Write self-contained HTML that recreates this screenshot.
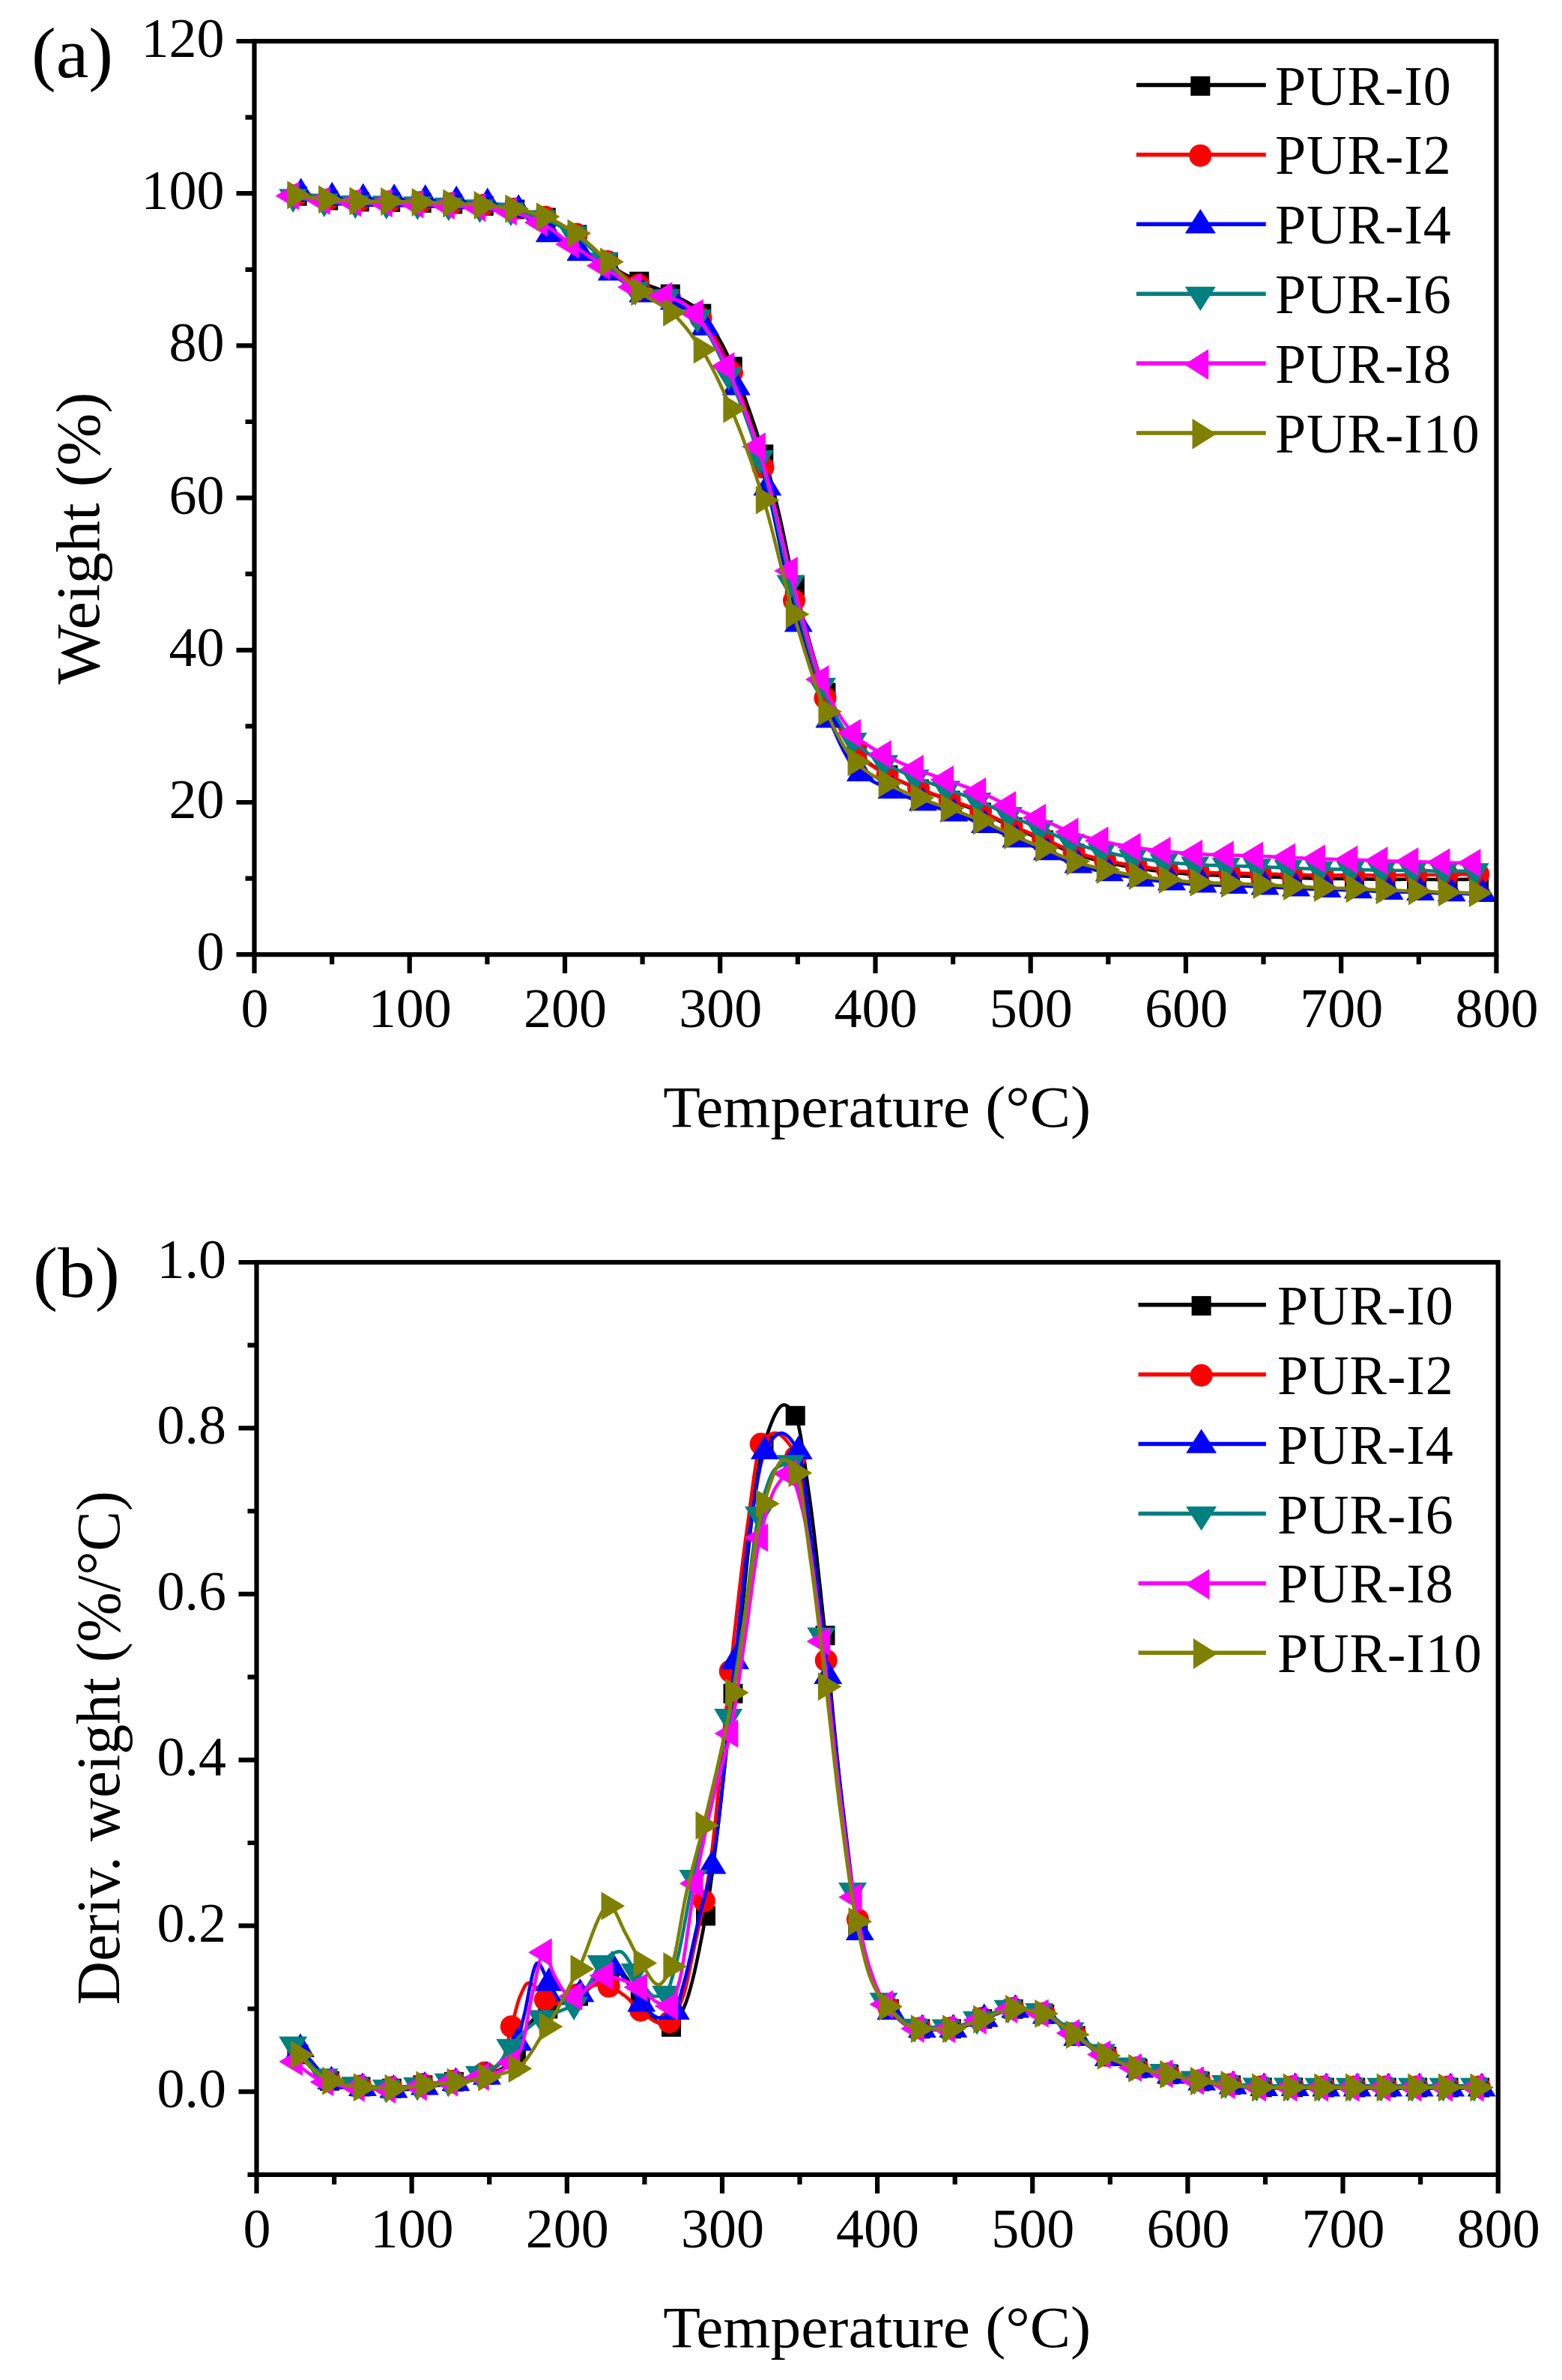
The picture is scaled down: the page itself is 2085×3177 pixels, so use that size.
<!DOCTYPE html>
<html lang="en"><head><meta charset="utf-8"><title>TGA and DTG curves of PUR foams</title>
<style>html,body{margin:0;padding:0;background:#fff}svg{display:block}</style></head>
<body>
<svg width="2085" height="3177" viewBox="0 0 2085 3177" font-family='"Liberation Serif", serif' fill="#000">
<rect width="2085" height="3177" fill="#fff"/>
<g id="pa">
<path d="M396.7,261.7 L397.5,261.8 L401.7,262.5 L405.8,263.2 L410.0,263.9 L414.1,264.6 L418.3,265.2 L422.4,265.9 L426.5,266.4 L430.7,266.9 L434.8,267.3 L438.2,267.5 L439.0,267.6 L443.1,267.9 L447.3,268.1 L451.4,268.4 L455.6,268.6 L459.7,268.8 L463.8,269.0 L468.0,269.1 L472.1,269.2 L476.3,269.3 L479.7,269.4 L480.4,269.4 L484.6,269.5 L488.7,269.5 L492.9,269.6 L497.0,269.6 L501.1,269.6 L505.3,269.7 L509.4,269.7 L513.6,269.8 L517.7,269.8 L521.2,269.9 L521.9,269.9 L526.0,270.0 L530.2,270.0 L534.3,270.1 L538.4,270.2 L542.6,270.3 L546.7,270.4 L550.9,270.5 L555.0,270.7 L559.2,270.8 L562.7,270.9 L563.3,270.9 L567.5,271.0 L571.6,271.1 L575.8,271.3 L579.9,271.4 L584.0,271.6 L588.2,271.7 L592.3,271.9 L596.5,272.0 L600.6,272.2 L604.2,272.4 L604.8,272.4 L608.9,272.6 L613.1,272.8 L617.2,273.0 L621.3,273.2 L625.5,273.5 L629.6,273.7 L633.8,274.0 L637.9,274.3 L642.1,274.6 L645.8,274.9 L646.2,274.9 L650.4,275.3 L652.4,275.4 L654.5,275.6 L656.6,275.8 L658.6,276.0 L660.7,276.2 L662.8,276.4 L664.9,276.6 L666.9,276.8 L669.0,277.1 L671.1,277.3 L673.2,277.6 L675.2,277.8 L677.3,278.1 L679.4,278.4 L681.4,278.6 L683.5,278.9 L685.6,279.2 L687.3,279.5 L687.7,279.6 L689.7,279.9 L691.8,280.3 L693.9,280.7 L695.9,281.1 L698.0,281.6 L700.1,282.0 L702.2,282.5 L704.2,283.0 L706.3,283.6 L708.4,284.1 L710.5,284.7 L712.5,285.3 L714.6,285.9 L716.7,286.5 L718.7,287.1 L720.8,287.8 L722.9,288.5 L725.0,289.2 L727.0,289.9 L728.8,290.5 L729.1,290.6 L731.2,291.4 L733.3,292.3 L735.3,293.2 L737.4,294.1 L739.5,295.1 L741.5,296.1 L743.6,297.2 L745.7,298.3 L747.8,299.4 L749.8,300.5 L751.9,301.7 L754.0,303.0 L756.0,304.2 L758.1,305.5 L760.2,306.8 L762.3,308.1 L764.3,309.4 L766.4,310.7 L768.5,312.1 L770.3,313.3 L770.6,313.5 L772.6,315.0 L774.7,316.5 L776.8,318.1 L778.8,319.8 L780.9,321.5 L783.0,323.2 L785.1,325.0 L787.1,326.9 L789.2,328.7 L791.3,330.6 L793.4,332.5 L795.4,334.4 L797.5,336.4 L799.6,338.3 L801.6,340.2 L803.7,342.2 L805.8,344.1 L807.9,346.1 L809.9,348.0 L811.8,349.7 L812.0,349.9 L814.1,351.8 L816.1,353.7 L818.2,355.6 L820.3,357.4 L822.4,359.1 L824.4,360.6 L826.5,362.0 L828.6,363.3 L830.7,364.5 L832.7,365.7 L834.8,366.7 L836.9,367.8 L838.9,368.8 L841.0,369.8 L843.1,370.7 L845.2,371.7 L847.2,372.7 L849.3,373.7 L851.4,374.8 L853.3,375.7 L853.4,375.8 L855.5,376.8 L857.6,377.7 L859.7,378.6 L861.7,379.5 L863.8,380.3 L865.9,381.1 L868.0,381.9 L870.0,382.7 L872.1,383.5 L874.2,384.2 L876.2,385.0 L878.3,385.7 L880.4,386.5 L882.5,387.3 L884.5,388.1 L886.6,388.9 L888.7,389.8 L890.8,390.7 L892.8,391.6 L894.8,392.6 L894.9,392.6 L897.0,393.6 L899.0,394.6 L901.1,395.5 L903.2,396.5 L905.3,397.4 L907.3,398.4 L909.4,399.3 L911.5,400.3 L913.5,401.4 L915.6,402.5 L917.7,403.6 L919.8,404.9 L921.8,406.2 L923.9,407.6 L926.0,409.1 L928.1,410.8 L930.1,412.6 L932.2,414.5 L934.3,416.5 L936.3,418.7 L936.3,418.7 L938.4,421.1 L940.5,423.5 L942.6,426.1 L944.6,428.8 L946.7,431.6 L948.8,434.6 L950.9,437.6 L952.9,440.8 L955.0,444.1 L957.1,447.5 L959.1,451.1 L961.2,454.8 L963.3,458.6 L965.4,462.5 L967.4,466.6 L969.5,470.8 L971.6,475.2 L973.6,479.7 L975.7,484.3 L977.8,489.2 L977.8,489.3 L979.9,494.1 L981.9,499.2 L984.0,504.3 L986.1,509.6 L988.2,515.0 L990.2,520.4 L992.3,526.0 L994.4,531.6 L996.4,537.3 L998.5,543.1 L1000.6,549.0 L1002.7,555.0 L1004.7,561.1 L1006.8,567.3 L1008.9,573.5 L1010.9,579.9 L1013.0,586.3 L1015.1,592.8 L1017.2,599.4 L1019.2,606.0 L1019.3,606.4 L1021.3,612.9 L1023.4,620.1 L1025.5,627.7 L1027.5,635.5 L1029.6,643.6 L1031.7,651.9 L1033.7,660.3 L1035.8,668.9 L1037.9,677.7 L1040.0,686.4 L1042.0,695.5 L1044.1,705.0 L1046.2,714.9 L1048.3,724.9 L1050.3,735.0 L1052.4,745.0 L1054.5,754.8 L1056.5,764.2 L1058.6,773.2 L1060.7,781.6 L1060.9,782.2 L1062.8,789.7 L1064.8,797.8 L1066.9,805.9 L1069.0,813.9 L1071.0,821.9 L1073.1,829.8 L1075.2,837.5 L1077.3,845.2 L1079.3,852.7 L1081.4,860.1 L1083.5,867.4 L1085.6,874.5 L1087.6,881.4 L1089.7,888.2 L1091.8,894.7 L1093.8,901.0 L1095.9,907.1 L1098.0,913.0 L1100.1,918.6 L1102.1,923.9 L1102.4,924.5 L1104.2,929.0 L1106.3,934.0 L1108.4,939.0 L1110.4,943.9 L1112.5,948.7 L1114.6,953.4 L1116.6,958.0 L1118.7,962.5 L1120.8,966.9 L1122.9,971.1 L1124.9,975.1 L1127.0,979.0 L1129.1,982.8 L1131.1,986.3 L1133.2,989.7 L1135.3,992.9 L1137.4,995.8 L1139.4,998.5 L1141.5,1001.0 L1143.6,1003.3 L1143.9,1003.6 L1145.7,1005.5 L1147.7,1007.6 L1149.8,1009.6 L1151.9,1011.5 L1153.9,1013.3 L1156.0,1015.1 L1158.1,1016.8 L1160.2,1018.4 L1162.2,1020.0 L1164.3,1021.5 L1166.4,1023.0 L1168.5,1024.4 L1170.5,1025.8 L1172.6,1027.1 L1174.7,1028.4 L1176.7,1029.6 L1178.8,1030.9 L1180.9,1032.1 L1183.0,1033.3 L1185.0,1034.4 L1185.4,1034.6 L1187.1,1035.5 L1189.2,1036.6 L1191.2,1037.7 L1193.3,1038.7 L1195.4,1039.8 L1197.5,1040.7 L1199.5,1041.7 L1201.6,1042.7 L1203.7,1043.6 L1205.8,1044.6 L1207.8,1045.5 L1209.9,1046.4 L1214.0,1048.1 L1218.2,1049.9 L1222.3,1051.6 L1226.5,1053.3 L1226.9,1053.4 L1230.6,1054.9 L1234.8,1056.5 L1238.9,1058.0 L1243.1,1059.5 L1247.2,1061.0 L1251.3,1062.4 L1255.5,1063.9 L1259.6,1065.4 L1263.8,1066.9 L1267.9,1068.4 L1268.4,1068.6 L1272.1,1070.0 L1276.2,1071.5 L1280.4,1073.0 L1284.5,1074.6 L1288.6,1076.1 L1292.8,1077.7 L1296.9,1079.3 L1301.1,1080.9 L1305.2,1082.6 L1309.4,1084.3 L1309.9,1084.5 L1313.5,1086.1 L1317.7,1088.0 L1321.8,1089.9 L1326.0,1091.9 L1330.1,1094.0 L1334.2,1096.0 L1338.4,1098.0 L1342.5,1100.0 L1346.7,1102.0 L1350.8,1103.9 L1351.4,1104.1 L1355.0,1105.7 L1359.1,1107.5 L1363.3,1109.2 L1367.4,1111.0 L1371.5,1112.7 L1375.7,1114.4 L1379.8,1116.1 L1384.0,1117.8 L1388.1,1119.5 L1392.3,1121.3 L1392.9,1121.5 L1396.4,1123.1 L1400.6,1124.9 L1404.7,1126.8 L1408.8,1128.7 L1413.0,1130.6 L1417.1,1132.5 L1421.3,1134.3 L1425.4,1136.0 L1429.6,1137.7 L1433.7,1139.2 L1434.4,1139.4 L1437.9,1140.6 L1442.0,1141.9 L1446.1,1143.2 L1450.3,1144.4 L1454.4,1145.6 L1458.6,1146.8 L1462.7,1147.8 L1466.9,1148.9 L1471.0,1149.9 L1475.2,1150.8 L1475.9,1151.0 L1479.3,1151.8 L1483.5,1152.6 L1487.6,1153.5 L1491.7,1154.3 L1495.9,1155.1 L1500.0,1155.9 L1504.2,1156.6 L1508.3,1157.3 L1512.5,1158.0 L1516.6,1158.6 L1517.5,1158.8 L1520.8,1159.3 L1524.9,1159.9 L1529.0,1160.5 L1533.2,1161.0 L1537.3,1161.6 L1541.5,1162.1 L1545.6,1162.6 L1549.8,1163.1 L1553.9,1163.6 L1558.1,1164.0 L1559.0,1164.1 L1562.2,1164.4 L1566.3,1164.9 L1570.5,1165.3 L1574.6,1165.7 L1578.8,1166.0 L1582.9,1166.4 L1587.1,1166.7 L1591.2,1167.0 L1595.4,1167.3 L1599.5,1167.5 L1600.5,1167.6 L1603.6,1167.7 L1607.8,1167.9 L1611.9,1168.1 L1616.1,1168.2 L1620.2,1168.3 L1624.4,1168.4 L1628.5,1168.6 L1632.7,1168.7 L1636.8,1168.8 L1641.0,1168.9 L1642.0,1168.9 L1645.1,1169.0 L1649.2,1169.2 L1653.4,1169.3 L1657.5,1169.4 L1661.7,1169.5 L1665.8,1169.6 L1670.0,1169.7 L1674.1,1169.8 L1678.3,1169.9 L1682.4,1170.1 L1683.5,1170.1 L1686.5,1170.2 L1690.7,1170.3 L1694.8,1170.5 L1699.0,1170.7 L1703.1,1170.8 L1707.3,1171.0 L1711.4,1171.1 L1715.6,1171.3 L1719.7,1171.4 L1723.8,1171.6 L1725.0,1171.6 L1728.0,1171.7 L1732.1,1171.9 L1736.3,1172.0 L1740.4,1172.1 L1744.6,1172.2 L1748.7,1172.4 L1752.9,1172.5 L1757.0,1172.6 L1761.1,1172.6 L1765.3,1172.7 L1766.5,1172.7 L1769.4,1172.8 L1773.6,1172.8 L1777.7,1172.8 L1781.9,1172.9 L1786.0,1172.9 L1790.2,1172.9 L1794.3,1172.9 L1798.5,1172.9 L1802.6,1173.0 L1806.7,1173.0 L1808.0,1173.0 L1810.9,1173.1 L1815.0,1173.2 L1819.2,1173.3 L1823.3,1173.4 L1827.5,1173.5 L1831.6,1173.6 L1835.8,1173.7 L1839.9,1173.8 L1844.0,1173.8 L1848.2,1173.9 L1849.5,1173.9 L1852.3,1173.9 L1856.5,1173.9 L1860.6,1173.9 L1864.8,1173.9 L1868.9,1173.9 L1873.1,1173.8 L1877.2,1173.8 L1881.3,1173.8 L1885.5,1173.8 L1889.6,1173.8 L1891.0,1173.8 L1893.8,1173.8 L1897.9,1173.8 L1902.1,1173.9 L1906.2,1173.9 L1910.4,1174.0 L1914.5,1174.0 L1918.6,1174.1 L1922.8,1174.1 L1926.9,1174.1 L1931.1,1174.1 L1932.6,1174.1 L1935.2,1174.1 L1939.4,1174.1 L1943.5,1174.0 L1947.7,1174.0 L1951.8,1173.9 L1956.0,1173.9 L1960.1,1173.8 L1964.2,1173.8 L1968.4,1173.7 L1972.5,1173.7 L1974.1,1173.7" fill="none" stroke="#000000" stroke-width="4.6" stroke-linejoin="round" stroke-linecap="butt"/>
<rect x="383.7" y="248.7" width="26.0" height="26.0" fill="#000000"/>
<rect x="425.2" y="254.5" width="26.0" height="26.0" fill="#000000"/>
<rect x="466.7" y="256.4" width="26.0" height="26.0" fill="#000000"/>
<rect x="508.2" y="256.9" width="26.0" height="26.0" fill="#000000"/>
<rect x="549.7" y="257.9" width="26.0" height="26.0" fill="#000000"/>
<rect x="591.2" y="259.4" width="26.0" height="26.0" fill="#000000"/>
<rect x="632.8" y="261.9" width="26.0" height="26.0" fill="#000000"/>
<rect x="674.3" y="266.5" width="26.0" height="26.0" fill="#000000"/>
<rect x="715.8" y="277.5" width="26.0" height="26.0" fill="#000000"/>
<rect x="757.3" y="300.3" width="26.0" height="26.0" fill="#000000"/>
<rect x="798.8" y="336.7" width="26.0" height="26.0" fill="#000000"/>
<rect x="840.3" y="362.7" width="26.0" height="26.0" fill="#000000"/>
<rect x="881.8" y="379.6" width="26.0" height="26.0" fill="#000000"/>
<rect x="923.3" y="405.7" width="26.0" height="26.0" fill="#000000"/>
<rect x="964.8" y="476.3" width="26.0" height="26.0" fill="#000000"/>
<rect x="1006.3" y="593.4" width="26.0" height="26.0" fill="#000000"/>
<rect x="1047.9" y="769.2" width="26.0" height="26.0" fill="#000000"/>
<rect x="1089.4" y="911.5" width="26.0" height="26.0" fill="#000000"/>
<rect x="1130.9" y="990.6" width="26.0" height="26.0" fill="#000000"/>
<rect x="1172.4" y="1021.6" width="26.0" height="26.0" fill="#000000"/>
<rect x="1213.9" y="1040.4" width="26.0" height="26.0" fill="#000000"/>
<rect x="1255.4" y="1055.6" width="26.0" height="26.0" fill="#000000"/>
<rect x="1296.9" y="1071.5" width="26.0" height="26.0" fill="#000000"/>
<rect x="1338.4" y="1091.1" width="26.0" height="26.0" fill="#000000"/>
<rect x="1379.9" y="1108.5" width="26.0" height="26.0" fill="#000000"/>
<rect x="1421.4" y="1126.4" width="26.0" height="26.0" fill="#000000"/>
<rect x="1462.9" y="1138.0" width="26.0" height="26.0" fill="#000000"/>
<rect x="1504.5" y="1145.8" width="26.0" height="26.0" fill="#000000"/>
<rect x="1546.0" y="1151.1" width="26.0" height="26.0" fill="#000000"/>
<rect x="1587.5" y="1154.6" width="26.0" height="26.0" fill="#000000"/>
<rect x="1629.0" y="1155.9" width="26.0" height="26.0" fill="#000000"/>
<rect x="1670.5" y="1157.1" width="26.0" height="26.0" fill="#000000"/>
<rect x="1712.0" y="1158.6" width="26.0" height="26.0" fill="#000000"/>
<rect x="1753.5" y="1159.7" width="26.0" height="26.0" fill="#000000"/>
<rect x="1795.0" y="1160.0" width="26.0" height="26.0" fill="#000000"/>
<rect x="1836.5" y="1160.9" width="26.0" height="26.0" fill="#000000"/>
<rect x="1878.0" y="1160.8" width="26.0" height="26.0" fill="#000000"/>
<rect x="1919.6" y="1161.1" width="26.0" height="26.0" fill="#000000"/>
<rect x="1961.1" y="1160.7" width="26.0" height="26.0" fill="#000000"/>
<path d="M395.9,260.5 L397.5,260.8 L401.7,261.5 L405.8,262.2 L410.0,262.9 L414.1,263.6 L418.3,264.2 L422.4,264.9 L426.5,265.4 L430.7,265.9 L434.8,266.3 L437.4,266.5 L439.0,266.6 L443.1,266.8 L447.3,267.1 L451.4,267.4 L455.6,267.6 L459.7,267.8 L463.8,268.0 L468.0,268.1 L472.1,268.2 L476.3,268.3 L478.9,268.4 L480.4,268.4 L484.6,268.5 L488.7,268.5 L492.9,268.6 L497.0,268.6 L501.1,268.7 L505.3,268.7 L509.4,268.7 L513.6,268.8 L517.7,268.9 L520.4,268.9 L521.9,268.9 L526.0,269.0 L530.2,269.1 L534.3,269.2 L538.4,269.3 L542.6,269.4 L546.7,269.5 L550.9,269.6 L555.0,269.7 L559.2,269.9 L561.9,269.9 L563.3,270.0 L567.5,270.1 L571.6,270.2 L575.8,270.4 L579.9,270.5 L584.0,270.7 L588.2,270.8 L592.3,271.0 L596.5,271.2 L600.6,271.4 L603.4,271.5 L604.8,271.5 L608.9,271.7 L613.1,272.0 L617.2,272.2 L621.3,272.4 L625.5,272.7 L629.6,273.0 L633.8,273.2 L637.9,273.5 L642.1,273.9 L644.9,274.1 L646.2,274.2 L650.4,274.5 L652.4,274.7 L654.5,274.9 L656.6,275.1 L658.6,275.3 L660.7,275.5 L662.8,275.7 L664.9,275.9 L666.9,276.1 L669.0,276.4 L671.1,276.6 L673.2,276.9 L675.2,277.1 L677.3,277.4 L679.4,277.7 L681.4,278.0 L683.5,278.3 L685.6,278.6 L686.4,278.8 L687.7,279.0 L689.7,279.3 L691.8,279.7 L693.9,280.1 L695.9,280.5 L698.0,281.0 L700.1,281.5 L702.2,282.0 L704.2,282.5 L706.3,283.0 L708.4,283.6 L710.5,284.1 L712.5,284.7 L714.6,285.4 L716.7,286.0 L718.7,286.6 L720.8,287.3 L722.9,288.0 L725.0,288.7 L727.0,289.4 L727.9,289.7 L729.1,290.2 L731.2,291.0 L733.3,291.8 L735.3,292.7 L737.4,293.7 L739.5,294.7 L741.5,295.7 L743.6,296.8 L745.7,297.9 L747.8,299.0 L749.8,300.2 L751.9,301.4 L754.0,302.6 L756.0,303.9 L758.1,305.1 L760.2,306.4 L762.3,307.8 L764.3,309.1 L766.4,310.4 L768.5,311.8 L769.5,312.5 L770.6,313.2 L772.6,314.7 L774.7,316.3 L776.8,317.9 L778.8,319.6 L780.9,321.3 L783.0,323.0 L785.1,324.8 L787.1,326.7 L789.2,328.6 L791.3,330.5 L793.4,332.4 L795.4,334.3 L797.5,336.2 L799.6,338.2 L801.6,340.2 L803.7,342.1 L805.8,344.1 L807.9,346.0 L809.9,347.9 L811.0,348.9 L812.0,349.8 L814.1,351.8 L816.1,353.7 L818.2,355.7 L820.3,357.6 L822.4,359.4 L824.4,361.2 L826.5,362.9 L828.6,364.6 L830.7,366.2 L832.7,367.8 L834.8,369.3 L836.9,370.7 L838.9,372.1 L841.0,373.5 L843.1,374.8 L845.2,376.1 L847.2,377.4 L849.3,378.6 L851.4,379.8 L852.5,380.4 L853.4,381.0 L855.5,382.1 L857.6,383.1 L859.7,384.0 L861.7,384.9 L863.8,385.8 L865.9,386.6 L868.0,387.4 L870.0,388.1 L872.1,388.8 L874.2,389.6 L876.2,390.3 L878.3,391.0 L880.4,391.7 L882.5,392.5 L884.5,393.2 L886.6,394.0 L888.7,394.9 L890.8,395.8 L892.8,396.7 L894.0,397.3 L894.9,397.7 L897.0,398.7 L899.0,399.7 L901.1,400.7 L903.2,401.7 L905.3,402.7 L907.3,403.7 L909.4,404.8 L911.5,405.9 L913.5,407.0 L915.6,408.2 L917.7,409.5 L919.8,410.9 L921.8,412.3 L923.9,413.8 L926.0,415.5 L928.1,417.3 L930.1,419.2 L932.2,421.3 L934.3,423.5 L935.5,424.8 L936.3,425.8 L938.4,428.4 L940.5,431.0 L942.6,433.8 L944.6,436.7 L946.7,439.7 L948.8,442.8 L950.9,446.1 L952.9,449.4 L955.0,452.9 L957.1,456.6 L959.1,460.3 L961.2,464.2 L963.3,468.1 L965.4,472.2 L967.4,476.4 L969.5,480.8 L971.6,485.2 L973.6,489.8 L975.7,494.5 L977.0,497.5 L977.8,499.3 L979.9,504.3 L981.9,509.5 L984.0,514.9 L986.1,520.4 L988.2,526.1 L990.2,531.9 L992.3,537.9 L994.4,544.0 L996.4,550.3 L998.5,556.7 L1000.6,563.2 L1002.7,569.8 L1004.7,576.6 L1006.8,583.4 L1008.9,590.4 L1010.9,597.4 L1013.0,604.5 L1015.1,611.7 L1017.2,619.0 L1018.5,623.8 L1019.2,626.3 L1021.3,633.9 L1023.4,641.9 L1025.5,650.3 L1027.5,659.0 L1029.6,668.0 L1031.7,677.3 L1033.7,686.7 L1035.8,696.2 L1037.9,705.9 L1040.0,715.6 L1042.0,725.2 L1044.1,734.8 L1046.2,744.4 L1048.3,753.7 L1050.3,762.9 L1052.4,771.7 L1054.5,780.3 L1056.5,788.6 L1058.6,796.4 L1060.0,801.5 L1060.7,803.9 L1062.8,811.3 L1064.8,818.6 L1066.9,825.9 L1069.0,833.2 L1071.0,840.4 L1073.1,847.5 L1075.2,854.5 L1077.3,861.5 L1079.3,868.3 L1081.4,875.1 L1083.5,881.7 L1085.6,888.1 L1087.6,894.4 L1089.7,900.5 L1091.8,906.5 L1093.8,912.2 L1095.9,917.8 L1098.0,923.1 L1100.1,928.2 L1101.5,931.7 L1102.1,933.0 L1104.2,937.7 L1106.3,942.3 L1108.4,946.8 L1110.4,951.3 L1112.5,955.6 L1114.6,959.9 L1116.6,964.1 L1118.7,968.2 L1120.8,972.2 L1122.9,976.1 L1124.9,979.8 L1127.0,983.4 L1129.1,986.8 L1131.1,990.1 L1133.2,993.2 L1135.3,996.1 L1137.4,998.8 L1139.4,1001.4 L1141.5,1003.7 L1143.0,1005.3 L1143.6,1005.8 L1145.7,1007.8 L1147.7,1009.8 L1149.8,1011.6 L1151.9,1013.4 L1153.9,1015.1 L1156.0,1016.7 L1158.1,1018.2 L1160.2,1019.7 L1162.2,1021.2 L1164.3,1022.5 L1166.4,1023.8 L1168.5,1025.1 L1170.5,1026.3 L1172.6,1027.5 L1174.7,1028.7 L1176.7,1029.9 L1178.8,1031.0 L1180.9,1032.2 L1183.0,1033.3 L1184.6,1034.2 L1185.0,1034.4 L1187.1,1035.5 L1189.2,1036.6 L1191.2,1037.6 L1193.3,1038.6 L1195.4,1039.6 L1197.5,1040.6 L1199.5,1041.5 L1201.6,1042.5 L1203.7,1043.4 L1205.8,1044.3 L1207.8,1045.2 L1209.9,1046.1 L1214.0,1047.8 L1218.2,1049.5 L1222.3,1051.1 L1226.1,1052.6 L1226.5,1052.8 L1230.6,1054.4 L1234.8,1055.9 L1238.9,1057.4 L1243.1,1058.8 L1247.2,1060.3 L1251.3,1061.7 L1255.5,1063.1 L1259.6,1064.5 L1263.8,1066.0 L1267.6,1067.3 L1267.9,1067.5 L1272.1,1069.0 L1276.2,1070.5 L1280.4,1072.0 L1284.5,1073.4 L1288.6,1075.0 L1292.8,1076.5 L1296.9,1078.1 L1301.1,1079.7 L1305.2,1081.3 L1309.1,1082.9 L1309.4,1083.0 L1313.5,1084.7 L1317.7,1086.6 L1321.8,1088.5 L1326.0,1090.5 L1330.1,1092.5 L1334.2,1094.5 L1338.4,1096.5 L1342.5,1098.4 L1346.7,1100.3 L1350.6,1102.1 L1350.8,1102.2 L1355.0,1104.0 L1359.1,1105.7 L1363.3,1107.5 L1367.4,1109.2 L1371.5,1110.8 L1375.7,1112.5 L1379.8,1114.2 L1384.0,1115.9 L1388.1,1117.6 L1392.1,1119.2 L1392.3,1119.3 L1396.4,1121.0 L1400.6,1122.9 L1404.7,1124.7 L1408.8,1126.6 L1413.0,1128.5 L1417.1,1130.3 L1421.3,1132.1 L1425.4,1133.8 L1429.6,1135.4 L1433.6,1136.9 L1433.7,1136.9 L1437.9,1138.3 L1442.0,1139.6 L1446.1,1140.8 L1450.3,1142.1 L1454.4,1143.2 L1458.6,1144.3 L1462.7,1145.4 L1466.9,1146.4 L1471.0,1147.4 L1475.1,1148.3 L1475.2,1148.3 L1479.3,1149.2 L1483.5,1150.1 L1487.6,1150.9 L1491.7,1151.7 L1495.9,1152.5 L1500.0,1153.2 L1504.2,1153.9 L1508.3,1154.6 L1512.5,1155.3 L1516.6,1155.9 L1516.6,1155.9 L1520.8,1156.5 L1524.9,1157.1 L1529.0,1157.7 L1533.2,1158.2 L1537.3,1158.8 L1541.5,1159.3 L1545.6,1159.8 L1549.8,1160.2 L1553.9,1160.7 L1558.1,1161.1 L1558.1,1161.1 L1562.2,1161.5 L1566.3,1161.9 L1570.5,1162.3 L1574.6,1162.7 L1578.8,1163.0 L1582.9,1163.4 L1587.1,1163.7 L1591.2,1163.9 L1595.4,1164.2 L1599.5,1164.4 L1599.6,1164.4 L1603.6,1164.6 L1607.8,1164.7 L1611.9,1164.9 L1616.1,1165.0 L1620.2,1165.1 L1624.4,1165.2 L1628.5,1165.3 L1632.7,1165.3 L1636.8,1165.4 L1641.0,1165.5 L1641.2,1165.5 L1645.1,1165.6 L1649.2,1165.7 L1653.4,1165.8 L1657.5,1165.9 L1661.7,1165.9 L1665.8,1166.0 L1670.0,1166.1 L1674.1,1166.2 L1678.3,1166.3 L1682.4,1166.4 L1682.7,1166.4 L1686.5,1166.5 L1690.7,1166.6 L1694.8,1166.7 L1699.0,1166.8 L1703.1,1166.9 L1707.3,1167.1 L1711.4,1167.2 L1715.6,1167.3 L1719.7,1167.4 L1723.8,1167.5 L1724.2,1167.5 L1728.0,1167.6 L1732.1,1167.7 L1736.3,1167.8 L1740.4,1167.9 L1744.6,1168.0 L1748.7,1168.0 L1752.9,1168.1 L1757.0,1168.2 L1761.1,1168.2 L1765.3,1168.2 L1765.7,1168.2 L1769.4,1168.2 L1773.6,1168.2 L1777.7,1168.2 L1781.9,1168.2 L1786.0,1168.2 L1790.2,1168.1 L1794.3,1168.1 L1798.5,1168.1 L1802.6,1168.1 L1806.7,1168.1 L1807.2,1168.1 L1810.9,1168.1 L1815.0,1168.1 L1819.2,1168.2 L1823.3,1168.2 L1827.5,1168.3 L1831.6,1168.4 L1835.8,1168.4 L1839.9,1168.5 L1844.0,1168.5 L1848.2,1168.5 L1848.7,1168.5 L1852.3,1168.4 L1856.5,1168.4 L1860.6,1168.3 L1864.8,1168.3 L1868.9,1168.2 L1873.1,1168.1 L1877.2,1168.1 L1881.3,1168.0 L1885.5,1167.9 L1889.6,1167.9 L1890.2,1167.9 L1893.8,1167.9 L1897.9,1167.8 L1902.1,1167.8 L1906.2,1167.8 L1910.4,1167.8 L1914.5,1167.8 L1918.6,1167.8 L1922.8,1167.8 L1926.9,1167.8 L1931.1,1167.7 L1931.7,1167.7 L1935.2,1167.7 L1939.4,1167.6 L1943.5,1167.5 L1947.7,1167.4 L1951.8,1167.3 L1956.0,1167.2 L1960.1,1167.1 L1964.2,1167.0 L1968.4,1167.0 L1972.5,1166.9 L1973.2,1166.9" fill="none" stroke="#FF0000" stroke-width="4.6" stroke-linejoin="round" stroke-linecap="butt"/>
<circle cx="395.9" cy="260.5" r="15" fill="#FF0000"/>
<circle cx="437.4" cy="266.5" r="15" fill="#FF0000"/>
<circle cx="478.9" cy="268.4" r="15" fill="#FF0000"/>
<circle cx="520.4" cy="268.9" r="15" fill="#FF0000"/>
<circle cx="561.9" cy="269.9" r="15" fill="#FF0000"/>
<circle cx="603.4" cy="271.5" r="15" fill="#FF0000"/>
<circle cx="644.9" cy="274.1" r="15" fill="#FF0000"/>
<circle cx="686.4" cy="278.8" r="15" fill="#FF0000"/>
<circle cx="727.9" cy="289.7" r="15" fill="#FF0000"/>
<circle cx="769.5" cy="312.5" r="15" fill="#FF0000"/>
<circle cx="811.0" cy="348.9" r="15" fill="#FF0000"/>
<circle cx="852.5" cy="380.4" r="15" fill="#FF0000"/>
<circle cx="894.0" cy="397.3" r="15" fill="#FF0000"/>
<circle cx="935.5" cy="424.8" r="15" fill="#FF0000"/>
<circle cx="977.0" cy="497.5" r="15" fill="#FF0000"/>
<circle cx="1018.5" cy="623.8" r="15" fill="#FF0000"/>
<circle cx="1060.0" cy="801.5" r="15" fill="#FF0000"/>
<circle cx="1101.5" cy="931.7" r="15" fill="#FF0000"/>
<circle cx="1143.0" cy="1005.3" r="15" fill="#FF0000"/>
<circle cx="1184.6" cy="1034.2" r="15" fill="#FF0000"/>
<circle cx="1226.1" cy="1052.6" r="15" fill="#FF0000"/>
<circle cx="1267.6" cy="1067.3" r="15" fill="#FF0000"/>
<circle cx="1309.1" cy="1082.9" r="15" fill="#FF0000"/>
<circle cx="1350.6" cy="1102.1" r="15" fill="#FF0000"/>
<circle cx="1392.1" cy="1119.2" r="15" fill="#FF0000"/>
<circle cx="1433.6" cy="1136.9" r="15" fill="#FF0000"/>
<circle cx="1475.1" cy="1148.3" r="15" fill="#FF0000"/>
<circle cx="1516.6" cy="1155.9" r="15" fill="#FF0000"/>
<circle cx="1558.1" cy="1161.1" r="15" fill="#FF0000"/>
<circle cx="1599.6" cy="1164.4" r="15" fill="#FF0000"/>
<circle cx="1641.2" cy="1165.5" r="15" fill="#FF0000"/>
<circle cx="1682.7" cy="1166.4" r="15" fill="#FF0000"/>
<circle cx="1724.2" cy="1167.5" r="15" fill="#FF0000"/>
<circle cx="1765.7" cy="1168.2" r="15" fill="#FF0000"/>
<circle cx="1807.2" cy="1168.1" r="15" fill="#FF0000"/>
<circle cx="1848.7" cy="1168.5" r="15" fill="#FF0000"/>
<circle cx="1890.2" cy="1167.9" r="15" fill="#FF0000"/>
<circle cx="1931.7" cy="1167.7" r="15" fill="#FF0000"/>
<circle cx="1973.2" cy="1166.9" r="15" fill="#FF0000"/>
<path d="M401.7,258.4 L405.8,259.1 L410.0,259.8 L414.1,260.5 L418.3,261.2 L422.4,261.8 L426.5,262.4 L430.7,262.8 L434.8,263.2 L439.0,263.5 L443.1,263.8 L443.2,263.8 L447.3,264.1 L451.4,264.3 L455.6,264.5 L459.7,264.7 L463.8,264.9 L468.0,265.1 L472.1,265.2 L476.3,265.3 L480.4,265.4 L484.6,265.4 L484.7,265.4 L488.7,265.5 L492.9,265.5 L497.0,265.6 L501.1,265.6 L505.3,265.7 L509.4,265.7 L513.6,265.7 L517.7,265.8 L521.9,265.9 L526.0,266.0 L526.2,266.0 L530.2,266.0 L534.3,266.1 L538.4,266.2 L542.6,266.3 L546.7,266.5 L550.9,266.6 L555.0,266.7 L559.2,266.8 L563.3,266.9 L567.5,267.1 L567.7,267.1 L571.6,267.2 L575.8,267.3 L579.9,267.5 L584.0,267.6 L588.2,267.8 L592.3,267.9 L596.5,268.1 L600.6,268.3 L604.8,268.5 L608.9,268.7 L609.2,268.7 L613.1,268.9 L617.2,269.1 L621.3,269.4 L625.5,269.6 L629.6,269.9 L633.8,270.2 L637.9,270.5 L642.1,270.8 L646.2,271.1 L650.4,271.5 L650.7,271.5 L652.4,271.7 L654.5,271.8 L656.6,272.0 L658.6,272.2 L660.7,272.4 L662.8,272.7 L664.9,272.9 L666.9,273.1 L669.0,273.3 L671.1,273.6 L673.2,273.8 L675.2,274.1 L677.3,274.4 L679.4,274.7 L681.4,274.9 L683.5,275.4 L685.6,276.1 L687.7,277.2 L689.7,278.4 L691.8,279.9 L692.2,280.2 L693.9,281.5 L695.9,283.3 L698.0,285.3 L700.1,287.3 L702.2,289.4 L704.2,291.5 L706.3,293.6 L708.4,295.8 L710.5,297.8 L712.5,299.8 L714.6,301.6 L716.7,303.3 L718.7,304.9 L720.8,306.2 L722.9,307.3 L725.0,308.3 L727.0,309.3 L729.1,310.3 L731.2,311.3 L733.3,312.4 L733.7,312.7 L735.3,313.5 L737.4,314.7 L739.5,315.9 L741.5,317.1 L743.6,318.3 L745.7,319.6 L747.8,320.9 L749.8,322.2 L751.9,323.5 L754.0,324.8 L756.0,326.1 L758.1,327.4 L760.2,328.8 L762.3,330.1 L764.3,331.4 L766.4,332.6 L768.5,333.8 L770.6,335.0 L772.6,336.1 L774.7,337.3 L775.3,337.6 L776.8,338.5 L778.8,339.7 L780.9,340.8 L783.0,342.1 L785.1,343.3 L787.1,344.5 L789.2,345.7 L791.3,347.0 L793.4,348.3 L795.4,349.5 L797.5,350.8 L799.6,352.2 L801.6,353.5 L803.7,354.9 L805.8,356.3 L807.9,357.7 L809.9,359.1 L812.0,360.5 L814.1,362.0 L816.1,363.6 L816.8,364.0 L818.2,365.2 L820.3,366.8 L822.4,368.5 L824.4,370.2 L826.5,371.9 L828.6,373.6 L830.7,375.3 L832.7,377.0 L834.8,378.7 L836.9,380.3 L838.9,381.9 L841.0,383.4 L843.1,384.9 L845.2,386.3 L847.2,387.6 L849.3,388.8 L851.4,389.9 L853.4,390.9 L855.5,391.8 L857.6,392.6 L858.3,392.8 L859.7,393.2 L861.7,393.8 L863.8,394.3 L865.9,394.8 L868.0,395.2 L870.0,395.5 L872.1,395.9 L874.2,396.2 L876.2,396.5 L878.3,396.8 L880.4,397.1 L882.5,397.4 L884.5,397.8 L886.6,398.3 L888.7,398.8 L890.8,399.3 L892.8,400.0 L894.9,400.8 L897.0,401.6 L899.0,402.5 L899.8,402.8 L901.1,403.4 L903.2,404.4 L905.3,405.4 L907.3,406.5 L909.4,407.7 L911.5,409.0 L913.5,410.3 L915.6,411.7 L917.7,413.2 L919.8,414.7 L921.8,416.4 L923.9,418.1 L926.0,420.0 L928.1,422.0 L930.1,424.0 L932.2,426.2 L934.3,428.5 L936.3,430.9 L938.4,433.5 L940.5,436.1 L941.3,437.2 L942.6,438.9 L944.6,441.8 L946.7,444.8 L948.8,447.9 L950.9,451.2 L952.9,454.6 L955.0,458.1 L957.1,461.7 L959.1,465.4 L961.2,469.3 L963.3,473.2 L965.4,477.3 L967.4,481.5 L969.5,485.9 L971.6,490.3 L973.6,494.9 L975.7,499.6 L977.8,504.4 L979.9,509.4 L981.9,514.6 L982.8,516.8 L984.0,519.9 L986.1,525.4 L988.2,531.1 L990.2,536.9 L992.3,542.9 L994.4,549.0 L996.4,555.3 L998.5,561.6 L1000.6,568.1 L1002.7,574.8 L1004.7,581.5 L1006.8,588.3 L1008.9,595.3 L1010.9,602.3 L1013.0,609.5 L1015.1,616.7 L1017.2,624.0 L1019.2,631.4 L1021.3,639.1 L1023.4,647.2 L1024.3,651.0 L1025.5,655.7 L1027.5,664.6 L1029.6,673.7 L1031.7,683.2 L1033.7,692.8 L1035.8,702.6 L1037.9,712.5 L1040.0,722.5 L1042.0,732.5 L1044.1,742.4 L1046.2,752.2 L1048.3,761.9 L1050.3,771.4 L1052.4,780.6 L1054.5,789.5 L1056.5,798.1 L1058.6,806.3 L1060.7,814.1 L1062.8,821.7 L1064.8,829.4 L1065.8,833.0 L1066.9,836.9 L1069.0,844.5 L1071.0,851.9 L1073.1,859.3 L1075.2,866.5 L1077.3,873.7 L1079.3,880.8 L1081.4,887.7 L1083.5,894.5 L1085.6,901.2 L1087.6,907.7 L1089.7,914.1 L1091.8,920.3 L1093.8,926.3 L1095.9,932.1 L1098.0,937.7 L1100.1,943.1 L1102.1,948.3 L1104.2,953.3 L1106.3,958.3 L1107.3,960.8 L1108.4,963.2 L1110.4,968.1 L1112.5,972.9 L1114.6,977.7 L1116.6,982.4 L1118.7,987.0 L1120.8,991.4 L1122.9,995.7 L1124.9,999.9 L1127.0,1003.8 L1129.1,1007.6 L1131.1,1011.2 L1133.2,1014.6 L1135.3,1017.8 L1137.4,1020.7 L1139.4,1023.3 L1141.5,1025.6 L1143.6,1027.7 L1145.7,1029.6 L1147.7,1031.4 L1148.8,1032.4 L1149.8,1033.1 L1151.9,1034.7 L1153.9,1036.2 L1156.0,1037.6 L1158.1,1039.0 L1160.2,1040.2 L1162.2,1041.4 L1164.3,1042.5 L1166.4,1043.6 L1168.5,1044.7 L1170.5,1045.7 L1172.6,1046.7 L1174.7,1047.7 L1176.7,1048.7 L1178.8,1049.7 L1180.9,1050.7 L1183.0,1051.7 L1185.0,1052.7 L1187.1,1053.7 L1189.2,1054.7 L1190.4,1055.3 L1191.2,1055.7 L1193.3,1056.6 L1195.4,1057.5 L1197.5,1058.4 L1199.5,1059.3 L1201.6,1060.2 L1203.7,1061.0 L1205.8,1061.9 L1207.8,1062.7 L1209.9,1063.5 L1214.0,1065.1 L1218.2,1066.7 L1222.3,1068.2 L1226.5,1069.8 L1230.6,1071.3 L1231.9,1071.7 L1234.8,1072.7 L1238.9,1074.1 L1243.1,1075.5 L1247.2,1076.8 L1251.3,1078.2 L1255.5,1079.6 L1259.6,1080.9 L1263.8,1082.4 L1267.9,1083.8 L1272.1,1085.3 L1273.4,1085.8 L1276.2,1086.8 L1280.4,1088.2 L1284.5,1089.7 L1288.6,1091.2 L1292.8,1092.7 L1296.9,1094.3 L1301.1,1095.8 L1305.2,1097.5 L1309.4,1099.1 L1313.5,1100.9 L1314.9,1101.5 L1317.7,1102.7 L1321.8,1104.6 L1326.0,1106.6 L1330.1,1108.6 L1334.2,1110.6 L1338.4,1112.5 L1342.5,1114.5 L1346.7,1116.4 L1350.8,1118.3 L1355.0,1120.0 L1356.4,1120.7 L1359.1,1121.8 L1363.3,1123.5 L1367.4,1125.2 L1371.5,1126.9 L1375.7,1128.6 L1379.8,1130.2 L1384.0,1131.9 L1388.1,1133.6 L1392.3,1135.3 L1396.4,1137.1 L1397.9,1137.7 L1400.6,1138.9 L1404.7,1140.8 L1408.8,1142.7 L1413.0,1144.5 L1417.1,1146.4 L1421.3,1148.2 L1425.4,1149.9 L1429.6,1151.5 L1433.7,1153.0 L1437.9,1154.3 L1439.4,1154.8 L1442.0,1155.7 L1446.1,1156.9 L1450.3,1158.1 L1454.4,1159.3 L1458.6,1160.4 L1462.7,1161.5 L1466.9,1162.5 L1471.0,1163.5 L1475.2,1164.4 L1479.3,1165.3 L1480.9,1165.7 L1483.5,1166.2 L1487.6,1167.0 L1491.7,1167.8 L1495.9,1168.6 L1500.0,1169.4 L1504.2,1170.1 L1508.3,1170.8 L1512.5,1171.4 L1516.6,1172.1 L1520.8,1172.7 L1522.4,1172.9 L1524.9,1173.3 L1529.0,1173.9 L1533.2,1174.4 L1537.3,1175.0 L1541.5,1175.5 L1545.6,1176.0 L1549.8,1176.5 L1553.9,1176.9 L1558.1,1177.3 L1562.2,1177.7 L1563.9,1177.9 L1566.3,1178.1 L1570.5,1178.5 L1574.6,1178.9 L1578.8,1179.3 L1582.9,1179.6 L1587.1,1179.9 L1591.2,1180.2 L1595.4,1180.5 L1599.5,1180.7 L1603.6,1180.9 L1605.5,1181.0 L1607.8,1181.0 L1611.9,1181.2 L1616.1,1181.3 L1620.2,1181.5 L1624.4,1181.6 L1628.5,1181.7 L1632.7,1181.9 L1636.8,1182.0 L1641.0,1182.1 L1645.1,1182.3 L1647.0,1182.3 L1649.2,1182.4 L1653.4,1182.5 L1657.5,1182.7 L1661.7,1182.8 L1665.8,1182.9 L1670.0,1183.1 L1674.1,1183.2 L1678.3,1183.4 L1682.4,1183.5 L1686.5,1183.7 L1688.5,1183.8 L1690.7,1183.9 L1694.8,1184.1 L1699.0,1184.3 L1703.1,1184.5 L1707.3,1184.7 L1711.4,1184.9 L1715.6,1185.1 L1719.7,1185.3 L1723.8,1185.5 L1728.0,1185.7 L1730.0,1185.8 L1732.1,1185.9 L1736.3,1186.1 L1740.4,1186.3 L1744.6,1186.5 L1748.7,1186.6 L1752.9,1186.8 L1757.0,1187.0 L1761.1,1187.1 L1765.3,1187.3 L1769.4,1187.4 L1771.5,1187.5 L1773.6,1187.5 L1777.7,1187.6 L1781.9,1187.7 L1786.0,1187.8 L1790.2,1187.9 L1794.3,1188.0 L1798.5,1188.1 L1802.6,1188.2 L1806.7,1188.4 L1810.9,1188.5 L1813.0,1188.6 L1815.0,1188.7 L1819.2,1188.9 L1823.3,1189.1 L1827.5,1189.3 L1831.6,1189.5 L1835.8,1189.6 L1839.9,1189.8 L1844.0,1190.0 L1848.2,1190.1 L1852.3,1190.2 L1854.5,1190.3 L1856.5,1190.3 L1860.6,1190.4 L1864.8,1190.5 L1868.9,1190.6 L1873.1,1190.7 L1877.2,1190.8 L1881.3,1190.9 L1885.5,1191.0 L1889.6,1191.1 L1893.8,1191.2 L1896.0,1191.3 L1897.9,1191.3 L1902.1,1191.5 L1906.2,1191.6 L1910.4,1191.8 L1914.5,1192.0 L1918.6,1192.1 L1922.8,1192.3 L1926.9,1192.4 L1931.1,1192.5 L1935.2,1192.6 L1937.5,1192.7 L1939.4,1192.7 L1943.5,1192.8 L1947.7,1192.8 L1951.8,1192.9 L1956.0,1193.0 L1960.1,1193.1 L1964.2,1193.1 L1968.4,1193.2 L1972.5,1193.3 L1976.7,1193.4 L1979.0,1193.4" fill="none" stroke="#0000FF" stroke-width="4.6" stroke-linejoin="round" stroke-linecap="butt"/>
<polygon points="401.7,237.4 382.7,269.0 420.7,269.0" fill="#0000FF"/>
<polygon points="443.2,242.8 424.2,274.4 462.2,274.4" fill="#0000FF"/>
<polygon points="484.7,244.4 465.7,276.0 503.7,276.0" fill="#0000FF"/>
<polygon points="526.2,245.0 507.2,276.6 545.2,276.6" fill="#0000FF"/>
<polygon points="567.7,246.1 548.7,277.7 586.7,277.7" fill="#0000FF"/>
<polygon points="609.2,247.7 590.2,279.3 628.2,279.3" fill="#0000FF"/>
<polygon points="650.7,250.5 631.7,282.1 669.7,282.1" fill="#0000FF"/>
<polygon points="692.2,259.2 673.2,290.8 711.2,290.8" fill="#0000FF"/>
<polygon points="733.7,291.7 714.7,323.3 752.7,323.3" fill="#0000FF"/>
<polygon points="775.3,316.6 756.3,348.2 794.3,348.2" fill="#0000FF"/>
<polygon points="816.8,343.0 797.8,374.6 835.8,374.6" fill="#0000FF"/>
<polygon points="858.3,371.8 839.3,403.4 877.3,403.4" fill="#0000FF"/>
<polygon points="899.8,381.8 880.8,413.4 918.8,413.4" fill="#0000FF"/>
<polygon points="941.3,416.2 922.3,447.8 960.3,447.8" fill="#0000FF"/>
<polygon points="982.8,495.8 963.8,527.4 1001.8,527.4" fill="#0000FF"/>
<polygon points="1024.3,630.0 1005.3,661.6 1043.3,661.6" fill="#0000FF"/>
<polygon points="1065.8,812.0 1046.8,843.6 1084.8,843.6" fill="#0000FF"/>
<polygon points="1107.3,939.8 1088.3,971.4 1126.3,971.4" fill="#0000FF"/>
<polygon points="1148.8,1011.4 1129.8,1043.0 1167.8,1043.0" fill="#0000FF"/>
<polygon points="1190.4,1034.3 1171.4,1065.9 1209.4,1065.9" fill="#0000FF"/>
<polygon points="1231.9,1050.7 1212.9,1082.3 1250.9,1082.3" fill="#0000FF"/>
<polygon points="1273.4,1064.8 1254.4,1096.4 1292.4,1096.4" fill="#0000FF"/>
<polygon points="1314.9,1080.5 1295.9,1112.1 1333.9,1112.1" fill="#0000FF"/>
<polygon points="1356.4,1099.7 1337.4,1131.3 1375.4,1131.3" fill="#0000FF"/>
<polygon points="1397.9,1116.7 1378.9,1148.3 1416.9,1148.3" fill="#0000FF"/>
<polygon points="1439.4,1133.8 1420.4,1165.4 1458.4,1165.4" fill="#0000FF"/>
<polygon points="1480.9,1144.7 1461.9,1176.3 1499.9,1176.3" fill="#0000FF"/>
<polygon points="1522.4,1151.9 1503.4,1183.5 1541.4,1183.5" fill="#0000FF"/>
<polygon points="1563.9,1156.9 1544.9,1188.5 1582.9,1188.5" fill="#0000FF"/>
<polygon points="1605.5,1160.0 1586.5,1191.6 1624.5,1191.6" fill="#0000FF"/>
<polygon points="1647.0,1161.3 1628.0,1192.9 1666.0,1192.9" fill="#0000FF"/>
<polygon points="1688.5,1162.8 1669.5,1194.4 1707.5,1194.4" fill="#0000FF"/>
<polygon points="1730.0,1164.8 1711.0,1196.4 1749.0,1196.4" fill="#0000FF"/>
<polygon points="1771.5,1166.5 1752.5,1198.1 1790.5,1198.1" fill="#0000FF"/>
<polygon points="1813.0,1167.6 1794.0,1199.2 1832.0,1199.2" fill="#0000FF"/>
<polygon points="1854.5,1169.3 1835.5,1200.9 1873.5,1200.9" fill="#0000FF"/>
<polygon points="1896.0,1170.3 1877.0,1201.9 1915.0,1201.9" fill="#0000FF"/>
<polygon points="1937.5,1171.7 1918.5,1203.3 1956.5,1203.3" fill="#0000FF"/>
<polygon points="1979.0,1172.4 1960.0,1204.0 1998.0,1204.0" fill="#0000FF"/>
<path d="M391.3,262.9 L393.4,263.2 L397.5,263.8 L401.7,264.5 L405.8,265.2 L410.0,265.9 L414.1,266.6 L418.3,267.3 L422.4,267.9 L426.5,268.5 L430.7,268.9 L432.8,269.1 L434.8,269.3 L439.0,269.6 L443.1,269.9 L447.3,270.2 L451.4,270.4 L455.6,270.6 L459.7,270.8 L463.8,271.0 L468.0,271.2 L472.1,271.3 L474.3,271.3 L476.3,271.4 L480.4,271.5 L484.6,271.5 L488.7,271.6 L492.9,271.6 L497.0,271.7 L501.1,271.7 L505.3,271.7 L509.4,271.8 L513.6,271.8 L515.8,271.9 L517.7,271.9 L521.9,272.0 L526.0,272.0 L530.2,272.1 L534.3,272.2 L538.4,272.3 L542.6,272.4 L546.7,272.5 L550.9,272.7 L555.0,272.8 L557.3,272.8 L559.2,272.9 L563.3,273.0 L567.5,273.2 L571.6,273.3 L575.8,273.4 L579.9,273.6 L584.0,273.7 L588.2,273.9 L592.3,274.0 L596.5,274.2 L598.9,274.3 L600.6,274.4 L604.8,274.6 L608.9,274.8 L613.1,275.0 L617.2,275.2 L621.3,275.5 L625.5,275.7 L629.6,276.0 L633.8,276.3 L637.9,276.6 L640.4,276.8 L642.1,276.9 L646.2,277.2 L650.4,277.6 L652.4,277.8 L654.5,277.9 L656.6,278.1 L658.6,278.3 L660.7,278.5 L662.8,278.7 L664.9,279.0 L666.9,279.2 L669.0,279.4 L671.1,279.7 L673.2,279.9 L675.2,280.2 L677.3,280.5 L679.4,280.7 L681.4,281.0 L681.9,281.1 L683.5,281.3 L685.6,281.7 L687.7,282.0 L689.7,282.4 L691.8,282.7 L693.9,283.2 L695.9,283.6 L698.0,284.0 L700.1,284.5 L702.2,285.0 L704.2,285.5 L706.3,286.1 L708.4,286.6 L710.5,287.2 L712.5,287.8 L714.6,288.4 L716.7,289.0 L718.7,289.7 L720.8,290.3 L722.9,291.0 L723.4,291.2 L725.0,291.7 L727.0,292.5 L729.1,293.2 L731.2,294.0 L733.3,294.9 L735.3,295.8 L737.4,296.7 L739.5,297.7 L741.5,298.8 L743.6,299.8 L745.7,300.9 L747.8,302.1 L749.8,303.2 L751.9,304.4 L754.0,305.7 L756.0,306.9 L758.1,308.2 L760.2,309.5 L762.3,310.8 L764.3,312.1 L764.9,312.5 L766.4,313.5 L768.5,314.9 L770.6,316.3 L772.6,317.8 L774.7,319.3 L776.8,320.9 L778.8,322.6 L780.9,324.3 L783.0,326.1 L785.1,327.9 L787.1,329.7 L789.2,331.6 L791.3,333.5 L793.4,335.4 L795.4,337.3 L797.5,339.3 L799.6,341.2 L801.6,343.2 L803.7,345.2 L805.8,347.1 L806.4,347.7 L807.9,349.0 L809.9,351.0 L812.0,352.9 L814.1,354.8 L816.1,356.8 L818.2,358.8 L820.3,360.9 L822.4,363.0 L824.4,365.1 L826.5,367.2 L828.6,369.3 L830.7,371.4 L832.7,373.6 L834.8,375.7 L836.9,377.7 L838.9,379.7 L841.0,381.6 L843.1,383.3 L845.2,384.9 L847.2,386.3 L847.9,386.7 L849.3,387.6 L851.4,388.7 L853.4,389.7 L855.5,390.5 L857.6,391.2 L859.7,391.8 L861.7,392.2 L863.8,392.6 L865.9,392.9 L868.0,393.2 L870.0,393.4 L872.1,393.6 L874.2,393.8 L876.2,393.9 L878.3,394.2 L880.4,394.4 L882.5,394.7 L884.5,395.1 L886.6,395.5 L888.7,396.1 L889.4,396.3 L890.8,396.7 L892.8,397.2 L894.9,397.8 L897.0,398.5 L899.0,399.2 L901.1,399.9 L903.2,400.8 L905.3,401.7 L907.3,402.7 L909.4,403.7 L911.5,405.0 L913.5,406.3 L915.6,407.7 L917.7,409.4 L919.8,411.1 L921.8,413.1 L923.9,415.2 L926.0,417.5 L928.1,420.0 L930.1,422.7 L930.9,423.8 L932.2,425.5 L934.3,428.4 L936.3,431.4 L938.4,434.5 L940.5,437.6 L942.6,441.0 L944.6,444.4 L946.7,448.0 L948.8,451.7 L950.9,455.5 L952.9,459.4 L955.0,463.3 L957.1,467.4 L959.1,471.6 L961.2,475.9 L963.3,480.2 L965.4,484.7 L967.4,489.1 L969.5,493.7 L971.6,498.3 L972.4,500.3 L973.6,503.0 L975.7,507.7 L977.8,512.5 L979.9,517.3 L981.9,522.3 L984.0,527.4 L986.1,532.6 L988.2,537.9 L990.2,543.3 L992.3,548.7 L994.4,554.3 L996.4,560.0 L998.5,565.8 L1000.6,571.6 L1002.7,577.6 L1004.7,583.6 L1006.8,589.8 L1008.9,596.0 L1010.9,602.3 L1013.0,608.7 L1014.0,611.6 L1015.1,615.2 L1017.2,621.7 L1019.2,628.4 L1021.3,635.2 L1023.4,642.4 L1025.5,649.9 L1027.5,657.8 L1029.6,666.0 L1031.7,674.6 L1033.7,683.3 L1035.8,692.3 L1037.9,701.5 L1040.0,710.7 L1042.0,720.0 L1044.1,729.3 L1046.2,738.5 L1048.3,747.6 L1050.3,756.6 L1052.4,765.5 L1054.5,774.0 L1055.5,778.0 L1056.5,782.3 L1058.6,790.2 L1060.7,797.9 L1062.8,805.4 L1064.8,812.7 L1066.9,820.1 L1069.0,827.3 L1071.0,834.6 L1073.1,841.8 L1075.2,848.9 L1077.3,855.9 L1079.3,862.8 L1081.4,869.6 L1083.5,876.3 L1085.6,882.8 L1087.6,889.2 L1089.7,895.4 L1091.8,901.3 L1093.8,907.1 L1095.9,912.7 L1097.0,915.4 L1098.0,918.0 L1100.1,923.1 L1102.1,927.9 L1104.2,932.4 L1106.3,936.9 L1108.4,941.2 L1110.4,945.5 L1112.5,949.5 L1114.6,953.5 L1116.6,957.3 L1118.7,960.9 L1120.8,964.5 L1122.9,967.8 L1124.9,971.1 L1127.0,974.1 L1129.1,977.1 L1131.1,979.8 L1133.2,982.5 L1135.3,985.0 L1137.4,987.3 L1138.5,988.5 L1139.4,989.4 L1141.5,991.4 L1143.6,993.3 L1145.7,995.1 L1147.7,997.0 L1149.8,998.7 L1151.9,1000.4 L1153.9,1002.1 L1156.0,1003.6 L1158.1,1005.1 L1160.2,1006.6 L1162.2,1008.0 L1164.3,1009.3 L1166.4,1010.6 L1168.5,1011.9 L1170.5,1013.1 L1172.6,1014.4 L1174.7,1015.5 L1176.7,1016.7 L1178.8,1017.9 L1180.0,1018.5 L1180.9,1019.0 L1183.0,1020.1 L1185.0,1021.2 L1187.1,1022.3 L1189.2,1023.4 L1191.2,1024.5 L1193.3,1025.5 L1195.4,1026.5 L1197.5,1027.5 L1199.5,1028.4 L1201.6,1029.4 L1203.7,1030.3 L1205.8,1031.2 L1207.8,1032.1 L1209.9,1033.0 L1214.0,1034.7 L1218.2,1036.4 L1221.5,1037.8 L1222.3,1038.1 L1226.5,1039.8 L1230.6,1041.4 L1234.8,1042.9 L1238.9,1044.4 L1243.1,1045.9 L1247.2,1047.4 L1251.3,1048.8 L1255.5,1050.2 L1259.6,1051.7 L1263.0,1052.9 L1263.8,1053.2 L1267.9,1054.7 L1272.1,1056.2 L1276.2,1057.8 L1280.4,1059.3 L1284.5,1060.8 L1288.6,1062.3 L1292.8,1063.9 L1296.9,1065.5 L1301.1,1067.1 L1304.5,1068.5 L1305.2,1068.8 L1309.4,1070.5 L1313.5,1072.3 L1317.7,1074.2 L1321.8,1076.2 L1326.0,1078.2 L1330.1,1080.2 L1334.2,1082.2 L1338.4,1084.3 L1342.5,1086.3 L1346.0,1087.9 L1346.7,1088.2 L1350.8,1090.1 L1355.0,1091.9 L1359.1,1093.7 L1363.3,1095.5 L1367.4,1097.2 L1371.5,1099.0 L1375.7,1100.7 L1379.8,1102.4 L1384.0,1104.1 L1387.5,1105.6 L1388.1,1105.8 L1392.3,1107.6 L1396.4,1109.4 L1400.6,1111.3 L1404.7,1113.2 L1408.8,1115.1 L1413.0,1117.0 L1417.1,1118.9 L1421.3,1120.7 L1425.4,1122.4 L1429.1,1123.9 L1429.6,1124.1 L1433.7,1125.6 L1437.9,1127.0 L1442.0,1128.4 L1446.1,1129.7 L1450.3,1130.9 L1454.4,1132.1 L1458.6,1133.3 L1462.7,1134.4 L1466.9,1135.4 L1470.6,1136.3 L1471.0,1136.5 L1475.2,1137.4 L1479.3,1138.3 L1483.5,1139.2 L1487.6,1140.1 L1491.7,1140.9 L1495.9,1141.7 L1500.0,1142.5 L1504.2,1143.3 L1508.3,1144.0 L1512.1,1144.6 L1512.5,1144.7 L1516.6,1145.3 L1520.8,1146.0 L1524.9,1146.6 L1529.0,1147.2 L1533.2,1147.8 L1537.3,1148.3 L1541.5,1148.9 L1545.6,1149.4 L1549.8,1149.9 L1553.6,1150.3 L1553.9,1150.4 L1558.1,1150.8 L1562.2,1151.2 L1566.3,1151.7 L1570.5,1152.1 L1574.6,1152.5 L1578.8,1152.8 L1582.9,1153.2 L1587.1,1153.5 L1591.2,1153.8 L1595.1,1154.1 L1595.4,1154.1 L1599.5,1154.3 L1603.6,1154.5 L1607.8,1154.7 L1611.9,1154.9 L1616.1,1155.0 L1620.2,1155.1 L1624.4,1155.3 L1628.5,1155.4 L1632.7,1155.5 L1636.6,1155.6 L1636.8,1155.6 L1641.0,1155.8 L1645.1,1155.9 L1649.2,1156.0 L1653.4,1156.2 L1657.5,1156.3 L1661.7,1156.4 L1665.8,1156.5 L1670.0,1156.6 L1674.1,1156.8 L1678.1,1156.9 L1678.3,1156.9 L1682.4,1157.0 L1686.5,1157.2 L1690.7,1157.3 L1694.8,1157.5 L1699.0,1157.7 L1703.1,1157.9 L1707.3,1158.1 L1711.4,1158.2 L1715.6,1158.4 L1719.6,1158.6 L1719.7,1158.6 L1723.8,1158.7 L1728.0,1158.9 L1732.1,1159.1 L1736.3,1159.2 L1740.4,1159.4 L1744.6,1159.5 L1748.7,1159.6 L1752.9,1159.8 L1757.0,1159.9 L1761.1,1160.0 L1761.1,1160.0 L1765.3,1160.1 L1769.4,1160.2 L1773.6,1160.3 L1777.7,1160.3 L1781.9,1160.4 L1786.0,1160.4 L1790.2,1160.4 L1794.3,1160.5 L1798.5,1160.5 L1802.6,1160.6 L1802.6,1160.6 L1806.7,1160.7 L1810.9,1160.8 L1815.0,1160.9 L1819.2,1161.0 L1823.3,1161.2 L1827.5,1161.3 L1831.6,1161.4 L1835.8,1161.6 L1839.9,1161.7 L1844.0,1161.8 L1844.1,1161.8 L1848.2,1161.9 L1852.3,1161.9 L1856.5,1161.9 L1860.6,1162.0 L1864.8,1162.0 L1868.9,1162.0 L1873.1,1162.0 L1877.2,1162.0 L1881.3,1162.0 L1885.5,1162.1 L1885.7,1162.1 L1889.6,1162.1 L1893.8,1162.2 L1897.9,1162.2 L1902.1,1162.3 L1906.2,1162.4 L1910.4,1162.5 L1914.5,1162.6 L1918.6,1162.6 L1922.8,1162.7 L1926.9,1162.8 L1927.2,1162.8 L1931.1,1162.8 L1935.2,1162.8 L1939.4,1162.8 L1943.5,1162.8 L1947.7,1162.8 L1951.8,1162.8 L1956.0,1162.8 L1960.1,1162.8 L1964.2,1162.8 L1968.4,1162.8 L1968.7,1162.8" fill="none" stroke="#008080" stroke-width="4.6" stroke-linejoin="round" stroke-linecap="butt"/>
<polygon points="391.3,283.9 372.3,252.3 410.3,252.3" fill="#008080"/>
<polygon points="432.8,290.1 413.8,258.5 451.8,258.5" fill="#008080"/>
<polygon points="474.3,292.3 455.3,260.7 493.3,260.7" fill="#008080"/>
<polygon points="515.8,292.9 496.8,261.3 534.8,261.3" fill="#008080"/>
<polygon points="557.3,293.8 538.3,262.2 576.3,262.2" fill="#008080"/>
<polygon points="598.9,295.3 579.9,263.7 617.9,263.7" fill="#008080"/>
<polygon points="640.4,297.8 621.4,266.2 659.4,266.2" fill="#008080"/>
<polygon points="681.9,302.1 662.9,270.5 700.9,270.5" fill="#008080"/>
<polygon points="723.4,312.2 704.4,280.6 742.4,280.6" fill="#008080"/>
<polygon points="764.9,333.5 745.9,301.9 783.9,301.9" fill="#008080"/>
<polygon points="806.4,368.7 787.4,337.1 825.4,337.1" fill="#008080"/>
<polygon points="847.9,407.7 828.9,376.1 866.9,376.1" fill="#008080"/>
<polygon points="889.4,417.3 870.4,385.7 908.4,385.7" fill="#008080"/>
<polygon points="930.9,444.8 911.9,413.2 949.9,413.2" fill="#008080"/>
<polygon points="972.4,521.3 953.4,489.7 991.4,489.7" fill="#008080"/>
<polygon points="1014.0,632.6 995.0,601.0 1033.0,601.0" fill="#008080"/>
<polygon points="1055.5,799.0 1036.5,767.4 1074.5,767.4" fill="#008080"/>
<polygon points="1097.0,936.4 1078.0,904.8 1116.0,904.8" fill="#008080"/>
<polygon points="1138.5,1009.5 1119.5,977.9 1157.5,977.9" fill="#008080"/>
<polygon points="1180.0,1039.5 1161.0,1007.9 1199.0,1007.9" fill="#008080"/>
<polygon points="1221.5,1058.8 1202.5,1027.2 1240.5,1027.2" fill="#008080"/>
<polygon points="1263.0,1073.9 1244.0,1042.3 1282.0,1042.3" fill="#008080"/>
<polygon points="1304.5,1089.5 1285.5,1057.9 1323.5,1057.9" fill="#008080"/>
<polygon points="1346.0,1108.9 1327.0,1077.3 1365.0,1077.3" fill="#008080"/>
<polygon points="1387.5,1126.6 1368.5,1095.0 1406.5,1095.0" fill="#008080"/>
<polygon points="1429.1,1144.9 1410.1,1113.3 1448.1,1113.3" fill="#008080"/>
<polygon points="1470.6,1157.3 1451.6,1125.7 1489.6,1125.7" fill="#008080"/>
<polygon points="1512.1,1165.6 1493.1,1134.0 1531.1,1134.0" fill="#008080"/>
<polygon points="1553.6,1171.3 1534.6,1139.7 1572.6,1139.7" fill="#008080"/>
<polygon points="1595.1,1175.1 1576.1,1143.5 1614.1,1143.5" fill="#008080"/>
<polygon points="1636.6,1176.6 1617.6,1145.0 1655.6,1145.0" fill="#008080"/>
<polygon points="1678.1,1177.9 1659.1,1146.3 1697.1,1146.3" fill="#008080"/>
<polygon points="1719.6,1179.6 1700.6,1148.0 1738.6,1148.0" fill="#008080"/>
<polygon points="1761.1,1181.0 1742.1,1149.4 1780.1,1149.4" fill="#008080"/>
<polygon points="1802.6,1181.6 1783.6,1150.0 1821.6,1150.0" fill="#008080"/>
<polygon points="1844.1,1182.8 1825.1,1151.2 1863.1,1151.2" fill="#008080"/>
<polygon points="1885.7,1183.1 1866.7,1151.5 1904.7,1151.5" fill="#008080"/>
<polygon points="1927.2,1183.8 1908.2,1152.2 1946.2,1152.2" fill="#008080"/>
<polygon points="1968.7,1183.8 1949.7,1152.2 1987.7,1152.2" fill="#008080"/>
<path d="M388.6,261.4 L389.2,261.5 L393.4,262.2 L397.5,262.8 L401.7,263.5 L405.8,264.2 L410.0,264.9 L414.1,265.6 L418.3,266.3 L422.4,266.9 L426.5,267.5 L430.1,267.9 L430.7,268.0 L434.8,268.3 L439.0,268.7 L443.1,268.9 L447.3,269.2 L451.4,269.5 L455.6,269.7 L459.7,269.9 L463.8,270.1 L468.0,270.3 L471.6,270.4 L472.1,270.4 L476.3,270.5 L480.4,270.6 L484.6,270.7 L488.7,270.8 L492.9,270.8 L497.0,270.9 L501.1,271.0 L505.3,271.0 L509.4,271.1 L513.1,271.2 L513.6,271.2 L517.7,271.2 L521.9,271.3 L526.0,271.4 L530.2,271.6 L534.3,271.7 L538.4,271.8 L542.6,271.9 L546.7,272.1 L550.9,272.2 L554.7,272.4 L555.0,272.4 L559.2,272.5 L563.3,272.7 L567.5,272.9 L571.6,273.0 L575.8,273.2 L579.9,273.4 L584.0,273.6 L588.2,273.8 L592.3,274.0 L596.2,274.2 L596.5,274.2 L600.6,274.4 L604.8,274.7 L608.9,274.9 L613.1,275.2 L617.2,275.5 L621.3,275.8 L625.5,276.1 L629.6,276.4 L633.8,276.7 L637.7,277.1 L637.9,277.1 L642.1,277.5 L646.2,277.9 L650.4,278.3 L652.4,278.5 L654.5,278.7 L656.6,278.9 L658.6,279.1 L660.7,279.4 L662.8,279.6 L664.9,279.9 L666.9,280.1 L669.0,280.4 L671.1,280.7 L673.2,281.0 L675.2,281.3 L677.3,281.7 L679.2,282.1 L679.4,282.1 L681.4,282.6 L683.5,283.0 L685.6,283.5 L687.7,284.1 L689.7,284.7 L691.8,285.3 L693.9,286.0 L695.9,286.7 L698.0,287.4 L700.1,288.2 L702.2,289.0 L704.2,289.8 L706.3,290.6 L708.4,291.5 L710.5,292.4 L712.5,293.3 L714.6,294.2 L716.7,295.2 L718.7,296.2 L720.7,297.1 L720.8,297.2 L722.9,298.1 L725.0,299.2 L727.0,300.3 L729.1,301.5 L731.2,302.8 L733.3,304.1 L735.3,305.6 L737.4,307.0 L739.5,308.6 L741.5,310.2 L743.6,311.8 L745.7,313.4 L747.8,315.0 L749.8,316.7 L751.9,318.3 L754.0,319.9 L756.0,321.5 L758.1,323.0 L760.2,324.5 L762.2,326.0 L762.3,326.0 L764.3,327.4 L766.4,328.7 L768.5,330.0 L770.6,331.3 L772.6,332.6 L774.7,334.0 L776.8,335.4 L778.8,336.8 L780.9,338.2 L783.0,339.6 L785.1,341.1 L787.1,342.6 L789.2,344.1 L791.3,345.6 L793.4,347.1 L795.4,348.6 L797.5,350.1 L799.6,351.6 L801.6,353.2 L803.7,354.7 L805.8,356.3 L807.9,357.8 L809.9,359.2 L812.0,360.7 L814.1,362.1 L816.1,363.5 L818.2,365.0 L820.3,366.5 L822.4,367.9 L824.4,369.4 L826.5,370.9 L828.6,372.4 L830.7,373.9 L832.7,375.3 L834.8,376.7 L836.9,378.1 L838.9,379.5 L841.0,380.8 L843.1,382.1 L845.2,383.3 L845.2,383.3 L847.2,384.5 L849.3,385.6 L851.4,386.6 L853.4,387.5 L855.5,388.4 L857.6,389.1 L859.7,389.8 L861.7,390.4 L863.8,390.9 L865.9,391.4 L868.0,391.9 L870.0,392.3 L872.1,392.7 L874.2,393.1 L876.2,393.4 L878.3,393.8 L880.4,394.2 L882.5,394.6 L884.5,395.1 L886.6,395.5 L886.7,395.6 L888.7,396.1 L890.8,396.6 L892.8,397.1 L894.9,397.7 L897.0,398.3 L899.0,398.9 L901.1,399.6 L903.2,400.3 L905.3,401.2 L907.3,402.1 L909.4,403.1 L911.5,404.2 L913.5,405.4 L915.6,406.8 L917.7,408.3 L919.8,409.9 L921.8,411.7 L923.9,413.7 L926.0,415.8 L928.1,418.1 L928.2,418.3 L930.1,420.7 L932.2,423.3 L934.3,426.0 L936.3,428.8 L938.4,431.7 L940.5,434.7 L942.6,437.8 L944.6,441.1 L946.7,444.5 L948.8,448.0 L950.9,451.6 L952.9,455.4 L955.0,459.2 L957.1,463.1 L959.1,467.2 L961.2,471.3 L963.3,475.5 L965.4,479.8 L967.4,484.1 L969.5,488.5 L969.8,489.0 L971.6,493.0 L973.6,497.5 L975.7,502.1 L977.8,506.8 L979.9,511.5 L981.9,516.4 L984.0,521.4 L986.1,526.5 L988.2,531.6 L990.2,536.9 L992.3,542.3 L994.4,547.8 L996.4,553.4 L998.5,559.1 L1000.6,564.9 L1002.7,570.8 L1004.7,576.8 L1006.8,582.8 L1008.9,589.0 L1010.9,595.3 L1011.3,596.2 L1013.0,601.6 L1015.1,608.1 L1017.2,614.6 L1019.2,621.3 L1021.3,628.1 L1023.4,635.3 L1025.5,642.7 L1027.5,650.5 L1029.6,658.6 L1031.7,667.0 L1033.7,675.5 L1035.8,684.3 L1037.9,693.1 L1040.0,702.0 L1042.0,710.9 L1044.1,719.9 L1046.2,728.8 L1048.3,737.5 L1050.3,746.2 L1052.4,754.7 L1054.3,762.1 L1054.5,762.9 L1056.5,770.9 L1058.6,778.8 L1060.7,786.5 L1062.8,794.2 L1064.8,802.0 L1066.9,809.8 L1069.0,817.6 L1071.0,825.3 L1073.1,833.1 L1075.2,840.7 L1077.3,848.2 L1079.3,855.6 L1081.4,862.8 L1083.5,869.9 L1085.6,876.7 L1087.6,883.4 L1089.7,889.7 L1091.8,895.8 L1093.8,901.6 L1095.9,907.0 L1098.0,912.2 L1100.1,917.0 L1102.1,921.4 L1104.2,925.6 L1106.3,929.7 L1108.4,933.6 L1110.4,937.5 L1112.5,941.2 L1114.6,944.8 L1116.6,948.3 L1118.7,951.7 L1120.8,955.0 L1122.9,958.2 L1124.9,961.2 L1127.0,964.2 L1129.1,967.0 L1131.1,969.8 L1133.2,972.4 L1135.3,974.9 L1137.4,977.3 L1138.6,978.7 L1139.4,979.6 L1141.5,981.7 L1143.6,983.6 L1145.7,985.3 L1147.7,987.1 L1149.8,988.7 L1151.9,990.3 L1153.9,991.8 L1156.0,993.2 L1158.1,994.6 L1160.2,996.0 L1162.2,997.3 L1164.3,998.5 L1166.4,999.7 L1168.5,1000.9 L1170.5,1002.1 L1172.6,1003.2 L1174.7,1004.4 L1176.7,1005.5 L1178.8,1006.6 L1179.2,1006.9 L1180.9,1007.8 L1183.0,1008.9 L1185.0,1010.0 L1187.1,1011.1 L1189.2,1012.1 L1191.2,1013.2 L1193.3,1014.2 L1195.4,1015.1 L1197.5,1016.1 L1199.5,1017.0 L1201.6,1018.0 L1203.7,1018.9 L1205.8,1019.8 L1207.8,1020.7 L1209.9,1021.5 L1214.0,1023.2 L1218.2,1024.9 L1222.3,1026.5 L1226.5,1028.2 L1230.6,1029.7 L1234.8,1031.3 L1238.9,1032.7 L1243.1,1034.2 L1247.2,1035.6 L1251.3,1037.0 L1255.5,1038.4 L1259.6,1039.8 L1262.5,1040.8 L1263.8,1041.3 L1267.9,1042.7 L1272.1,1044.2 L1276.2,1045.7 L1280.4,1047.2 L1284.5,1048.7 L1288.6,1050.2 L1292.8,1051.7 L1296.9,1053.3 L1301.1,1054.9 L1305.2,1056.5 L1305.6,1056.7 L1309.4,1058.2 L1313.5,1060.0 L1317.7,1061.8 L1321.8,1063.7 L1326.0,1065.7 L1330.1,1067.7 L1334.2,1069.7 L1338.4,1071.7 L1342.5,1073.6 L1345.6,1075.1 L1346.7,1075.6 L1350.8,1077.4 L1355.0,1079.2 L1359.1,1081.0 L1363.3,1082.7 L1367.4,1084.4 L1371.5,1086.1 L1375.7,1087.8 L1379.8,1089.4 L1384.0,1091.1 L1385.6,1091.8 L1388.1,1092.8 L1392.3,1094.5 L1396.4,1096.3 L1400.6,1098.1 L1404.7,1100.0 L1408.8,1101.9 L1413.0,1103.8 L1417.1,1105.6 L1421.3,1107.4 L1425.4,1109.1 L1428.9,1110.5 L1429.6,1110.8 L1433.7,1112.2 L1437.9,1113.6 L1442.0,1114.9 L1446.1,1116.2 L1450.3,1117.4 L1454.4,1118.6 L1458.6,1119.7 L1462.7,1120.8 L1466.9,1121.8 L1468.9,1122.3 L1471.0,1122.8 L1475.2,1123.8 L1479.3,1124.7 L1483.5,1125.5 L1487.6,1126.4 L1491.7,1127.2 L1495.9,1127.9 L1500.0,1128.7 L1504.2,1129.4 L1508.3,1130.1 L1512.0,1130.7 L1512.5,1130.8 L1516.6,1131.4 L1520.8,1132.0 L1524.9,1132.6 L1529.0,1133.2 L1533.2,1133.8 L1537.3,1134.3 L1541.5,1134.8 L1545.6,1135.3 L1549.8,1135.8 L1552.0,1136.1 L1553.9,1136.3 L1558.1,1136.7 L1562.2,1137.1 L1566.3,1137.5 L1570.5,1137.9 L1574.6,1138.3 L1578.8,1138.6 L1582.9,1139.0 L1587.1,1139.3 L1591.2,1139.6 L1594.5,1139.8 L1595.4,1139.8 L1599.5,1140.0 L1603.6,1140.2 L1607.8,1140.4 L1611.9,1140.6 L1616.1,1140.7 L1620.2,1140.8 L1624.4,1141.0 L1628.5,1141.1 L1632.7,1141.2 L1636.2,1141.3 L1636.8,1141.4 L1641.0,1141.5 L1645.1,1141.6 L1649.2,1141.8 L1653.4,1141.9 L1657.5,1142.0 L1661.7,1142.2 L1665.8,1142.3 L1670.0,1142.4 L1674.1,1142.6 L1675.4,1142.6 L1678.3,1142.7 L1682.4,1142.9 L1686.5,1143.0 L1690.7,1143.2 L1694.8,1143.4 L1699.0,1143.6 L1703.1,1143.8 L1707.3,1144.0 L1711.4,1144.2 L1715.6,1144.4 L1718.5,1144.6 L1719.7,1144.6 L1723.8,1144.8 L1728.0,1145.0 L1732.1,1145.2 L1736.3,1145.4 L1740.4,1145.6 L1744.6,1145.7 L1748.7,1145.9 L1752.9,1146.1 L1757.0,1146.3 L1758.5,1146.3 L1761.1,1146.4 L1765.3,1146.5 L1769.4,1146.7 L1773.6,1146.8 L1777.7,1146.9 L1781.9,1147.0 L1786.0,1147.0 L1790.2,1147.1 L1794.3,1147.2 L1798.5,1147.3 L1801.8,1147.4 L1802.6,1147.4 L1806.7,1147.6 L1810.9,1147.7 L1815.0,1147.9 L1819.2,1148.0 L1823.3,1148.2 L1827.5,1148.4 L1831.6,1148.6 L1835.8,1148.8 L1839.9,1149.0 L1841.8,1149.1 L1844.0,1149.1 L1848.2,1149.3 L1852.3,1149.4 L1856.5,1149.5 L1860.6,1149.6 L1864.8,1149.6 L1868.9,1149.7 L1873.1,1149.8 L1877.2,1149.9 L1881.3,1149.9 L1882.8,1150.0 L1885.5,1150.0 L1889.6,1150.1 L1893.8,1150.2 L1897.9,1150.4 L1902.1,1150.5 L1906.2,1150.7 L1910.4,1150.8 L1914.5,1151.0 L1918.6,1151.1 L1922.8,1151.3 L1924.9,1151.3 L1926.9,1151.4 L1931.1,1151.5 L1935.2,1151.6 L1939.4,1151.7 L1943.5,1151.7 L1947.7,1151.8 L1951.8,1151.9 L1956.0,1151.9 L1960.1,1152.0 L1964.2,1152.0 L1965.9,1152.1" fill="none" stroke="#FF00FF" stroke-width="4.6" stroke-linejoin="round" stroke-linecap="butt"/>
<polygon points="367.6,261.4 399.2,242.4 399.2,280.4" fill="#FF00FF"/>
<polygon points="409.1,267.9 440.7,248.9 440.7,286.9" fill="#FF00FF"/>
<polygon points="450.6,270.4 482.2,251.4 482.2,289.4" fill="#FF00FF"/>
<polygon points="492.1,271.2 523.7,252.2 523.7,290.2" fill="#FF00FF"/>
<polygon points="533.7,272.4 565.3,253.4 565.3,291.4" fill="#FF00FF"/>
<polygon points="575.2,274.2 606.8,255.2 606.8,293.2" fill="#FF00FF"/>
<polygon points="616.7,277.1 648.3,258.1 648.3,296.1" fill="#FF00FF"/>
<polygon points="658.2,282.1 689.8,263.1 689.8,301.1" fill="#FF00FF"/>
<polygon points="699.7,297.1 731.3,278.1 731.3,316.1" fill="#FF00FF"/>
<polygon points="741.2,326.0 772.8,307.0 772.8,345.0" fill="#FF00FF"/>
<polygon points="782.7,354.7 814.3,335.7 814.3,373.7" fill="#FF00FF"/>
<polygon points="824.2,383.3 855.8,364.3 855.8,402.3" fill="#FF00FF"/>
<polygon points="865.7,395.6 897.3,376.6 897.3,414.6" fill="#FF00FF"/>
<polygon points="907.2,418.3 938.8,399.3 938.8,437.3" fill="#FF00FF"/>
<polygon points="948.8,489.0 980.4,470.0 980.4,508.0" fill="#FF00FF"/>
<polygon points="990.3,596.2 1021.9,577.2 1021.9,615.2" fill="#FF00FF"/>
<polygon points="1033.3,762.1 1064.9,743.1 1064.9,781.1" fill="#FF00FF"/>
<polygon points="1074.9,907.0 1106.5,888.0 1106.5,926.0" fill="#FF00FF"/>
<polygon points="1117.6,978.7 1149.2,959.7 1149.2,997.7" fill="#FF00FF"/>
<polygon points="1158.2,1006.9 1189.8,987.9 1189.8,1025.9" fill="#FF00FF"/>
<polygon points="1201.3,1026.5 1232.9,1007.5 1232.9,1045.5" fill="#FF00FF"/>
<polygon points="1241.5,1040.8 1273.1,1021.8 1273.1,1059.8" fill="#FF00FF"/>
<polygon points="1284.6,1056.7 1316.2,1037.7 1316.2,1075.7" fill="#FF00FF"/>
<polygon points="1324.6,1075.1 1356.2,1056.1 1356.2,1094.1" fill="#FF00FF"/>
<polygon points="1364.6,1091.8 1396.2,1072.8 1396.2,1110.8" fill="#FF00FF"/>
<polygon points="1407.9,1110.5 1439.5,1091.5 1439.5,1129.5" fill="#FF00FF"/>
<polygon points="1447.9,1122.3 1479.5,1103.3 1479.5,1141.3" fill="#FF00FF"/>
<polygon points="1491.0,1130.7 1522.6,1111.7 1522.6,1149.7" fill="#FF00FF"/>
<polygon points="1531.0,1136.1 1562.6,1117.1 1562.6,1155.1" fill="#FF00FF"/>
<polygon points="1573.5,1139.8 1605.1,1120.8 1605.1,1158.8" fill="#FF00FF"/>
<polygon points="1615.2,1141.3 1646.8,1122.3 1646.8,1160.3" fill="#FF00FF"/>
<polygon points="1654.4,1142.6 1686.0,1123.6 1686.0,1161.6" fill="#FF00FF"/>
<polygon points="1697.5,1144.6 1729.1,1125.6 1729.1,1163.6" fill="#FF00FF"/>
<polygon points="1737.5,1146.3 1769.1,1127.3 1769.1,1165.3" fill="#FF00FF"/>
<polygon points="1780.8,1147.4 1812.4,1128.4 1812.4,1166.4" fill="#FF00FF"/>
<polygon points="1820.8,1149.1 1852.4,1130.1 1852.4,1168.1" fill="#FF00FF"/>
<polygon points="1861.8,1150.0 1893.4,1131.0 1893.4,1169.0" fill="#FF00FF"/>
<polygon points="1903.9,1151.3 1935.5,1132.3 1935.5,1170.3" fill="#FF00FF"/>
<polygon points="1944.9,1152.1 1976.5,1133.1 1976.5,1171.1" fill="#FF00FF"/>
<path d="M394.0,260.2 L397.5,260.8 L401.7,261.5 L405.8,262.2 L410.0,262.9 L414.1,263.6 L418.3,264.2 L422.4,264.9 L426.5,265.4 L430.7,265.9 L434.8,266.3 L435.7,266.3 L439.0,266.6 L443.1,266.8 L447.3,267.1 L451.4,267.4 L455.6,267.6 L459.7,267.8 L463.8,268.0 L468.0,268.1 L472.1,268.2 L476.3,268.3 L477.1,268.4 L480.4,268.4 L484.6,268.5 L488.7,268.5 L492.9,268.6 L497.0,268.6 L501.1,268.7 L505.3,268.7 L509.4,268.7 L513.6,268.8 L517.7,268.9 L518.8,268.9 L521.9,268.9 L526.0,269.0 L530.2,269.1 L534.3,269.2 L538.4,269.3 L542.6,269.4 L546.7,269.5 L550.9,269.6 L555.0,269.7 L559.2,269.9 L560.2,269.9 L563.3,270.0 L567.5,270.1 L571.6,270.2 L575.8,270.4 L579.9,270.5 L584.0,270.7 L588.2,270.8 L592.3,271.0 L596.5,271.2 L600.6,271.4 L601.9,271.4 L604.8,271.5 L608.9,271.7 L613.1,272.0 L617.2,272.2 L621.3,272.4 L625.5,272.7 L629.6,273.0 L633.8,273.2 L637.9,273.5 L642.1,273.9 L643.3,273.9 L646.2,274.2 L650.4,274.5 L652.4,274.7 L654.5,274.9 L656.6,275.1 L658.6,275.3 L660.7,275.5 L662.8,275.7 L664.9,275.9 L666.9,276.1 L669.0,276.4 L671.1,276.6 L673.2,276.9 L675.2,277.1 L677.3,277.4 L679.4,277.7 L681.4,278.0 L683.5,278.3 L685.0,278.5 L685.6,278.6 L687.7,279.0 L689.7,279.3 L691.8,279.7 L693.9,280.1 L695.9,280.5 L698.0,281.0 L700.1,281.5 L702.2,282.0 L704.2,282.5 L706.3,283.0 L708.4,283.6 L710.5,284.1 L712.5,284.7 L714.6,285.4 L716.7,286.0 L718.7,286.6 L720.8,287.3 L722.9,288.0 L725.0,288.7 L726.4,289.2 L727.0,289.4 L729.1,290.2 L731.2,291.0 L733.3,291.8 L735.3,292.7 L737.4,293.7 L739.5,294.7 L741.5,295.7 L743.6,296.8 L745.7,297.9 L747.8,299.0 L749.8,300.2 L751.9,301.4 L754.0,302.6 L756.0,303.9 L758.1,305.1 L760.2,306.4 L762.3,307.8 L764.3,309.1 L766.4,310.4 L768.1,311.5 L768.5,311.8 L770.6,313.2 L772.6,314.7 L774.7,316.3 L776.8,317.9 L778.8,319.6 L780.9,321.3 L783.0,323.0 L785.1,324.8 L787.1,326.7 L789.2,328.6 L791.3,330.5 L793.4,332.4 L795.4,334.3 L797.5,336.2 L799.6,338.2 L801.6,340.2 L803.7,342.1 L805.8,344.1 L807.9,346.0 L809.9,347.9 L811.8,349.6 L812.0,349.8 L814.1,351.8 L816.1,353.7 L818.2,355.8 L820.3,357.8 L822.4,359.9 L824.4,362.0 L826.5,364.1 L828.6,366.3 L830.7,368.4 L832.7,370.5 L834.8,372.6 L836.9,374.7 L838.9,376.7 L841.0,378.7 L843.1,380.7 L845.2,382.6 L847.2,384.5 L849.3,386.3 L851.4,388.0 L853.0,389.3 L853.4,389.6 L855.5,391.1 L857.6,392.6 L859.7,394.0 L861.7,395.3 L863.8,396.5 L865.9,397.8 L868.0,399.0 L870.0,400.1 L872.1,401.3 L874.2,402.5 L876.2,403.6 L878.3,404.8 L880.4,406.0 L882.5,407.3 L884.5,408.5 L886.6,409.9 L888.7,411.3 L890.8,412.8 L892.8,414.3 L894.9,416.0 L895.7,416.7 L897.0,417.8 L899.0,419.6 L901.1,421.6 L903.2,423.6 L905.3,425.7 L907.3,428.0 L909.4,430.3 L911.5,432.6 L913.5,435.1 L915.6,437.6 L917.7,440.2 L919.8,442.9 L921.8,445.7 L923.9,448.5 L926.0,451.3 L928.1,454.3 L930.1,457.2 L932.2,460.3 L934.3,463.3 L936.3,466.5 L938.4,469.7 L940.5,473.1 L942.6,476.5 L944.6,480.1 L946.7,483.9 L948.8,487.7 L950.9,491.6 L952.9,495.7 L955.0,499.8 L957.1,504.0 L959.1,508.3 L961.2,512.7 L963.3,517.2 L965.4,521.7 L967.4,526.3 L969.5,531.0 L971.6,535.7 L973.6,540.4 L975.7,545.2 L975.9,545.7 L977.8,550.1 L979.9,555.1 L981.9,560.1 L984.0,565.3 L986.1,570.6 L988.2,575.9 L990.2,581.4 L992.3,586.9 L994.4,592.6 L996.4,598.3 L998.5,604.1 L1000.6,610.0 L1002.7,616.0 L1004.7,622.1 L1006.8,628.2 L1008.9,634.5 L1010.9,640.8 L1013.0,647.2 L1015.1,653.7 L1017.2,660.3 L1019.2,667.0 L1019.4,667.6 L1021.3,673.8 L1023.4,681.0 L1025.5,688.4 L1027.5,696.1 L1029.6,704.0 L1031.7,712.0 L1033.7,720.2 L1035.8,728.5 L1037.9,736.9 L1040.0,745.4 L1042.0,753.8 L1044.1,762.2 L1046.2,770.5 L1048.3,778.8 L1050.3,786.9 L1052.4,794.8 L1054.5,802.5 L1056.5,810.0 L1058.6,817.2 L1059.4,820.0 L1060.7,824.2 L1062.8,831.2 L1064.8,838.1 L1066.9,845.1 L1069.0,852.0 L1071.0,858.9 L1073.1,865.7 L1075.2,872.5 L1077.3,879.1 L1079.3,885.7 L1081.4,892.2 L1083.5,898.5 L1085.6,904.8 L1087.6,910.8 L1089.7,916.8 L1091.8,922.5 L1093.8,928.1 L1095.9,933.5 L1098.0,938.6 L1100.1,943.6 L1102.1,948.3 L1103.0,950.1 L1104.2,952.8 L1106.3,957.2 L1108.4,961.6 L1110.4,965.9 L1112.5,970.2 L1114.6,974.3 L1116.6,978.4 L1118.7,982.4 L1120.8,986.2 L1122.9,989.9 L1124.9,993.5 L1127.0,997.0 L1129.1,1000.3 L1131.1,1003.5 L1133.2,1006.4 L1135.3,1009.3 L1137.4,1011.9 L1139.4,1014.3 L1141.5,1016.5 L1142.1,1017.2 L1143.6,1018.6 L1145.7,1020.5 L1147.7,1022.4 L1149.8,1024.1 L1151.9,1025.8 L1153.9,1027.5 L1156.0,1029.0 L1158.1,1030.5 L1160.2,1032.0 L1162.2,1033.4 L1164.3,1034.7 L1166.4,1036.0 L1168.5,1037.3 L1170.5,1038.5 L1172.6,1039.7 L1174.7,1040.9 L1176.7,1042.1 L1178.8,1043.2 L1180.9,1044.4 L1183.0,1045.5 L1183.2,1045.6 L1185.0,1046.6 L1187.1,1047.7 L1189.2,1048.8 L1191.2,1049.8 L1193.3,1050.8 L1195.4,1051.8 L1197.5,1052.8 L1199.5,1053.7 L1201.6,1054.7 L1203.7,1055.6 L1205.8,1056.5 L1207.8,1057.4 L1209.9,1058.3 L1214.0,1060.0 L1218.2,1061.7 L1222.3,1063.3 L1226.3,1064.9 L1226.5,1065.0 L1230.6,1066.6 L1234.8,1068.1 L1238.9,1069.6 L1243.1,1071.1 L1247.2,1072.5 L1251.3,1073.9 L1255.5,1075.3 L1259.6,1076.8 L1263.8,1078.2 L1266.3,1079.1 L1267.9,1079.7 L1272.1,1081.2 L1276.2,1082.7 L1280.4,1084.2 L1284.5,1085.7 L1288.6,1087.2 L1292.8,1088.8 L1296.9,1090.4 L1301.1,1092.0 L1305.2,1093.6 L1309.4,1095.3 L1309.6,1095.4 L1313.5,1097.1 L1317.7,1098.9 L1321.8,1100.8 L1326.0,1102.8 L1330.1,1104.8 L1334.2,1106.8 L1338.4,1108.8 L1342.5,1110.8 L1346.7,1112.7 L1350.8,1114.6 L1351.0,1114.7 L1355.0,1116.4 L1359.1,1118.2 L1363.3,1119.9 L1367.4,1121.6 L1371.5,1123.3 L1375.7,1125.0 L1379.8,1126.7 L1384.0,1128.4 L1388.1,1130.1 L1392.3,1131.8 L1392.7,1132.0 L1396.4,1133.6 L1400.6,1135.4 L1404.7,1137.3 L1408.8,1139.2 L1413.0,1141.1 L1417.1,1142.9 L1421.3,1144.7 L1425.4,1146.4 L1429.6,1148.0 L1433.7,1149.5 L1434.3,1149.7 L1437.9,1150.9 L1442.0,1152.2 L1446.1,1153.5 L1450.3,1154.7 L1454.4,1155.9 L1458.6,1157.1 L1462.7,1158.1 L1466.9,1159.2 L1471.0,1160.2 L1474.3,1160.9 L1475.2,1161.1 L1479.3,1162.0 L1483.5,1162.9 L1487.6,1163.7 L1491.7,1164.5 L1495.9,1165.3 L1500.0,1166.1 L1504.2,1166.8 L1508.3,1167.5 L1512.5,1168.2 L1516.6,1168.8 L1517.4,1168.9 L1520.8,1169.4 L1524.9,1170.1 L1529.0,1170.6 L1533.2,1171.2 L1537.3,1171.8 L1541.5,1172.3 L1545.6,1172.8 L1549.8,1173.3 L1553.9,1173.8 L1557.4,1174.1 L1558.1,1174.2 L1562.2,1174.6 L1566.3,1175.0 L1570.5,1175.4 L1574.6,1175.8 L1578.8,1176.2 L1582.9,1176.6 L1587.1,1176.9 L1591.2,1177.2 L1595.4,1177.5 L1599.1,1177.7 L1599.5,1177.7 L1603.6,1177.9 L1607.8,1178.1 L1611.9,1178.3 L1616.1,1178.4 L1620.2,1178.6 L1624.4,1178.7 L1628.5,1178.9 L1632.7,1179.0 L1636.8,1179.2 L1640.7,1179.3 L1641.0,1179.3 L1645.1,1179.5 L1649.2,1179.6 L1653.4,1179.8 L1657.5,1179.9 L1661.7,1180.1 L1665.8,1180.2 L1670.0,1180.4 L1674.1,1180.5 L1678.3,1180.7 L1682.4,1180.9 L1683.2,1180.9 L1686.5,1181.1 L1690.7,1181.3 L1694.8,1181.5 L1699.0,1181.7 L1703.1,1181.9 L1707.3,1182.2 L1711.4,1182.4 L1715.6,1182.6 L1719.7,1182.9 L1723.8,1183.1 L1728.0,1183.3 L1732.1,1183.5 L1736.3,1183.7 L1740.4,1183.9 L1744.6,1184.1 L1748.7,1184.3 L1752.9,1184.5 L1757.0,1184.7 L1761.1,1184.9 L1764.7,1185.0 L1765.3,1185.0 L1769.4,1185.2 L1773.6,1185.3 L1777.7,1185.4 L1781.9,1185.5 L1786.0,1185.7 L1790.2,1185.8 L1794.3,1185.9 L1798.5,1186.0 L1802.6,1186.2 L1806.7,1186.3 L1807.2,1186.3 L1810.9,1186.5 L1815.0,1186.7 L1819.2,1186.9 L1823.3,1187.1 L1827.5,1187.3 L1831.6,1187.5 L1835.8,1187.7 L1839.9,1187.9 L1844.0,1188.1 L1847.2,1188.2 L1848.2,1188.3 L1852.3,1188.4 L1856.5,1188.5 L1860.6,1188.7 L1864.8,1188.8 L1868.9,1188.9 L1873.1,1189.0 L1877.2,1189.1 L1881.3,1189.2 L1885.5,1189.3 L1889.6,1189.4 L1890.5,1189.5 L1893.8,1189.6 L1897.9,1189.7 L1902.1,1189.9 L1906.2,1190.1 L1910.4,1190.3 L1914.5,1190.5 L1918.6,1190.7 L1922.8,1190.8 L1926.9,1191.0 L1930.5,1191.1 L1931.1,1191.1 L1935.2,1191.2 L1939.4,1191.3 L1943.5,1191.4 L1947.7,1191.5 L1951.8,1191.6 L1956.0,1191.7 L1960.1,1191.8 L1964.2,1191.9 L1968.4,1192.0 L1971.5,1192.1" fill="none" stroke="#808000" stroke-width="4.6" stroke-linejoin="round" stroke-linecap="butt"/>
<polygon points="415.0,260.2 383.4,241.2 383.4,279.2" fill="#808000"/>
<polygon points="456.7,266.3 425.1,247.3 425.1,285.3" fill="#808000"/>
<polygon points="498.1,268.4 466.5,249.4 466.5,287.4" fill="#808000"/>
<polygon points="539.8,268.9 508.2,249.9 508.2,287.9" fill="#808000"/>
<polygon points="581.2,269.9 549.6,250.9 549.6,288.9" fill="#808000"/>
<polygon points="622.9,271.4 591.3,252.4 591.3,290.4" fill="#808000"/>
<polygon points="664.3,273.9 632.7,254.9 632.7,292.9" fill="#808000"/>
<polygon points="706.0,278.5 674.4,259.5 674.4,297.5" fill="#808000"/>
<polygon points="747.4,289.2 715.8,270.2 715.8,308.2" fill="#808000"/>
<polygon points="789.1,311.5 757.5,292.5 757.5,330.5" fill="#808000"/>
<polygon points="832.8,349.6 801.2,330.6 801.2,368.6" fill="#808000"/>
<polygon points="874.0,389.3 842.4,370.3 842.4,408.3" fill="#808000"/>
<polygon points="916.7,416.7 885.1,397.7 885.1,435.7" fill="#808000"/>
<polygon points="957.3,466.5 925.7,447.5 925.7,485.5" fill="#808000"/>
<polygon points="996.9,545.7 965.3,526.7 965.3,564.7" fill="#808000"/>
<polygon points="1040.4,667.6 1008.8,648.6 1008.8,686.6" fill="#808000"/>
<polygon points="1080.4,820.0 1048.8,801.0 1048.8,839.0" fill="#808000"/>
<polygon points="1124.0,950.1 1092.4,931.1 1092.4,969.1" fill="#808000"/>
<polygon points="1163.1,1017.2 1131.5,998.2 1131.5,1036.2" fill="#808000"/>
<polygon points="1204.2,1045.6 1172.6,1026.6 1172.6,1064.6" fill="#808000"/>
<polygon points="1247.3,1064.9 1215.7,1045.9 1215.7,1083.9" fill="#808000"/>
<polygon points="1287.3,1079.1 1255.7,1060.1 1255.7,1098.1" fill="#808000"/>
<polygon points="1330.6,1095.4 1299.0,1076.4 1299.0,1114.4" fill="#808000"/>
<polygon points="1372.0,1114.7 1340.4,1095.7 1340.4,1133.7" fill="#808000"/>
<polygon points="1413.7,1132.0 1382.1,1113.0 1382.1,1151.0" fill="#808000"/>
<polygon points="1455.3,1149.7 1423.7,1130.7 1423.7,1168.7" fill="#808000"/>
<polygon points="1495.3,1160.9 1463.7,1141.9 1463.7,1179.9" fill="#808000"/>
<polygon points="1538.4,1168.9 1506.8,1149.9 1506.8,1187.9" fill="#808000"/>
<polygon points="1578.4,1174.1 1546.8,1155.1 1546.8,1193.1" fill="#808000"/>
<polygon points="1620.1,1177.7 1588.5,1158.7 1588.5,1196.7" fill="#808000"/>
<polygon points="1661.7,1179.3 1630.1,1160.3 1630.1,1198.3" fill="#808000"/>
<polygon points="1704.2,1180.9 1672.6,1161.9 1672.6,1199.9" fill="#808000"/>
<polygon points="1744.8,1183.1 1713.2,1164.1 1713.2,1202.1" fill="#808000"/>
<polygon points="1785.7,1185.0 1754.1,1166.0 1754.1,1204.0" fill="#808000"/>
<polygon points="1828.2,1186.3 1796.6,1167.3 1796.6,1205.3" fill="#808000"/>
<polygon points="1868.2,1188.2 1836.6,1169.2 1836.6,1207.2" fill="#808000"/>
<polygon points="1911.5,1189.5 1879.9,1170.5 1879.9,1208.5" fill="#808000"/>
<polygon points="1951.5,1191.1 1919.9,1172.1 1919.9,1210.1" fill="#808000"/>
<polygon points="1992.5,1192.1 1960.9,1173.1 1960.9,1211.1" fill="#808000"/>
<rect x="339.5" y="55.0" width="1657.9" height="1219.2" fill="none" stroke="#000" stroke-width="6.2"/>
<path d="M339.5,1274.2v25.0M546.7,1274.2v25.0M754.0,1274.2v25.0M961.2,1274.2v25.0M1168.5,1274.2v25.0M1375.7,1274.2v25.0M1582.9,1274.2v25.0M1790.2,1274.2v25.0M1997.4,1274.2v25.0M443.1,1274.2v13.0M650.4,1274.2v13.0M857.6,1274.2v13.0M1064.8,1274.2v13.0M1272.1,1274.2v13.0M1479.3,1274.2v13.0M1686.5,1274.2v13.0M1893.8,1274.2v13.0M339.5,1274.2h-24.0M339.5,1071.0h-24.0M339.5,867.8h-24.0M339.5,664.6h-24.0M339.5,461.4h-24.0M339.5,258.2h-24.0M339.5,55.0h-24.0M339.5,1172.6h-12.0M339.5,969.4h-12.0M339.5,766.2h-12.0M339.5,563.0h-12.0M339.5,359.8h-12.0M339.5,156.6h-12.0" stroke="#000" stroke-width="6.2" fill="none"/>
<text x="340.0" y="1370.8" font-size="74" text-anchor="middle">0</text>
<text x="547.2" y="1370.8" font-size="74" text-anchor="middle">100</text>
<text x="754.5" y="1370.8" font-size="74" text-anchor="middle">200</text>
<text x="961.7" y="1370.8" font-size="74" text-anchor="middle">300</text>
<text x="1169.0" y="1370.8" font-size="74" text-anchor="middle">400</text>
<text x="1376.2" y="1370.8" font-size="74" text-anchor="middle">500</text>
<text x="1583.4" y="1370.8" font-size="74" text-anchor="middle">600</text>
<text x="1790.7" y="1370.8" font-size="74" text-anchor="middle">700</text>
<text x="1997.9" y="1370.8" font-size="74" text-anchor="middle">800</text>
<text x="299.5" y="1295.2" font-size="74" text-anchor="end">0</text>
<text x="299.5" y="1092.0" font-size="74" text-anchor="end">20</text>
<text x="299.5" y="888.8" font-size="74" text-anchor="end">40</text>
<text x="299.5" y="685.6" font-size="74" text-anchor="end">60</text>
<text x="299.5" y="482.4" font-size="74" text-anchor="end">80</text>
<text x="299.5" y="279.2" font-size="74" text-anchor="end">100</text>
<text x="299.5" y="76.0" font-size="74" text-anchor="end">120</text>
<line x1="1516.8" y1="113.5" x2="1689.7" y2="113.5" stroke="#000000" stroke-width="5.5"/>
<rect x="1589.3" y="101.8" width="26.0" height="26.0" fill="#000000"/>
<text x="1702.0" y="139.5" font-size="74" letter-spacing="0.9">PUR-I0</text>
<line x1="1516.8" y1="206.4" x2="1689.7" y2="206.4" stroke="#FF0000" stroke-width="5.5"/>
<circle cx="1602.3" cy="207.7" r="15" fill="#FF0000"/>
<text x="1702.0" y="232.4" font-size="74" letter-spacing="0.9">PUR-I2</text>
<line x1="1516.8" y1="299.3" x2="1689.7" y2="299.3" stroke="#0000FF" stroke-width="5.5"/>
<polygon points="1602.3,279.1 1581.8,311.4 1622.8,311.4" fill="#0000FF"/>
<text x="1702.0" y="325.3" font-size="74" letter-spacing="0.9">PUR-I4</text>
<line x1="1516.8" y1="392.2" x2="1689.7" y2="392.2" stroke="#008080" stroke-width="5.5"/>
<polygon points="1602.3,415.0 1581.8,382.7 1622.8,382.7" fill="#008080"/>
<text x="1702.0" y="418.2" font-size="74" letter-spacing="0.9">PUR-I6</text>
<line x1="1516.8" y1="485.1" x2="1689.7" y2="485.1" stroke="#FF00FF" stroke-width="5.5"/>
<polygon points="1580.8,486.4 1613.1,465.9 1613.1,506.9" fill="#FF00FF"/>
<text x="1702.0" y="511.1" font-size="74" letter-spacing="0.9">PUR-I8</text>
<line x1="1516.8" y1="578.0" x2="1689.7" y2="578.0" stroke="#808000" stroke-width="5.5"/>
<polygon points="1623.8,579.3 1591.5,558.8 1591.5,599.8" fill="#808000"/>
<text x="1702.0" y="604.0" font-size="74" letter-spacing="0.9">PUR-I10</text>
<text x="42" y="103" font-size="95" textLength="109" lengthAdjust="spacingAndGlyphs">(a)</text>
<text transform="translate(131.5,718.5) rotate(-90)" font-size="82" text-anchor="middle" textLength="390" lengthAdjust="spacingAndGlyphs">Weight (%)</text>
<text x="1170.7" y="1504" font-size="79" text-anchor="middle" textLength="571" lengthAdjust="spacingAndGlyphs">Temperature (°C)</text>
</g>
<g id="pb">
<path d="M398.4,2742.4 L400.5,2744.5 L404.6,2748.8 L408.8,2753.1 L412.9,2757.5 L417.1,2761.7 L421.2,2765.6 L425.4,2769.2 L429.5,2772.4 L433.6,2775.1 L437.8,2777.1 L439.9,2777.8 L441.9,2778.4 L446.1,2779.6 L450.2,2780.6 L454.4,2781.6 L458.5,2782.4 L462.6,2783.2 L466.8,2783.9 L470.9,2784.4 L475.1,2784.9 L479.2,2785.4 L481.4,2785.5 L483.4,2785.7 L487.5,2786.0 L491.6,2786.4 L495.8,2786.7 L499.9,2786.9 L504.1,2787.2 L508.2,2787.4 L512.4,2787.6 L516.5,2787.7 L520.6,2787.7 L522.9,2787.8 L524.8,2787.7 L528.9,2787.6 L533.1,2787.3 L537.2,2786.9 L541.4,2786.4 L545.5,2785.8 L549.6,2785.2 L553.8,2784.6 L557.9,2784.1 L562.1,2783.6 L564.4,2783.3 L566.2,2783.1 L570.4,2782.7 L574.5,2782.3 L578.7,2781.9 L582.8,2781.5 L586.9,2781.1 L591.1,2780.7 L595.2,2780.2 L599.4,2779.7 L603.5,2779.2 L605.9,2778.9 L607.7,2778.6 L611.8,2777.9 L615.9,2777.2 L620.1,2776.5 L624.2,2775.7 L628.4,2774.8 L632.5,2773.8 L636.7,2772.8 L640.8,2771.8 L644.9,2770.6 L647.4,2769.9 L649.1,2769.4 L653.2,2768.2 L654.3,2767.9 L655.3,2767.5 L656.3,2767.2 L657.4,2766.8 L658.4,2766.4 L659.4,2766.1 L660.5,2765.7 L661.5,2765.3 L662.5,2764.8 L663.6,2764.4 L664.6,2764.0 L665.7,2763.5 L666.7,2763.0 L667.7,2762.5 L668.8,2762.0 L669.8,2761.4 L670.8,2760.8 L671.9,2760.2 L672.9,2759.6 L673.9,2759.0 L675.0,2758.3 L676.0,2757.5 L677.0,2756.6 L678.1,2755.6 L679.1,2754.6 L680.2,2753.5 L681.2,2752.3 L682.2,2751.0 L683.3,2749.7 L684.3,2748.3 L685.3,2746.9 L686.4,2745.4 L687.4,2743.9 L688.4,2742.4 L688.9,2741.7 L689.5,2740.6 L690.5,2738.6 L691.5,2736.3 L692.6,2733.7 L693.6,2731.1 L694.7,2728.3 L695.7,2725.4 L696.7,2722.5 L697.8,2719.6 L698.8,2716.8 L699.8,2714.0 L700.9,2711.5 L701.9,2709.1 L702.9,2707.0 L704.0,2705.1 L705.0,2703.6 L706.0,2702.3 L707.1,2701.0 L708.1,2699.8 L709.2,2698.7 L710.2,2697.5 L711.2,2696.5 L712.3,2695.4 L713.3,2694.4 L714.3,2693.5 L715.4,2692.5 L716.4,2691.6 L717.4,2690.8 L718.5,2689.9 L719.5,2689.1 L720.5,2688.4 L721.6,2687.6 L722.6,2686.9 L723.7,2686.2 L724.7,2685.5 L725.7,2684.8 L726.8,2684.2 L727.8,2683.5 L728.8,2682.9 L729.9,2682.3 L730.9,2681.7 L731.3,2681.5 L731.9,2681.1 L733.0,2680.5 L734.0,2680.0 L735.0,2679.5 L736.1,2679.0 L737.1,2678.5 L738.2,2678.0 L739.2,2677.5 L740.2,2677.1 L741.3,2676.6 L742.3,2676.2 L743.3,2675.8 L744.4,2675.4 L745.4,2675.0 L746.4,2674.6 L747.5,2674.2 L748.5,2673.9 L749.5,2673.5 L750.6,2673.1 L751.6,2672.8 L752.7,2672.4 L753.7,2672.0 L754.7,2671.7 L755.8,2671.3 L756.8,2670.9 L757.8,2670.6 L758.9,2670.2 L759.9,2669.8 L760.9,2669.4 L762.0,2669.0 L763.0,2668.6 L764.1,2668.2 L765.1,2667.7 L766.1,2667.3 L767.2,2666.8 L768.2,2666.4 L769.2,2665.9 L770.3,2665.4 L771.3,2664.9 L771.9,2664.6 L772.3,2664.3 L773.4,2663.7 L774.4,2663.1 L775.4,2662.4 L776.5,2661.8 L777.5,2661.0 L778.6,2660.3 L779.6,2659.5 L780.6,2658.7 L781.7,2657.9 L782.7,2657.1 L783.7,2656.3 L784.8,2655.4 L785.8,2654.6 L786.8,2653.7 L787.9,2652.9 L788.9,2652.0 L789.9,2651.1 L791.0,2650.3 L792.0,2649.4 L793.1,2648.6 L794.1,2647.7 L795.1,2646.9 L796.2,2646.1 L797.2,2645.3 L798.2,2644.5 L799.3,2643.8 L800.3,2643.1 L801.3,2642.4 L802.4,2641.7 L803.4,2641.1 L804.4,2640.5 L805.5,2639.9 L806.5,2639.4 L807.6,2638.9 L808.6,2638.4 L809.6,2638.1 L810.7,2637.7 L811.7,2637.4 L812.7,2637.2 L813.4,2637.1 L813.8,2637.0 L814.8,2636.8 L815.8,2636.6 L816.9,2636.4 L817.9,2636.2 L818.9,2636.0 L820.0,2635.8 L821.0,2635.6 L822.1,2635.5 L823.1,2635.4 L824.1,2635.2 L825.2,2635.2 L826.2,2635.1 L827.2,2635.0 L828.3,2635.0 L829.3,2635.0 L830.3,2635.1 L831.4,2635.5 L832.4,2636.1 L833.4,2636.9 L834.5,2637.8 L835.5,2639.0 L836.6,2640.3 L837.6,2641.8 L838.6,2643.4 L839.7,2645.1 L840.7,2646.9 L841.7,2648.7 L842.8,2650.6 L843.8,2652.6 L844.8,2654.5 L845.9,2656.5 L846.9,2658.5 L847.9,2660.4 L849.0,2662.3 L850.0,2664.1 L851.1,2665.8 L852.1,2667.5 L853.1,2669.0 L854.2,2670.4 L854.8,2671.3 L855.2,2671.7 L856.2,2673.1 L857.3,2674.5 L858.3,2675.9 L859.3,2677.3 L860.4,2678.8 L861.4,2680.2 L862.4,2681.7 L863.5,2683.1 L864.5,2684.5 L865.6,2685.9 L866.6,2687.3 L867.6,2688.7 L868.7,2690.0 L869.7,2691.3 L870.7,2692.5 L871.8,2693.7 L872.8,2694.9 L873.8,2696.0 L874.9,2697.0 L875.9,2697.9 L876.9,2698.8 L878.0,2699.6 L879.0,2700.3 L880.1,2700.9 L881.1,2701.4 L882.1,2701.9 L883.2,2702.3 L884.2,2702.8 L885.2,2703.2 L886.3,2703.6 L887.3,2704.0 L888.3,2704.4 L889.4,2704.7 L890.4,2705.0 L891.4,2705.3 L892.5,2705.5 L893.5,2705.6 L894.6,2705.8 L895.6,2705.8 L896.0,2705.8 L896.6,2705.8 L897.7,2705.4 L898.7,2704.8 L899.7,2703.9 L900.8,2702.8 L901.8,2701.5 L902.8,2700.0 L903.9,2698.3 L904.9,2696.4 L905.9,2694.5 L907.0,2692.4 L908.0,2690.3 L909.1,2688.1 L910.1,2685.9 L911.1,2683.7 L912.2,2681.5 L913.2,2679.2 L914.2,2676.7 L915.3,2674.0 L916.3,2671.2 L917.3,2668.1 L918.4,2664.9 L919.4,2661.5 L920.4,2658.0 L921.5,2654.3 L922.5,2650.4 L923.6,2646.5 L924.6,2642.3 L925.6,2638.1 L926.7,2633.7 L927.7,2629.2 L928.7,2624.5 L929.8,2619.8 L930.8,2614.9 L931.8,2610.0 L932.9,2605.0 L933.9,2599.8 L934.9,2594.6 L936.0,2589.3 L937.0,2584.0 L938.1,2578.6 L939.1,2573.1 L940.1,2567.5 L941.2,2562.0 L942.0,2557.5 L942.2,2556.3 L943.2,2550.5 L944.3,2544.3 L945.3,2537.9 L946.3,2531.1 L947.4,2524.2 L948.4,2516.9 L949.4,2509.5 L950.5,2501.8 L951.5,2493.9 L952.6,2485.8 L953.6,2477.5 L954.6,2469.1 L955.7,2460.5 L956.7,2451.8 L957.7,2442.9 L958.8,2434.0 L959.8,2424.9 L960.8,2415.8 L961.9,2406.6 L962.9,2397.3 L964.0,2388.0 L965.0,2378.7 L966.0,2369.3 L967.1,2359.9 L968.1,2350.6 L969.1,2341.3 L970.2,2332.0 L971.2,2322.8 L972.2,2313.6 L973.3,2304.5 L974.3,2295.5 L975.3,2286.6 L976.4,2277.9 L977.4,2269.2 L978.5,2260.7 L979.5,2252.2 L980.5,2243.4 L981.6,2234.4 L982.6,2225.2 L983.6,2215.8 L984.7,2206.3 L985.7,2196.6 L986.7,2186.8 L987.8,2176.9 L988.8,2166.9 L989.8,2156.8 L990.9,2146.7 L991.9,2136.6 L993.0,2126.4 L994.0,2116.3 L995.0,2106.2 L996.1,2096.2 L997.1,2086.3 L998.1,2076.4 L999.2,2066.7 L1000.2,2057.1 L1001.2,2047.7 L1002.3,2038.4 L1003.3,2029.4 L1004.3,2020.5 L1005.4,2011.9 L1006.4,2003.6 L1007.5,1995.5 L1008.5,1987.7 L1009.5,1980.2 L1010.6,1973.1 L1011.6,1966.3 L1012.6,1959.9 L1013.7,1953.9 L1014.7,1948.3 L1015.7,1943.2 L1016.8,1938.5 L1017.8,1934.3 L1018.8,1930.6 L1019.5,1928.6 L1019.9,1927.3 L1020.9,1924.2 L1022.0,1921.1 L1023.0,1918.0 L1024.0,1914.9 L1025.1,1912.0 L1026.1,1909.0 L1027.1,1906.2 L1028.2,1903.4 L1029.2,1900.7 L1030.2,1898.1 L1031.3,1895.5 L1032.3,1893.1 L1033.3,1890.9 L1034.4,1888.7 L1035.4,1886.7 L1036.5,1884.8 L1037.5,1883.0 L1038.5,1881.4 L1039.6,1880.0 L1040.6,1878.8 L1041.6,1877.7 L1042.7,1876.9 L1043.7,1876.2 L1044.7,1875.7 L1045.8,1875.5 L1046.8,1875.4 L1047.8,1875.6 L1048.9,1875.9 L1049.9,1876.4 L1051.0,1877.0 L1052.0,1877.7 L1053.0,1878.6 L1054.1,1879.6 L1055.1,1880.7 L1056.1,1881.9 L1057.2,1883.2 L1058.2,1884.6 L1059.2,1886.1 L1060.3,1887.6 L1061.3,1889.2 L1061.7,1889.8 L1062.3,1891.0 L1063.4,1893.5 L1064.4,1896.8 L1065.5,1900.8 L1066.5,1905.4 L1067.5,1910.6 L1068.6,1916.3 L1069.6,1922.4 L1070.6,1928.9 L1071.7,1935.8 L1072.7,1942.9 L1073.7,1950.2 L1074.8,1957.7 L1075.8,1965.2 L1076.8,1972.8 L1077.9,1980.3 L1078.9,1987.8 L1080.0,1995.0 L1081.0,2002.3 L1082.0,2009.9 L1083.1,2017.8 L1084.1,2025.9 L1085.1,2034.2 L1086.2,2042.8 L1087.2,2051.5 L1088.2,2060.5 L1089.3,2069.6 L1090.3,2078.8 L1091.3,2088.2 L1092.4,2097.7 L1093.4,2107.3 L1094.5,2116.9 L1095.5,2126.6 L1096.5,2136.4 L1097.6,2146.2 L1098.6,2156.0 L1099.6,2165.7 L1100.7,2175.5 L1101.5,2183.2 L1101.7,2185.2 L1102.7,2195.0 L1103.8,2205.1 L1104.8,2215.3 L1105.8,2225.7 L1106.9,2236.3 L1107.9,2246.9 L1109.0,2257.6 L1110.0,2268.4 L1111.0,2279.2 L1112.1,2290.0 L1113.1,2300.8 L1114.1,2311.5 L1115.2,2322.1 L1116.2,2332.6 L1117.2,2343.0 L1118.3,2353.2 L1119.3,2363.2 L1120.3,2373.0 L1121.4,2382.5 L1122.4,2392.0 L1123.5,2401.6 L1124.5,2411.2 L1125.5,2420.9 L1126.6,2430.5 L1127.6,2440.2 L1128.6,2449.8 L1129.7,2459.3 L1130.7,2468.6 L1131.7,2477.8 L1132.8,2486.9 L1133.8,2495.7 L1134.8,2504.2 L1135.9,2512.5 L1136.9,2520.4 L1138.0,2528.0 L1139.0,2535.2 L1140.0,2542.0 L1141.1,2548.3 L1142.1,2554.1 L1143.1,2559.7 L1144.2,2565.0 L1145.2,2570.3 L1145.3,2570.7 L1146.2,2575.4 L1147.3,2580.3 L1148.3,2585.1 L1149.3,2589.7 L1150.4,2594.2 L1151.4,2598.6 L1152.5,2602.8 L1153.5,2606.9 L1154.5,2610.8 L1155.6,2614.6 L1156.6,2618.3 L1157.6,2621.8 L1158.7,2625.1 L1159.7,2628.4 L1160.7,2631.4 L1161.8,2634.4 L1162.8,2637.2 L1163.8,2639.9 L1164.9,2642.5 L1165.9,2645.1 L1167.0,2647.7 L1168.0,2650.2 L1169.0,2652.6 L1170.1,2654.9 L1171.1,2657.2 L1172.1,2659.4 L1173.2,2661.6 L1174.2,2663.6 L1175.2,2665.6 L1176.3,2667.5 L1177.3,2669.3 L1178.4,2671.0 L1179.4,2672.6 L1180.4,2674.1 L1181.5,2675.6 L1182.5,2676.9 L1183.5,2678.1 L1184.6,2679.3 L1185.6,2680.4 L1186.6,2681.5 L1186.8,2681.7 L1187.7,2682.6 L1188.7,2683.7 L1189.7,2684.8 L1190.8,2685.9 L1191.8,2686.9 L1192.9,2688.0 L1193.9,2689.0 L1194.9,2690.1 L1196.0,2691.1 L1197.0,2692.1 L1198.0,2693.1 L1199.1,2694.0 L1200.1,2694.9 L1201.1,2695.9 L1202.2,2696.8 L1203.2,2697.6 L1204.2,2698.5 L1205.3,2699.3 L1206.3,2700.1 L1207.4,2700.8 L1208.4,2701.6 L1209.4,2702.2 L1210.5,2702.9 L1211.5,2703.5 L1212.5,2704.1 L1216.7,2706.2 L1220.8,2707.5 L1225.0,2708.2 L1228.3,2708.3 L1229.1,2708.3 L1233.2,2708.3 L1237.4,2708.3 L1241.5,2708.3 L1245.7,2708.3 L1249.8,2708.3 L1254.0,2708.3 L1258.1,2708.3 L1262.2,2708.3 L1266.4,2708.3 L1269.8,2708.2 L1270.5,2708.2 L1274.7,2707.8 L1278.8,2706.9 L1283.0,2705.7 L1287.1,2704.3 L1291.2,2702.7 L1295.4,2701.0 L1299.5,2699.3 L1303.7,2697.6 L1307.8,2696.1 L1311.3,2695.0 L1312.0,2694.8 L1316.1,2693.2 L1320.2,2691.5 L1324.4,2689.8 L1328.5,2688.0 L1332.7,2686.4 L1336.8,2684.8 L1341.0,2683.5 L1345.1,2682.6 L1349.2,2682.0 L1352.7,2681.8 L1353.4,2681.8 L1357.5,2681.9 L1361.7,2682.2 L1365.8,2682.7 L1370.0,2683.3 L1374.1,2684.0 L1378.2,2684.9 L1382.4,2685.8 L1386.5,2686.8 L1390.7,2687.8 L1394.2,2688.8 L1394.8,2689.0 L1399.0,2690.8 L1403.1,2693.1 L1407.3,2695.8 L1411.4,2698.9 L1415.5,2702.1 L1419.7,2705.4 L1423.8,2708.7 L1428.0,2712.0 L1432.1,2715.0 L1435.7,2717.5 L1436.3,2717.8 L1440.4,2720.8 L1444.5,2723.8 L1448.7,2726.8 L1452.8,2729.8 L1457.0,2732.8 L1461.1,2735.7 L1465.3,2738.4 L1469.4,2740.9 L1473.5,2743.3 L1477.2,2745.1 L1477.7,2745.4 L1481.8,2747.4 L1486.0,2749.4 L1490.1,2751.2 L1494.3,2753.0 L1498.4,2754.7 L1502.5,2756.3 L1506.7,2757.8 L1510.8,2759.1 L1515.0,2760.3 L1518.7,2761.3 L1519.1,2761.4 L1523.3,2762.4 L1527.4,2763.3 L1531.5,2764.0 L1535.7,2764.8 L1539.8,2765.5 L1544.0,2766.2 L1548.1,2766.9 L1552.3,2767.6 L1556.4,2768.4 L1560.2,2769.2 L1560.5,2769.3 L1564.7,2770.2 L1568.8,2771.2 L1573.0,2772.2 L1577.1,2773.3 L1581.3,2774.3 L1585.4,2775.3 L1589.5,2776.2 L1593.7,2777.1 L1597.8,2777.8 L1601.7,2778.5 L1602.0,2778.5 L1606.1,2779.1 L1610.3,2779.7 L1614.4,2780.3 L1618.5,2780.8 L1622.7,2781.3 L1626.8,2781.7 L1631.0,2782.2 L1635.1,2782.6 L1639.3,2783.0 L1643.2,2783.4 L1643.4,2783.4 L1647.5,2783.9 L1651.7,2784.3 L1655.8,2784.8 L1660.0,2785.2 L1664.1,2785.6 L1668.3,2785.9 L1672.4,2786.2 L1676.5,2786.3 L1680.7,2786.4 L1684.7,2786.4 L1684.8,2786.4 L1689.0,2786.4 L1693.1,2786.4 L1697.3,2786.4 L1701.4,2786.4 L1705.5,2786.4 L1709.7,2786.4 L1713.8,2786.4 L1718.0,2786.4 L1722.1,2786.4 L1726.2,2786.4 L1726.3,2786.4 L1730.4,2786.4 L1734.5,2786.5 L1738.7,2786.5 L1742.8,2786.5 L1747.0,2786.6 L1751.1,2786.6 L1755.3,2786.6 L1759.4,2786.6 L1763.5,2786.6 L1767.7,2786.6 L1767.7,2786.6 L1771.8,2786.6 L1776.0,2786.6 L1780.1,2786.6 L1784.3,2786.6 L1788.4,2786.6 L1792.5,2786.6 L1796.7,2786.6 L1800.8,2786.6 L1805.0,2786.6 L1809.1,2786.6 L1809.2,2786.6 L1813.3,2786.6 L1817.4,2786.6 L1821.6,2786.6 L1825.7,2786.6 L1829.8,2786.6 L1834.0,2786.6 L1838.1,2786.6 L1842.3,2786.6 L1846.4,2786.6 L1850.6,2786.6 L1850.7,2786.6 L1854.7,2786.6 L1858.8,2786.6 L1863.0,2786.6 L1867.1,2786.6 L1871.3,2786.6 L1875.4,2786.6 L1879.6,2786.6 L1883.7,2786.6 L1887.8,2786.6 L1892.0,2786.6 L1892.1,2786.6 L1896.1,2786.6 L1900.3,2786.6 L1904.4,2786.6 L1908.6,2786.6 L1912.7,2786.6 L1916.8,2786.6 L1921.0,2786.6 L1925.1,2786.6 L1929.3,2786.6 L1933.4,2786.6 L1933.6,2786.6 L1937.6,2786.6 L1941.7,2786.6 L1945.8,2786.6 L1950.0,2786.6 L1954.1,2786.6 L1958.3,2786.6 L1962.4,2786.6 L1966.6,2786.6 L1970.7,2786.6 L1974.8,2786.6 L1975.1,2786.6" fill="none" stroke="#000000" stroke-width="4.6" stroke-linejoin="round" stroke-linecap="butt"/>
<rect x="385.4" y="2729.4" width="26.0" height="26.0" fill="#000000"/>
<rect x="426.9" y="2764.8" width="26.0" height="26.0" fill="#000000"/>
<rect x="468.4" y="2772.5" width="26.0" height="26.0" fill="#000000"/>
<rect x="509.9" y="2774.8" width="26.0" height="26.0" fill="#000000"/>
<rect x="551.4" y="2770.3" width="26.0" height="26.0" fill="#000000"/>
<rect x="592.9" y="2765.9" width="26.0" height="26.0" fill="#000000"/>
<rect x="634.4" y="2756.9" width="26.0" height="26.0" fill="#000000"/>
<rect x="675.9" y="2728.7" width="26.0" height="26.0" fill="#000000"/>
<rect x="718.3" y="2668.5" width="26.0" height="26.0" fill="#000000"/>
<rect x="758.9" y="2651.6" width="26.0" height="26.0" fill="#000000"/>
<rect x="800.4" y="2624.1" width="26.0" height="26.0" fill="#000000"/>
<rect x="841.8" y="2658.3" width="26.0" height="26.0" fill="#000000"/>
<rect x="883.0" y="2692.8" width="26.0" height="26.0" fill="#000000"/>
<rect x="929.0" y="2544.5" width="26.0" height="26.0" fill="#000000"/>
<rect x="965.5" y="2247.7" width="26.0" height="26.0" fill="#000000"/>
<rect x="1006.5" y="1915.6" width="26.0" height="26.0" fill="#000000"/>
<rect x="1048.7" y="1876.8" width="26.0" height="26.0" fill="#000000"/>
<rect x="1088.5" y="2170.2" width="26.0" height="26.0" fill="#000000"/>
<rect x="1132.3" y="2557.7" width="26.0" height="26.0" fill="#000000"/>
<rect x="1173.8" y="2668.7" width="26.0" height="26.0" fill="#000000"/>
<rect x="1215.3" y="2695.3" width="26.0" height="26.0" fill="#000000"/>
<rect x="1256.8" y="2695.2" width="26.0" height="26.0" fill="#000000"/>
<rect x="1298.3" y="2682.0" width="26.0" height="26.0" fill="#000000"/>
<rect x="1339.7" y="2668.8" width="26.0" height="26.0" fill="#000000"/>
<rect x="1381.2" y="2675.8" width="26.0" height="26.0" fill="#000000"/>
<rect x="1422.7" y="2704.5" width="26.0" height="26.0" fill="#000000"/>
<rect x="1464.2" y="2732.1" width="26.0" height="26.0" fill="#000000"/>
<rect x="1505.7" y="2748.3" width="26.0" height="26.0" fill="#000000"/>
<rect x="1547.2" y="2756.2" width="26.0" height="26.0" fill="#000000"/>
<rect x="1588.7" y="2765.5" width="26.0" height="26.0" fill="#000000"/>
<rect x="1630.2" y="2770.4" width="26.0" height="26.0" fill="#000000"/>
<rect x="1671.7" y="2773.4" width="26.0" height="26.0" fill="#000000"/>
<rect x="1713.2" y="2773.4" width="26.0" height="26.0" fill="#000000"/>
<rect x="1754.7" y="2773.6" width="26.0" height="26.0" fill="#000000"/>
<rect x="1796.2" y="2773.6" width="26.0" height="26.0" fill="#000000"/>
<rect x="1837.7" y="2773.6" width="26.0" height="26.0" fill="#000000"/>
<rect x="1879.1" y="2773.6" width="26.0" height="26.0" fill="#000000"/>
<rect x="1920.6" y="2773.6" width="26.0" height="26.0" fill="#000000"/>
<rect x="1962.1" y="2773.6" width="26.0" height="26.0" fill="#000000"/>
<path d="M398.0,2740.8 L400.5,2743.4 L404.6,2747.7 L408.8,2752.0 L412.9,2756.4 L417.1,2760.6 L421.2,2764.5 L425.4,2768.1 L429.5,2771.3 L433.6,2773.9 L437.8,2775.9 L439.5,2776.6 L441.9,2777.3 L446.1,2778.5 L450.2,2779.5 L454.4,2780.5 L458.5,2781.3 L462.6,2782.1 L466.8,2782.8 L470.9,2783.3 L475.1,2783.8 L479.2,2784.3 L481.0,2784.4 L483.4,2784.6 L487.5,2784.9 L491.6,2785.3 L495.8,2785.6 L499.9,2785.8 L504.1,2786.1 L508.2,2786.3 L512.4,2786.5 L516.5,2786.6 L520.6,2786.6 L522.5,2786.6 L524.8,2786.6 L528.9,2786.5 L533.1,2786.2 L537.2,2785.8 L541.4,2785.3 L545.5,2784.7 L549.6,2784.1 L553.8,2783.5 L557.9,2783.0 L562.1,2782.4 L564.0,2782.2 L566.2,2782.0 L570.4,2781.6 L574.5,2781.2 L578.7,2780.8 L582.8,2780.4 L586.9,2780.0 L591.1,2779.6 L595.2,2779.2 L599.4,2778.7 L603.5,2778.1 L605.5,2777.8 L607.7,2777.5 L611.8,2776.7 L615.9,2775.9 L620.1,2775.0 L624.2,2774.0 L628.4,2772.9 L632.5,2771.7 L636.7,2770.4 L640.8,2769.0 L644.9,2767.5 L647.0,2766.7 L649.1,2765.9 L653.2,2764.2 L654.3,2763.8 L655.3,2763.3 L656.3,2762.8 L657.4,2762.2 L658.4,2761.7 L659.4,2761.1 L660.5,2760.4 L661.5,2759.8 L662.5,2759.0 L663.6,2758.2 L664.6,2757.4 L665.7,2756.5 L666.7,2755.6 L667.7,2754.6 L668.8,2753.5 L669.8,2752.3 L670.8,2750.7 L671.9,2748.4 L672.9,2745.5 L673.9,2742.1 L675.0,2738.2 L676.0,2734.0 L677.0,2729.6 L678.1,2725.0 L679.1,2720.4 L680.2,2715.9 L681.2,2711.5 L682.2,2707.4 L682.8,2705.2 L683.3,2703.7 L684.3,2699.8 L685.3,2695.8 L686.4,2691.7 L687.4,2687.7 L688.4,2683.6 L689.5,2679.7 L690.5,2675.9 L691.5,2672.4 L692.6,2669.1 L693.6,2666.2 L694.7,2663.7 L695.7,2661.5 L696.7,2659.1 L697.8,2656.8 L698.8,2654.6 L699.8,2652.6 L700.9,2650.8 L701.9,2649.3 L702.9,2648.1 L704.0,2647.4 L705.0,2647.1 L706.0,2647.2 L707.1,2647.5 L708.1,2647.8 L709.2,2648.3 L710.2,2648.9 L711.2,2649.6 L712.3,2650.3 L713.3,2651.1 L714.3,2651.9 L715.4,2652.7 L716.4,2653.6 L717.4,2654.8 L718.5,2656.3 L719.5,2657.9 L720.5,2659.6 L721.6,2661.4 L722.6,2663.1 L723.7,2664.7 L724.7,2666.2 L725.7,2667.5 L726.8,2668.6 L727.8,2669.3 L728.8,2669.8 L729.9,2670.3 L730.9,2670.8 L731.9,2671.3 L733.0,2671.7 L734.0,2672.1 L735.0,2672.5 L736.1,2672.9 L737.1,2673.2 L738.2,2673.6 L739.2,2673.8 L740.2,2674.1 L741.3,2674.3 L742.3,2674.5 L743.3,2674.6 L744.4,2674.7 L745.4,2674.8 L746.4,2674.8 L747.5,2674.8 L748.5,2674.6 L749.5,2674.4 L750.6,2674.2 L751.6,2673.8 L752.7,2673.4 L753.7,2672.9 L754.7,2672.4 L755.8,2671.9 L756.8,2671.3 L757.8,2670.7 L758.9,2670.0 L759.9,2669.4 L760.9,2668.7 L762.0,2668.1 L763.0,2667.4 L764.1,2666.7 L765.1,2666.1 L766.1,2665.4 L767.2,2664.8 L768.2,2664.3 L769.2,2663.7 L770.3,2663.2 L771.3,2662.7 L771.4,2662.6 L772.3,2662.1 L773.4,2661.5 L774.4,2660.8 L775.4,2660.2 L776.5,2659.5 L777.5,2658.8 L778.6,2658.1 L779.6,2657.5 L780.6,2656.8 L781.7,2656.1 L782.7,2655.4 L783.7,2654.8 L784.8,2654.1 L785.8,2653.5 L786.8,2652.9 L787.9,2652.4 L788.9,2651.9 L789.9,2651.4 L791.0,2650.9 L792.0,2650.5 L793.1,2650.2 L794.1,2649.9 L795.1,2649.7 L796.2,2649.5 L797.2,2649.4 L798.2,2649.4 L799.3,2649.4 L800.3,2649.4 L801.3,2649.5 L802.4,2649.6 L803.4,2649.7 L804.4,2649.9 L805.5,2650.0 L806.5,2650.2 L807.6,2650.4 L808.6,2650.6 L809.6,2650.9 L810.7,2651.1 L811.7,2651.3 L812.7,2651.6 L813.8,2651.8 L814.8,2652.2 L815.8,2652.6 L816.9,2653.0 L817.9,2653.5 L818.9,2654.0 L820.0,2654.5 L821.0,2655.1 L822.1,2655.8 L823.1,2656.4 L824.1,2657.1 L825.2,2657.8 L826.2,2658.5 L827.2,2659.2 L828.3,2660.0 L829.3,2660.7 L830.3,2661.5 L831.4,2662.3 L832.4,2663.0 L833.4,2663.7 L834.5,2664.5 L835.5,2665.3 L836.6,2666.2 L837.6,2667.1 L838.6,2668.0 L839.7,2669.0 L840.7,2670.0 L841.7,2671.0 L842.8,2672.0 L843.8,2673.1 L844.8,2674.1 L845.9,2675.2 L846.9,2676.2 L847.9,2677.2 L849.0,2678.2 L850.0,2679.2 L851.1,2680.2 L852.1,2681.1 L853.1,2682.0 L854.2,2682.9 L855.2,2683.7 L856.2,2684.5 L857.3,2685.3 L858.3,2686.2 L859.3,2687.0 L860.4,2687.9 L861.4,2688.8 L862.4,2689.7 L863.5,2690.6 L864.5,2691.5 L865.6,2692.4 L866.6,2693.2 L867.6,2694.0 L868.7,2694.8 L869.7,2695.6 L870.7,2696.3 L871.8,2697.0 L872.8,2697.6 L873.8,2698.2 L874.9,2698.7 L875.9,2699.2 L876.9,2699.6 L878.0,2699.9 L879.0,2700.1 L880.1,2700.2 L881.1,2700.3 L882.1,2700.3 L883.2,2700.2 L884.2,2700.2 L885.2,2700.1 L886.3,2700.1 L887.3,2700.0 L888.3,2699.9 L889.4,2699.8 L890.4,2699.6 L891.4,2699.5 L892.5,2699.3 L893.5,2699.2 L894.6,2698.9 L895.6,2698.3 L896.6,2697.4 L897.7,2696.3 L898.7,2694.9 L899.7,2693.3 L900.8,2691.5 L901.8,2689.6 L902.8,2687.4 L903.9,2685.2 L904.9,2682.7 L905.9,2680.2 L907.0,2677.6 L908.0,2674.9 L909.1,2672.2 L910.1,2669.4 L911.1,2666.6 L912.2,2663.7 L913.2,2660.7 L914.2,2657.2 L915.3,2653.2 L916.3,2649.0 L917.3,2644.4 L918.4,2639.6 L919.4,2634.6 L920.4,2629.5 L921.5,2624.3 L922.5,2619.2 L923.6,2614.0 L924.6,2609.0 L925.6,2604.1 L926.7,2599.3 L927.7,2594.6 L928.7,2590.0 L929.8,2585.3 L930.8,2580.7 L931.8,2576.1 L932.9,2571.4 L933.9,2566.7 L934.9,2562.0 L936.0,2557.1 L937.0,2552.2 L938.1,2547.2 L939.1,2542.0 L939.9,2537.7 L940.1,2536.7 L941.2,2531.2 L942.2,2525.5 L943.2,2519.6 L944.3,2513.5 L945.3,2507.1 L946.3,2500.5 L947.4,2493.5 L948.4,2485.9 L949.4,2478.0 L950.5,2469.6 L951.5,2460.9 L952.6,2451.9 L953.6,2442.5 L954.6,2432.9 L955.7,2423.0 L956.7,2412.8 L957.7,2402.5 L958.8,2392.0 L959.8,2381.4 L960.8,2370.7 L961.9,2359.9 L962.9,2349.0 L964.0,2338.1 L965.0,2327.3 L966.0,2316.4 L967.1,2305.6 L968.1,2295.0 L969.1,2284.4 L970.2,2274.0 L971.2,2263.8 L972.2,2253.8 L973.3,2244.0 L974.3,2234.6 L974.7,2230.8 L975.3,2225.3 L976.4,2216.0 L977.4,2206.7 L978.5,2197.4 L979.5,2188.1 L980.5,2178.8 L981.6,2169.5 L982.6,2160.2 L983.6,2151.0 L984.7,2141.8 L985.7,2132.8 L986.7,2123.8 L987.8,2114.9 L988.8,2106.1 L989.8,2097.4 L990.9,2088.9 L991.9,2080.5 L993.0,2072.2 L994.0,2064.2 L995.0,2056.3 L996.1,2048.6 L997.1,2041.1 L998.1,2033.8 L999.2,2026.2 L1000.2,2018.4 L1001.2,2010.4 L1002.3,2002.5 L1003.3,1994.5 L1004.3,1986.6 L1005.4,1978.9 L1006.4,1971.4 L1007.5,1964.3 L1008.5,1957.5 L1009.5,1951.2 L1010.6,1945.4 L1011.6,1940.3 L1012.6,1935.9 L1013.7,1932.2 L1014.7,1929.4 L1015.7,1927.5 L1016.8,1926.1 L1017.8,1924.7 L1018.8,1923.4 L1019.9,1922.2 L1020.9,1921.0 L1022.0,1919.9 L1023.0,1918.9 L1024.0,1918.0 L1025.1,1917.1 L1026.1,1916.3 L1027.1,1915.5 L1028.2,1914.9 L1029.2,1914.4 L1030.2,1913.9 L1031.3,1913.6 L1032.3,1913.3 L1033.3,1913.1 L1034.4,1913.1 L1035.4,1913.1 L1036.5,1913.3 L1037.5,1913.5 L1038.5,1913.9 L1039.6,1914.4 L1040.6,1914.9 L1041.6,1915.5 L1042.7,1916.2 L1043.7,1917.0 L1044.7,1917.9 L1045.8,1918.8 L1046.8,1919.8 L1047.8,1920.9 L1048.9,1922.0 L1049.9,1923.2 L1051.0,1924.5 L1052.0,1925.8 L1053.0,1927.2 L1054.1,1928.6 L1055.1,1930.0 L1056.1,1931.5 L1057.2,1933.0 L1058.2,1934.8 L1059.2,1937.1 L1060.3,1939.8 L1061.3,1943.0 L1061.9,1944.9 L1062.3,1946.5 L1063.4,1950.5 L1064.4,1954.8 L1065.5,1959.3 L1066.5,1964.2 L1067.5,1969.3 L1068.6,1974.6 L1069.6,1980.1 L1070.6,1985.7 L1071.7,1991.5 L1072.7,1997.4 L1073.7,2003.3 L1074.8,2009.3 L1075.8,2015.3 L1076.8,2021.2 L1077.9,2027.1 L1078.9,2033.1 L1080.0,2039.4 L1081.0,2045.9 L1082.0,2052.6 L1083.1,2059.6 L1084.1,2066.8 L1085.1,2074.2 L1086.2,2081.7 L1087.2,2089.5 L1088.2,2097.4 L1089.3,2105.4 L1090.3,2113.6 L1091.3,2121.9 L1092.4,2130.2 L1093.4,2138.7 L1094.5,2147.2 L1095.5,2155.8 L1096.5,2164.5 L1097.6,2173.2 L1098.6,2181.8 L1099.6,2190.5 L1100.7,2199.2 L1101.7,2207.8 L1102.7,2216.4 L1103.8,2225.1 L1104.8,2234.1 L1105.8,2243.2 L1106.9,2252.5 L1107.9,2261.9 L1109.0,2271.4 L1110.0,2281.0 L1111.0,2290.8 L1112.1,2300.5 L1113.1,2310.3 L1114.1,2320.0 L1115.2,2329.8 L1116.2,2339.4 L1117.2,2349.0 L1118.3,2358.5 L1119.3,2367.9 L1120.3,2377.1 L1121.4,2386.1 L1122.4,2395.0 L1123.5,2403.6 L1124.5,2412.1 L1125.5,2420.7 L1126.6,2429.3 L1127.6,2437.9 L1128.6,2446.6 L1129.7,2455.2 L1130.7,2463.7 L1131.7,2472.2 L1132.8,2480.5 L1133.8,2488.7 L1134.8,2496.8 L1135.9,2504.7 L1136.9,2512.4 L1138.0,2519.9 L1139.0,2527.1 L1140.0,2534.0 L1141.1,2540.7 L1142.1,2547.0 L1143.1,2553.0 L1144.2,2558.6 L1144.9,2562.2 L1145.2,2563.9 L1146.2,2569.2 L1147.3,2574.3 L1148.3,2579.4 L1149.3,2584.3 L1150.4,2589.1 L1151.4,2593.7 L1152.5,2598.3 L1153.5,2602.7 L1154.5,2607.0 L1155.6,2611.1 L1156.6,2615.2 L1157.6,2619.0 L1158.7,2622.7 L1159.7,2626.3 L1160.7,2629.7 L1161.8,2632.9 L1162.8,2636.0 L1163.8,2638.9 L1164.9,2641.6 L1165.9,2644.2 L1167.0,2646.8 L1168.0,2649.2 L1169.0,2651.7 L1170.1,2654.0 L1171.1,2656.3 L1172.1,2658.5 L1173.2,2660.6 L1174.2,2662.6 L1175.2,2664.6 L1176.3,2666.5 L1177.3,2668.3 L1178.4,2670.0 L1179.4,2671.6 L1180.4,2673.1 L1181.5,2674.5 L1182.5,2675.8 L1183.5,2677.0 L1184.6,2678.1 L1185.6,2679.3 L1186.4,2680.1 L1186.6,2680.4 L1187.7,2681.5 L1188.7,2682.6 L1189.7,2683.7 L1190.8,2684.7 L1191.8,2685.8 L1192.9,2686.9 L1193.9,2687.9 L1194.9,2688.9 L1196.0,2689.9 L1197.0,2690.9 L1198.0,2691.9 L1199.1,2692.9 L1200.1,2693.8 L1201.1,2694.7 L1202.2,2695.6 L1203.2,2696.5 L1204.2,2697.3 L1205.3,2698.1 L1206.3,2698.9 L1207.4,2699.7 L1208.4,2700.4 L1209.4,2701.1 L1210.5,2701.8 L1211.5,2702.4 L1212.5,2703.0 L1216.7,2705.0 L1220.8,2706.4 L1225.0,2707.1 L1227.9,2707.2 L1229.1,2707.2 L1233.2,2707.2 L1237.4,2707.2 L1241.5,2707.2 L1245.7,2707.2 L1249.8,2707.2 L1254.0,2707.2 L1258.1,2707.2 L1262.2,2707.2 L1266.4,2707.2 L1269.4,2707.1 L1270.5,2707.1 L1274.7,2706.6 L1278.8,2705.8 L1283.0,2704.6 L1287.1,2703.2 L1291.2,2701.6 L1295.4,2699.9 L1299.5,2698.2 L1303.7,2696.5 L1307.8,2695.0 L1310.8,2694.0 L1312.0,2693.7 L1316.1,2692.1 L1320.2,2690.4 L1324.4,2688.7 L1328.5,2686.9 L1332.7,2685.2 L1336.8,2683.7 L1341.0,2682.4 L1345.1,2681.5 L1349.2,2680.8 L1352.3,2680.7 L1353.4,2680.7 L1357.5,2680.8 L1361.7,2681.1 L1365.8,2681.6 L1370.0,2682.2 L1374.1,2682.9 L1378.2,2683.7 L1382.4,2684.7 L1386.5,2685.6 L1390.7,2686.7 L1393.8,2687.6 L1394.8,2687.9 L1399.0,2689.7 L1403.1,2692.0 L1407.3,2694.7 L1411.4,2697.8 L1415.5,2701.0 L1419.7,2704.3 L1423.8,2707.6 L1428.0,2710.9 L1432.1,2713.9 L1435.3,2716.1 L1436.3,2716.7 L1440.4,2719.7 L1444.5,2722.7 L1448.7,2725.7 L1452.8,2728.7 L1457.0,2731.7 L1461.1,2734.6 L1465.3,2737.3 L1469.4,2739.8 L1473.5,2742.2 L1476.8,2743.8 L1477.7,2744.3 L1481.8,2746.3 L1486.0,2748.2 L1490.1,2750.1 L1494.3,2751.9 L1498.4,2753.6 L1502.5,2755.2 L1506.7,2756.7 L1510.8,2758.0 L1515.0,2759.2 L1518.3,2760.1 L1519.1,2760.3 L1523.3,2761.3 L1527.4,2762.1 L1531.5,2762.9 L1535.7,2763.7 L1539.8,2764.4 L1544.0,2765.1 L1548.1,2765.8 L1552.3,2766.5 L1556.4,2767.3 L1559.8,2768.0 L1560.5,2768.2 L1564.7,2769.1 L1568.8,2770.1 L1573.0,2771.1 L1577.1,2772.2 L1581.3,2773.2 L1585.4,2774.2 L1589.5,2775.1 L1593.7,2776.0 L1597.8,2776.7 L1601.3,2777.3 L1602.0,2777.4 L1606.1,2778.0 L1610.3,2778.6 L1614.4,2779.2 L1618.5,2779.7 L1622.7,2780.2 L1626.8,2780.6 L1631.0,2781.1 L1635.1,2781.5 L1639.3,2781.9 L1642.8,2782.3 L1643.4,2782.3 L1647.5,2782.8 L1651.7,2783.2 L1655.8,2783.7 L1660.0,2784.1 L1664.1,2784.5 L1668.3,2784.8 L1672.4,2785.0 L1676.5,2785.2 L1680.7,2785.3 L1684.3,2785.3 L1684.8,2785.3 L1689.0,2785.3 L1693.1,2785.3 L1697.3,2785.3 L1701.4,2785.3 L1705.5,2785.3 L1709.7,2785.3 L1713.8,2785.3 L1718.0,2785.3 L1722.1,2785.3 L1725.8,2785.3 L1726.3,2785.3 L1730.4,2785.3 L1734.5,2785.4 L1738.7,2785.4 L1742.8,2785.4 L1747.0,2785.5 L1751.1,2785.5 L1755.3,2785.5 L1759.4,2785.5 L1763.5,2785.5 L1767.3,2785.5 L1767.7,2785.5 L1771.8,2785.5 L1776.0,2785.5 L1780.1,2785.5 L1784.3,2785.5 L1788.4,2785.5 L1792.5,2785.5 L1796.7,2785.5 L1800.8,2785.5 L1805.0,2785.5 L1808.7,2785.5 L1809.1,2785.5 L1813.3,2785.5 L1817.4,2785.5 L1821.6,2785.5 L1825.7,2785.5 L1829.8,2785.5 L1834.0,2785.5 L1838.1,2785.5 L1842.3,2785.5 L1846.4,2785.5 L1850.2,2785.5 L1850.6,2785.5 L1854.7,2785.5 L1858.8,2785.5 L1863.0,2785.5 L1867.1,2785.5 L1871.3,2785.5 L1875.4,2785.5 L1879.6,2785.5 L1883.7,2785.5 L1887.8,2785.5 L1891.7,2785.5 L1892.0,2785.5 L1896.1,2785.5 L1900.3,2785.5 L1904.4,2785.5 L1908.6,2785.5 L1912.7,2785.5 L1916.8,2785.5 L1921.0,2785.5 L1925.1,2785.5 L1929.3,2785.5 L1933.2,2785.5 L1933.4,2785.5 L1937.6,2785.5 L1941.7,2785.5 L1945.8,2785.5 L1950.0,2785.5 L1954.1,2785.5 L1958.3,2785.5 L1962.4,2785.5 L1966.6,2785.5 L1970.7,2785.5 L1974.7,2785.5" fill="none" stroke="#FF0000" stroke-width="4.6" stroke-linejoin="round" stroke-linecap="butt"/>
<circle cx="398.0" cy="2740.8" r="15" fill="#FF0000"/>
<circle cx="439.5" cy="2776.6" r="15" fill="#FF0000"/>
<circle cx="481.0" cy="2784.4" r="15" fill="#FF0000"/>
<circle cx="522.5" cy="2786.6" r="15" fill="#FF0000"/>
<circle cx="564.0" cy="2782.2" r="15" fill="#FF0000"/>
<circle cx="605.5" cy="2777.8" r="15" fill="#FF0000"/>
<circle cx="647.0" cy="2766.7" r="15" fill="#FF0000"/>
<circle cx="682.8" cy="2705.2" r="15" fill="#FF0000"/>
<circle cx="727.8" cy="2669.3" r="15" fill="#FF0000"/>
<circle cx="771.4" cy="2662.6" r="15" fill="#FF0000"/>
<circle cx="812.7" cy="2651.6" r="15" fill="#FF0000"/>
<circle cx="855.2" cy="2683.7" r="15" fill="#FF0000"/>
<circle cx="893.5" cy="2699.2" r="15" fill="#FF0000"/>
<circle cx="939.9" cy="2537.7" r="15" fill="#FF0000"/>
<circle cx="974.7" cy="2230.8" r="15" fill="#FF0000"/>
<circle cx="1015.7" cy="1927.5" r="15" fill="#FF0000"/>
<circle cx="1061.9" cy="1944.9" r="15" fill="#FF0000"/>
<circle cx="1102.7" cy="2216.4" r="15" fill="#FF0000"/>
<circle cx="1144.9" cy="2562.2" r="15" fill="#FF0000"/>
<circle cx="1186.4" cy="2680.1" r="15" fill="#FF0000"/>
<circle cx="1227.9" cy="2707.2" r="15" fill="#FF0000"/>
<circle cx="1269.4" cy="2707.1" r="15" fill="#FF0000"/>
<circle cx="1310.8" cy="2694.0" r="15" fill="#FF0000"/>
<circle cx="1352.3" cy="2680.7" r="15" fill="#FF0000"/>
<circle cx="1393.8" cy="2687.6" r="15" fill="#FF0000"/>
<circle cx="1435.3" cy="2716.1" r="15" fill="#FF0000"/>
<circle cx="1476.8" cy="2743.8" r="15" fill="#FF0000"/>
<circle cx="1518.3" cy="2760.1" r="15" fill="#FF0000"/>
<circle cx="1559.8" cy="2768.0" r="15" fill="#FF0000"/>
<circle cx="1601.3" cy="2777.3" r="15" fill="#FF0000"/>
<circle cx="1642.8" cy="2782.3" r="15" fill="#FF0000"/>
<circle cx="1684.3" cy="2785.3" r="15" fill="#FF0000"/>
<circle cx="1725.8" cy="2785.3" r="15" fill="#FF0000"/>
<circle cx="1767.3" cy="2785.5" r="15" fill="#FF0000"/>
<circle cx="1808.7" cy="2785.5" r="15" fill="#FF0000"/>
<circle cx="1850.2" cy="2785.5" r="15" fill="#FF0000"/>
<circle cx="1891.7" cy="2785.5" r="15" fill="#FF0000"/>
<circle cx="1933.2" cy="2785.5" r="15" fill="#FF0000"/>
<circle cx="1974.7" cy="2785.5" r="15" fill="#FF0000"/>
<path d="M400.9,2735.3 L404.6,2739.0 L408.8,2743.4 L412.9,2748.2 L417.1,2753.2 L421.2,2758.2 L425.4,2763.1 L429.5,2767.7 L433.6,2771.9 L437.8,2775.4 L441.9,2778.2 L442.4,2778.4 L446.1,2780.0 L450.2,2781.2 L454.4,2782.4 L458.5,2783.4 L462.6,2784.3 L466.8,2785.1 L470.9,2785.8 L475.1,2786.4 L479.2,2786.9 L483.4,2787.4 L483.9,2787.4 L487.5,2787.8 L491.6,2788.1 L495.8,2788.4 L499.9,2788.7 L504.1,2789.0 L508.2,2789.3 L512.4,2789.5 L516.5,2789.7 L520.6,2789.8 L524.8,2789.9 L525.4,2789.9 L528.9,2790.0 L533.1,2789.9 L537.2,2789.7 L541.4,2789.3 L545.5,2788.9 L549.6,2788.4 L553.8,2787.8 L557.9,2787.2 L562.1,2786.6 L566.2,2786.1 L566.9,2786.0 L570.4,2785.5 L574.5,2785.0 L578.7,2784.6 L582.8,2784.0 L586.9,2783.5 L591.1,2783.0 L595.2,2782.5 L599.4,2781.9 L603.5,2781.3 L607.7,2780.7 L608.4,2780.6 L611.8,2780.0 L615.9,2779.3 L620.1,2778.7 L624.2,2778.0 L628.4,2777.2 L632.5,2776.5 L636.7,2775.6 L640.8,2774.7 L644.9,2773.6 L649.1,2772.5 L649.9,2772.2 L653.2,2771.1 L654.3,2770.8 L655.3,2770.4 L656.3,2770.0 L657.4,2769.6 L658.4,2769.2 L659.4,2768.8 L660.5,2768.4 L661.5,2767.9 L662.5,2767.4 L663.6,2766.9 L664.6,2766.3 L665.7,2765.7 L666.7,2765.1 L667.7,2764.5 L668.8,2763.9 L669.8,2763.2 L670.8,2762.4 L671.9,2761.7 L672.9,2760.8 L673.9,2760.0 L675.0,2759.1 L676.0,2758.2 L677.0,2757.2 L678.1,2756.2 L679.1,2755.1 L680.2,2754.0 L681.2,2752.8 L682.2,2751.6 L683.3,2750.3 L684.3,2749.0 L685.3,2747.3 L686.4,2744.9 L687.4,2742.0 L688.4,2738.5 L689.5,2734.7 L690.5,2730.4 L691.4,2726.8 L691.5,2726.0 L692.6,2721.3 L693.6,2716.5 L694.7,2711.7 L695.7,2706.9 L696.7,2702.3 L697.8,2697.8 L698.8,2693.6 L699.8,2689.4 L700.9,2684.8 L701.9,2679.9 L702.9,2674.7 L704.0,2669.4 L705.0,2664.0 L706.0,2658.6 L707.1,2653.3 L708.1,2648.1 L709.2,2643.1 L710.2,2638.5 L711.2,2634.2 L712.3,2630.3 L713.3,2627.0 L714.3,2624.3 L715.4,2622.3 L716.4,2621.0 L717.4,2620.6 L718.5,2620.8 L719.5,2621.5 L720.5,2622.6 L721.6,2624.1 L722.6,2625.9 L723.7,2627.9 L724.7,2630.0 L725.7,2632.3 L726.8,2634.7 L727.8,2637.1 L728.8,2639.5 L729.9,2641.8 L730.9,2643.9 L731.9,2645.8 L732.8,2647.1 L733.0,2647.5 L734.0,2649.1 L735.0,2650.8 L736.1,2652.6 L737.1,2654.4 L738.2,2656.3 L739.2,2658.1 L740.2,2660.0 L741.3,2661.8 L742.3,2663.5 L743.3,2665.2 L744.4,2666.8 L745.4,2668.2 L746.4,2669.6 L747.5,2670.8 L748.5,2671.8 L749.5,2672.6 L750.6,2673.2 L751.6,2673.6 L752.7,2673.7 L753.7,2673.7 L754.7,2673.5 L755.8,2673.3 L756.8,2673.0 L757.8,2672.6 L758.9,2672.2 L759.9,2671.7 L760.9,2671.2 L762.0,2670.6 L763.0,2670.0 L764.1,2669.3 L765.1,2668.6 L766.1,2667.9 L767.2,2667.1 L768.2,2666.4 L769.2,2665.6 L770.3,2664.9 L771.3,2664.1 L772.3,2663.4 L773.4,2662.6 L774.3,2661.9 L774.4,2661.9 L775.4,2661.1 L776.5,2660.2 L777.5,2659.3 L778.6,2658.4 L779.6,2657.4 L780.6,2656.4 L781.7,2655.3 L782.7,2654.2 L783.7,2653.1 L784.8,2652.0 L785.8,2650.9 L786.8,2649.7 L787.9,2648.6 L788.9,2647.5 L789.9,2646.4 L791.0,2645.2 L792.0,2644.2 L793.1,2643.1 L794.1,2642.0 L795.1,2641.0 L796.2,2640.1 L797.2,2639.2 L798.2,2638.3 L799.3,2637.4 L800.3,2636.5 L801.3,2635.5 L802.4,2634.6 L803.4,2633.6 L804.4,2632.6 L805.5,2631.6 L806.5,2630.6 L807.6,2629.7 L808.6,2628.9 L809.6,2628.1 L810.7,2627.3 L811.7,2626.7 L812.7,2626.1 L813.8,2625.6 L814.8,2625.3 L815.8,2625.1 L816.9,2625.0 L817.9,2625.1 L818.9,2625.4 L820.0,2625.9 L821.0,2626.5 L822.1,2627.3 L823.1,2628.2 L824.1,2629.3 L825.2,2630.4 L826.2,2631.6 L827.2,2632.9 L828.3,2634.2 L829.3,2635.6 L830.3,2637.0 L831.4,2638.4 L832.4,2639.8 L833.4,2641.2 L834.5,2642.5 L835.5,2643.8 L836.6,2645.1 L837.6,2646.5 L838.6,2648.0 L839.7,2649.6 L840.7,2651.2 L841.7,2652.8 L842.8,2654.6 L843.8,2656.3 L844.8,2658.0 L845.9,2659.8 L846.9,2661.5 L847.9,2663.3 L849.0,2665.0 L850.0,2666.6 L851.1,2668.2 L852.1,2669.7 L853.1,2671.1 L854.2,2672.5 L855.2,2673.7 L856.2,2674.8 L857.3,2675.9 L858.3,2677.0 L859.3,2678.0 L860.4,2679.1 L861.4,2680.2 L862.4,2681.3 L863.5,2682.4 L864.5,2683.4 L865.6,2684.5 L866.6,2685.5 L867.6,2686.5 L868.7,2687.4 L869.7,2688.3 L870.7,2689.1 L871.8,2689.9 L872.8,2690.6 L873.8,2691.3 L874.9,2691.9 L875.9,2692.4 L876.9,2692.8 L878.0,2693.2 L879.0,2693.4 L880.1,2693.6 L881.1,2693.6 L882.1,2693.6 L883.2,2693.6 L884.2,2693.6 L885.2,2693.5 L886.3,2693.4 L887.3,2693.3 L888.3,2693.2 L889.4,2693.1 L890.4,2692.9 L891.4,2692.8 L892.5,2692.6 L893.5,2692.4 L894.6,2692.2 L895.6,2691.9 L896.6,2691.7 L897.7,2691.4 L898.7,2690.8 L899.7,2689.6 L900.8,2687.7 L901.8,2685.4 L902.8,2682.7 L903.9,2679.5 L904.9,2676.1 L905.9,2672.5 L907.0,2668.6 L908.0,2664.7 L909.1,2660.7 L910.1,2656.8 L911.1,2653.0 L912.2,2649.4 L913.2,2645.7 L914.2,2641.9 L915.3,2638.0 L916.3,2633.8 L917.3,2629.6 L918.4,2625.3 L919.4,2620.8 L920.4,2616.3 L921.5,2611.7 L922.5,2607.0 L923.6,2602.3 L924.6,2597.6 L925.6,2592.9 L926.7,2588.2 L927.7,2583.5 L928.7,2578.8 L929.8,2574.2 L930.8,2569.6 L931.8,2565.2 L932.9,2560.8 L933.9,2556.5 L934.9,2552.5 L936.0,2548.5 L937.0,2544.6 L938.1,2540.8 L939.1,2537.1 L940.1,2533.3 L941.2,2529.6 L942.2,2525.8 L943.2,2522.0 L944.3,2518.0 L945.3,2514.0 L946.3,2509.7 L947.4,2505.4 L948.4,2500.8 L949.4,2496.0 L950.5,2490.9 L951.5,2485.5 L952.6,2479.8 L953.6,2473.7 L954.6,2467.0 L955.7,2459.8 L956.7,2452.2 L957.7,2444.2 L958.8,2435.8 L959.8,2427.0 L960.8,2417.9 L961.9,2408.6 L962.9,2398.9 L964.0,2389.0 L965.0,2378.9 L966.0,2368.6 L967.1,2358.2 L968.1,2347.7 L969.1,2337.1 L970.2,2326.4 L971.2,2315.7 L972.2,2305.0 L973.3,2294.3 L974.3,2283.7 L975.3,2273.2 L976.4,2262.8 L977.4,2252.6 L978.5,2242.6 L979.5,2232.8 L980.5,2223.2 L981.1,2217.6 L981.6,2213.8 L982.6,2204.4 L983.6,2194.8 L984.7,2185.0 L985.7,2175.2 L986.7,2165.3 L987.8,2155.4 L988.8,2145.5 L989.8,2135.6 L990.9,2125.9 L991.9,2116.2 L993.0,2106.7 L994.0,2097.4 L995.0,2088.3 L996.1,2079.5 L997.1,2070.9 L998.1,2062.7 L999.2,2054.9 L1000.2,2047.4 L1001.2,2040.4 L1002.3,2033.6 L1003.3,2026.7 L1004.3,2019.8 L1005.4,2013.0 L1006.4,2006.2 L1007.5,1999.5 L1008.5,1992.9 L1009.5,1986.6 L1010.6,1980.4 L1011.6,1974.4 L1012.6,1968.8 L1013.7,1963.4 L1014.7,1958.4 L1015.7,1953.7 L1016.8,1949.5 L1017.8,1945.7 L1018.8,1942.4 L1019.9,1939.7 L1020.9,1937.4 L1022.0,1935.5 L1023.0,1933.7 L1024.0,1931.8 L1025.1,1930.1 L1026.1,1928.3 L1027.1,1926.7 L1028.2,1925.1 L1029.2,1923.6 L1030.2,1922.2 L1031.3,1920.8 L1032.3,1919.6 L1033.3,1918.4 L1034.4,1917.3 L1035.4,1916.4 L1036.5,1915.5 L1037.5,1914.8 L1038.5,1914.2 L1039.6,1913.7 L1040.6,1913.4 L1041.6,1913.2 L1042.7,1913.1 L1043.7,1913.1 L1044.7,1913.3 L1045.8,1913.6 L1046.8,1914.0 L1047.8,1914.5 L1048.9,1915.1 L1049.9,1915.9 L1051.0,1916.7 L1052.0,1917.6 L1053.0,1918.6 L1054.1,1919.7 L1055.1,1920.9 L1056.1,1922.2 L1057.2,1923.6 L1058.2,1925.0 L1059.2,1926.5 L1060.3,1928.1 L1061.3,1929.8 L1062.3,1931.5 L1063.4,1933.3 L1064.4,1935.1 L1065.5,1937.0 L1065.7,1937.4 L1066.5,1939.3 L1067.5,1942.6 L1068.6,1946.8 L1069.6,1951.8 L1070.6,1957.5 L1071.7,1964.0 L1072.7,1971.0 L1073.7,1978.5 L1074.8,1986.4 L1075.8,1994.6 L1076.8,2003.1 L1077.9,2011.8 L1078.9,2020.5 L1080.0,2029.3 L1081.0,2037.9 L1082.0,2046.4 L1083.1,2054.6 L1084.1,2062.5 L1085.1,2070.3 L1086.2,2078.2 L1087.2,2086.3 L1088.2,2094.4 L1089.3,2102.7 L1090.3,2111.1 L1091.3,2119.5 L1092.4,2128.1 L1093.4,2136.7 L1094.5,2145.3 L1095.5,2154.1 L1096.5,2162.9 L1097.6,2171.7 L1098.6,2180.6 L1099.6,2189.4 L1100.7,2198.3 L1101.7,2207.3 L1102.7,2216.2 L1103.8,2225.1 L1104.8,2233.9 L1105.2,2237.5 L1105.8,2242.8 L1106.9,2251.8 L1107.9,2260.9 L1109.0,2270.1 L1110.0,2279.4 L1111.0,2288.8 L1112.1,2298.1 L1113.1,2307.6 L1114.1,2317.0 L1115.2,2326.4 L1116.2,2335.8 L1117.2,2345.2 L1118.3,2354.5 L1119.3,2363.7 L1120.3,2372.9 L1121.4,2382.0 L1122.4,2390.9 L1123.5,2399.7 L1124.5,2408.4 L1125.5,2416.8 L1126.6,2425.3 L1127.6,2433.9 L1128.6,2442.5 L1129.7,2451.2 L1130.7,2459.8 L1131.7,2468.5 L1132.8,2477.1 L1133.8,2485.7 L1134.8,2494.1 L1135.9,2502.4 L1136.9,2510.6 L1138.0,2518.5 L1139.0,2526.3 L1140.0,2533.8 L1141.1,2541.0 L1142.1,2547.9 L1143.1,2554.4 L1144.2,2560.7 L1145.2,2566.5 L1146.2,2571.9 L1147.3,2577.0 L1147.8,2579.4 L1148.3,2581.9 L1149.3,2586.8 L1150.4,2591.6 L1151.4,2596.2 L1152.5,2600.7 L1153.5,2605.0 L1154.5,2609.3 L1155.6,2613.4 L1156.6,2617.3 L1157.6,2621.2 L1158.7,2624.9 L1159.7,2628.4 L1160.7,2631.8 L1161.8,2635.1 L1162.8,2638.3 L1163.8,2641.3 L1164.9,2644.1 L1165.9,2646.8 L1167.0,2649.4 L1168.0,2651.8 L1169.0,2654.2 L1170.1,2656.5 L1171.1,2658.7 L1172.1,2660.9 L1173.2,2663.0 L1174.2,2665.0 L1175.2,2666.9 L1176.3,2668.8 L1177.3,2670.6 L1178.4,2672.2 L1179.4,2673.8 L1180.4,2675.3 L1181.5,2676.7 L1182.5,2678.0 L1183.5,2679.2 L1184.6,2680.4 L1185.6,2681.5 L1186.6,2682.6 L1187.7,2683.7 L1188.7,2684.8 L1189.3,2685.3 L1189.7,2685.8 L1190.8,2686.9 L1191.8,2688.0 L1192.9,2689.0 L1193.9,2690.1 L1194.9,2691.1 L1196.0,2692.1 L1197.0,2693.1 L1198.0,2694.1 L1199.1,2695.0 L1200.1,2696.0 L1201.1,2696.9 L1202.2,2697.8 L1203.2,2698.6 L1204.2,2699.5 L1205.3,2700.3 L1206.3,2701.1 L1207.4,2701.9 L1208.4,2702.6 L1209.4,2703.3 L1210.5,2704.0 L1211.5,2704.6 L1212.5,2705.2 L1216.7,2707.2 L1220.8,2708.6 L1225.0,2709.3 L1229.1,2709.4 L1230.8,2709.4 L1233.2,2709.4 L1237.4,2709.4 L1241.5,2709.4 L1245.7,2709.4 L1249.8,2709.4 L1254.0,2709.4 L1258.1,2709.4 L1262.2,2709.4 L1266.4,2709.4 L1270.5,2709.3 L1272.3,2709.2 L1274.7,2708.9 L1278.8,2708.0 L1283.0,2706.8 L1287.1,2705.4 L1291.2,2703.8 L1295.4,2702.1 L1299.5,2700.4 L1303.7,2698.8 L1307.8,2697.2 L1312.0,2695.9 L1313.7,2695.2 L1316.1,2694.3 L1320.2,2692.7 L1324.4,2690.9 L1328.5,2689.1 L1332.7,2687.5 L1336.8,2685.9 L1341.0,2684.7 L1345.1,2683.7 L1349.2,2683.1 L1353.4,2682.9 L1355.2,2682.9 L1357.5,2683.0 L1361.7,2683.3 L1365.8,2683.8 L1370.0,2684.4 L1374.1,2685.1 L1378.2,2686.0 L1382.4,2686.9 L1386.5,2687.9 L1390.7,2688.9 L1394.8,2690.1 L1396.7,2690.9 L1399.0,2691.9 L1403.1,2694.2 L1407.3,2697.0 L1411.4,2700.0 L1415.5,2703.2 L1419.7,2706.5 L1423.8,2709.9 L1428.0,2713.1 L1432.1,2716.1 L1436.3,2719.0 L1438.2,2720.3 L1440.4,2721.9 L1444.5,2724.9 L1448.7,2727.9 L1452.8,2730.9 L1457.0,2733.9 L1461.1,2736.8 L1465.3,2739.5 L1469.4,2742.1 L1473.5,2744.4 L1477.7,2746.5 L1479.7,2747.5 L1481.8,2748.5 L1486.0,2750.5 L1490.1,2752.3 L1494.3,2754.1 L1498.4,2755.8 L1502.5,2757.4 L1506.7,2758.9 L1510.8,2760.2 L1515.0,2761.5 L1519.1,2762.5 L1521.2,2763.0 L1523.3,2763.5 L1527.4,2764.4 L1531.5,2765.2 L1535.7,2765.9 L1539.8,2766.6 L1544.0,2767.3 L1548.1,2768.0 L1552.3,2768.7 L1556.4,2769.5 L1560.5,2770.4 L1562.7,2770.9 L1564.7,2771.3 L1568.8,2772.3 L1573.0,2773.3 L1577.1,2774.4 L1581.3,2775.4 L1585.4,2776.4 L1589.5,2777.3 L1593.7,2778.2 L1597.8,2779.0 L1602.0,2779.6 L1604.2,2780.0 L1606.1,2780.2 L1610.3,2780.8 L1614.4,2781.4 L1618.5,2781.9 L1622.7,2782.4 L1626.8,2782.8 L1631.0,2783.3 L1635.1,2783.7 L1639.3,2784.1 L1643.4,2784.5 L1645.7,2784.8 L1647.5,2785.0 L1651.7,2785.4 L1655.8,2785.9 L1660.0,2786.3 L1664.1,2786.7 L1668.3,2787.0 L1672.4,2787.3 L1676.5,2787.4 L1680.7,2787.5 L1684.8,2787.5 L1687.2,2787.5 L1689.0,2787.5 L1693.1,2787.5 L1697.3,2787.5 L1701.4,2787.5 L1705.5,2787.5 L1709.7,2787.5 L1713.8,2787.5 L1718.0,2787.5 L1722.1,2787.5 L1726.3,2787.5 L1728.7,2787.5 L1730.4,2787.5 L1734.5,2787.6 L1738.7,2787.6 L1742.8,2787.6 L1747.0,2787.7 L1751.1,2787.7 L1755.3,2787.7 L1759.4,2787.7 L1763.5,2787.8 L1767.7,2787.8 L1770.2,2787.8 L1771.8,2787.8 L1776.0,2787.8 L1780.1,2787.8 L1784.3,2787.8 L1788.4,2787.8 L1792.5,2787.8 L1796.7,2787.8 L1800.8,2787.8 L1805.0,2787.8 L1809.1,2787.8 L1811.6,2787.8 L1813.3,2787.8 L1817.4,2787.8 L1821.6,2787.8 L1825.7,2787.8 L1829.8,2787.8 L1834.0,2787.8 L1838.1,2787.8 L1842.3,2787.8 L1846.4,2787.8 L1850.6,2787.8 L1853.1,2787.8 L1854.7,2787.8 L1858.8,2787.8 L1863.0,2787.8 L1867.1,2787.8 L1871.3,2787.8 L1875.4,2787.8 L1879.6,2787.8 L1883.7,2787.8 L1887.8,2787.8 L1892.0,2787.8 L1894.6,2787.8 L1896.1,2787.8 L1900.3,2787.8 L1904.4,2787.8 L1908.6,2787.8 L1912.7,2787.8 L1916.8,2787.8 L1921.0,2787.8 L1925.1,2787.8 L1929.3,2787.8 L1933.4,2787.8 L1936.1,2787.8 L1937.6,2787.8 L1941.7,2787.8 L1945.8,2787.8 L1950.0,2787.8 L1954.1,2787.8 L1958.3,2787.8 L1962.4,2787.8 L1966.6,2787.8 L1970.7,2787.8 L1974.8,2787.8 L1977.6,2787.8" fill="none" stroke="#0000FF" stroke-width="4.6" stroke-linejoin="round" stroke-linecap="butt"/>
<polygon points="400.9,2714.3 381.9,2745.9 419.9,2745.9" fill="#0000FF"/>
<polygon points="442.4,2757.4 423.4,2789.0 461.4,2789.0" fill="#0000FF"/>
<polygon points="483.9,2766.4 464.9,2798.0 502.9,2798.0" fill="#0000FF"/>
<polygon points="525.4,2768.9 506.4,2800.5 544.4,2800.5" fill="#0000FF"/>
<polygon points="566.9,2765.0 547.9,2796.6 585.9,2796.6" fill="#0000FF"/>
<polygon points="608.4,2759.6 589.4,2791.2 627.4,2791.2" fill="#0000FF"/>
<polygon points="649.9,2751.2 630.9,2782.8 668.9,2782.8" fill="#0000FF"/>
<polygon points="691.4,2705.8 672.4,2737.4 710.4,2737.4" fill="#0000FF"/>
<polygon points="732.8,2626.1 713.8,2657.7 751.8,2657.7" fill="#0000FF"/>
<polygon points="774.3,2640.9 755.3,2672.5 793.3,2672.5" fill="#0000FF"/>
<polygon points="816.9,2604.0 797.9,2635.6 835.9,2635.6" fill="#0000FF"/>
<polygon points="856.2,2653.8 837.2,2685.4 875.2,2685.4" fill="#0000FF"/>
<polygon points="901.8,2664.4 882.8,2696.0 920.8,2696.0" fill="#0000FF"/>
<polygon points="950.5,2469.9 931.5,2501.5 969.5,2501.5" fill="#0000FF"/>
<polygon points="981.1,2196.6 962.1,2228.2 1000.1,2228.2" fill="#0000FF"/>
<polygon points="1020.9,1916.4 1001.9,1948.0 1039.9,1948.0" fill="#0000FF"/>
<polygon points="1065.7,1916.4 1046.7,1948.0 1084.7,1948.0" fill="#0000FF"/>
<polygon points="1105.2,2216.5 1086.2,2248.1 1124.2,2248.1" fill="#0000FF"/>
<polygon points="1147.8,2558.4 1128.8,2590.0 1166.8,2590.0" fill="#0000FF"/>
<polygon points="1189.3,2664.3 1170.3,2695.9 1208.3,2695.9" fill="#0000FF"/>
<polygon points="1230.8,2688.4 1211.8,2720.0 1249.8,2720.0" fill="#0000FF"/>
<polygon points="1272.3,2688.2 1253.3,2719.8 1291.3,2719.8" fill="#0000FF"/>
<polygon points="1313.7,2674.2 1294.7,2705.8 1332.7,2705.8" fill="#0000FF"/>
<polygon points="1355.2,2661.9 1336.2,2693.5 1374.2,2693.5" fill="#0000FF"/>
<polygon points="1396.7,2669.9 1377.7,2701.5 1415.7,2701.5" fill="#0000FF"/>
<polygon points="1438.2,2699.3 1419.2,2730.9 1457.2,2730.9" fill="#0000FF"/>
<polygon points="1479.7,2726.5 1460.7,2758.1 1498.7,2758.1" fill="#0000FF"/>
<polygon points="1521.2,2742.0 1502.2,2773.6 1540.2,2773.6" fill="#0000FF"/>
<polygon points="1562.7,2749.9 1543.7,2781.5 1581.7,2781.5" fill="#0000FF"/>
<polygon points="1604.2,2759.0 1585.2,2790.6 1623.2,2790.6" fill="#0000FF"/>
<polygon points="1645.7,2763.8 1626.7,2795.4 1664.7,2795.4" fill="#0000FF"/>
<polygon points="1687.2,2766.5 1668.2,2798.1 1706.2,2798.1" fill="#0000FF"/>
<polygon points="1728.7,2766.5 1709.7,2798.1 1747.7,2798.1" fill="#0000FF"/>
<polygon points="1770.2,2766.8 1751.2,2798.4 1789.2,2798.4" fill="#0000FF"/>
<polygon points="1811.6,2766.8 1792.6,2798.4 1830.6,2798.4" fill="#0000FF"/>
<polygon points="1853.1,2766.8 1834.1,2798.4 1872.1,2798.4" fill="#0000FF"/>
<polygon points="1894.6,2766.8 1875.6,2798.4 1913.6,2798.4" fill="#0000FF"/>
<polygon points="1936.1,2766.8 1917.1,2798.4 1955.1,2798.4" fill="#0000FF"/>
<polygon points="1977.6,2766.8 1958.6,2798.4 1996.6,2798.4" fill="#0000FF"/>
<path d="M391.2,2729.1 L392.2,2730.2 L396.4,2734.6 L400.5,2739.2 L404.6,2744.1 L408.8,2749.0 L412.9,2753.9 L417.1,2758.5 L421.2,2762.9 L425.4,2766.7 L429.5,2770.0 L432.7,2771.9 L433.6,2772.4 L437.8,2774.1 L441.9,2775.6 L446.1,2776.9 L450.2,2778.1 L454.4,2779.2 L458.5,2780.2 L462.6,2781.1 L466.8,2781.8 L470.9,2782.5 L474.2,2782.9 L475.1,2783.1 L479.2,2783.6 L483.4,2784.1 L487.5,2784.5 L491.6,2785.0 L495.8,2785.4 L499.9,2785.8 L504.1,2786.1 L508.2,2786.4 L512.4,2786.5 L515.7,2786.6 L516.5,2786.6 L520.6,2786.6 L524.8,2786.5 L528.9,2786.3 L533.1,2786.0 L537.2,2785.7 L541.4,2785.3 L545.5,2784.9 L549.6,2784.4 L553.8,2784.0 L557.1,2783.6 L557.9,2783.5 L562.1,2783.1 L566.2,2782.7 L570.4,2782.2 L574.5,2781.7 L578.7,2781.2 L582.8,2780.6 L586.9,2780.1 L591.1,2779.5 L595.2,2778.8 L598.6,2778.3 L599.4,2778.1 L603.5,2777.4 L607.7,2776.7 L611.8,2775.9 L615.9,2775.1 L620.1,2774.2 L624.2,2773.2 L628.4,2772.2 L632.5,2771.1 L636.7,2769.8 L640.1,2768.7 L640.8,2768.5 L644.9,2767.1 L649.1,2765.4 L653.2,2763.4 L654.3,2762.9 L655.3,2762.3 L656.3,2761.7 L657.4,2761.1 L658.4,2760.4 L659.4,2759.7 L660.5,2759.0 L661.5,2758.3 L662.5,2757.5 L663.6,2756.8 L664.6,2755.9 L665.7,2754.8 L666.7,2753.6 L667.7,2752.4 L668.8,2751.0 L669.8,2749.5 L670.8,2747.9 L671.9,2746.3 L672.9,2744.7 L673.9,2743.1 L675.0,2741.4 L676.0,2739.8 L677.0,2738.2 L678.1,2736.6 L679.1,2735.1 L680.2,2733.7 L681.2,2732.4 L682.2,2731.1 L683.3,2729.9 L684.3,2728.7 L685.3,2727.4 L686.4,2726.2 L687.4,2725.0 L688.4,2723.8 L689.5,2722.6 L690.5,2721.4 L691.5,2720.3 L692.6,2719.1 L693.6,2718.0 L694.7,2716.9 L695.7,2715.8 L696.7,2714.7 L697.8,2713.6 L698.8,2712.6 L699.8,2711.6 L700.9,2710.6 L701.9,2709.7 L702.9,2708.7 L704.0,2707.8 L705.0,2706.9 L706.0,2706.1 L707.1,2705.2 L708.1,2704.4 L709.2,2703.5 L710.2,2702.7 L711.2,2701.9 L712.3,2701.1 L713.3,2700.3 L714.3,2699.6 L715.4,2698.8 L716.4,2698.1 L717.4,2697.4 L718.5,2696.7 L719.5,2696.0 L720.5,2695.4 L721.6,2694.8 L722.6,2694.2 L723.1,2693.9 L723.7,2693.6 L724.7,2693.1 L725.7,2692.5 L726.8,2692.0 L727.8,2691.6 L728.8,2691.1 L729.9,2690.7 L730.9,2690.3 L731.9,2689.9 L733.0,2689.5 L734.0,2689.2 L735.0,2688.8 L736.1,2688.5 L737.1,2688.1 L738.2,2687.8 L739.2,2687.4 L740.2,2687.1 L741.3,2686.7 L742.3,2686.4 L743.3,2686.0 L744.4,2685.6 L745.4,2685.2 L746.4,2684.8 L747.5,2684.4 L748.5,2684.0 L749.5,2683.6 L750.6,2683.2 L751.6,2682.8 L752.7,2682.4 L753.7,2682.0 L754.7,2681.6 L755.8,2681.2 L756.8,2680.8 L757.8,2680.4 L758.9,2679.9 L759.9,2679.4 L760.9,2678.9 L762.0,2678.4 L763.0,2677.8 L764.1,2677.2 L765.1,2676.6 L766.1,2675.9 L767.2,2675.2 L768.2,2674.3 L769.2,2673.3 L770.3,2672.3 L771.3,2671.1 L772.3,2669.8 L773.4,2668.5 L774.4,2667.1 L775.4,2665.7 L776.5,2664.2 L777.5,2662.6 L778.6,2661.0 L779.6,2659.4 L780.6,2657.7 L781.7,2656.0 L782.7,2654.4 L783.7,2652.7 L784.8,2651.0 L785.8,2649.3 L786.8,2647.7 L787.9,2646.0 L788.9,2644.3 L789.9,2642.5 L791.0,2640.5 L792.0,2638.5 L793.1,2636.4 L794.1,2634.3 L795.1,2632.2 L796.2,2630.2 L797.2,2628.2 L798.2,2626.3 L799.3,2624.6 L800.3,2623.0 L801.3,2621.7 L802.4,2620.6 L803.4,2619.6 L804.4,2618.6 L805.5,2617.6 L806.5,2616.7 L807.6,2615.7 L808.6,2614.8 L809.6,2613.9 L810.7,2613.0 L811.7,2612.2 L812.7,2611.4 L813.8,2610.6 L814.8,2609.8 L815.8,2609.1 L816.9,2608.5 L817.9,2607.9 L818.9,2607.3 L820.0,2606.8 L821.0,2606.4 L822.1,2606.0 L823.1,2605.7 L824.1,2605.4 L825.2,2605.2 L826.2,2605.1 L827.2,2605.1 L828.3,2605.2 L829.3,2605.5 L830.3,2606.1 L831.4,2606.9 L832.4,2607.8 L833.4,2609.0 L834.5,2610.2 L835.5,2611.6 L836.6,2613.1 L837.6,2614.7 L838.6,2616.4 L839.7,2618.1 L840.7,2619.9 L841.7,2621.7 L842.8,2623.5 L843.8,2625.3 L844.8,2627.1 L845.9,2628.8 L846.9,2630.5 L847.6,2631.5 L847.9,2632.1 L849.0,2633.6 L850.0,2635.0 L851.1,2636.3 L852.1,2637.8 L853.1,2639.3 L854.2,2640.9 L855.2,2642.6 L856.2,2644.3 L857.3,2646.0 L858.3,2647.7 L859.3,2649.4 L860.4,2651.1 L861.4,2652.8 L862.4,2654.4 L863.5,2655.9 L864.5,2657.4 L865.6,2658.8 L866.6,2660.0 L867.6,2661.2 L868.7,2662.2 L869.7,2663.1 L870.7,2663.8 L871.8,2664.4 L872.8,2664.7 L873.8,2664.9 L874.9,2664.8 L875.9,2664.8 L876.9,2664.7 L878.0,2664.6 L879.0,2664.5 L880.1,2664.4 L881.1,2664.2 L882.1,2664.0 L883.2,2663.8 L884.2,2663.5 L885.2,2663.2 L886.3,2663.0 L887.3,2662.6 L888.3,2662.0 L889.1,2661.3 L889.4,2660.9 L890.4,2659.2 L891.4,2657.2 L892.5,2654.7 L893.5,2651.9 L894.6,2648.9 L895.6,2645.6 L896.6,2642.1 L897.7,2638.5 L898.7,2634.8 L899.7,2631.1 L900.8,2627.5 L901.8,2623.9 L902.8,2620.2 L903.9,2616.3 L904.9,2612.1 L905.9,2607.6 L907.0,2602.9 L908.0,2598.0 L909.1,2593.0 L910.1,2587.7 L911.1,2582.4 L912.2,2576.9 L913.2,2571.4 L914.2,2565.7 L915.3,2560.1 L916.3,2554.4 L917.3,2548.7 L918.4,2543.0 L919.4,2537.3 L920.4,2531.8 L921.5,2526.3 L922.5,2520.9 L923.6,2515.6 L924.6,2510.5 L925.4,2506.5 L925.6,2505.6 L926.7,2500.7 L927.7,2495.9 L928.7,2491.1 L929.8,2486.4 L930.8,2481.7 L931.8,2477.0 L932.9,2472.4 L933.9,2467.7 L934.9,2463.1 L936.0,2458.6 L937.0,2454.0 L938.1,2449.4 L939.1,2444.9 L940.1,2440.3 L941.2,2435.8 L942.2,2431.3 L943.2,2426.7 L944.3,2422.2 L945.3,2417.6 L946.3,2413.0 L947.4,2408.4 L948.4,2403.8 L949.4,2399.2 L950.5,2394.5 L951.5,2389.8 L952.6,2385.1 L953.6,2380.3 L954.6,2375.5 L955.7,2370.8 L956.7,2366.1 L957.7,2361.4 L958.8,2356.7 L959.8,2352.0 L960.8,2347.3 L961.9,2342.6 L962.9,2337.8 L964.0,2333.0 L965.0,2328.2 L966.0,2323.2 L967.1,2318.2 L968.1,2313.1 L969.1,2307.9 L970.2,2302.7 L971.2,2297.3 L972.2,2291.7 L973.3,2286.1 L974.3,2280.3 L975.3,2274.4 L976.4,2268.3 L977.4,2262.2 L978.5,2255.9 L979.5,2249.6 L980.5,2243.1 L981.6,2236.6 L982.6,2230.0 L983.6,2223.4 L984.7,2216.6 L985.7,2209.9 L986.7,2203.0 L987.8,2196.2 L988.8,2189.3 L989.8,2182.4 L990.9,2175.5 L991.9,2168.6 L993.0,2161.6 L994.0,2154.7 L995.0,2147.8 L996.1,2140.7 L997.1,2133.2 L998.1,2125.4 L999.2,2117.4 L1000.2,2109.2 L1001.2,2100.9 L1002.3,2092.6 L1003.3,2084.3 L1004.3,2076.1 L1005.4,2068.1 L1006.4,2060.4 L1007.5,2053.0 L1008.5,2046.0 L1009.5,2039.4 L1010.6,2033.4 L1011.6,2028.0 L1012.6,2023.3 L1013.0,2021.6 L1013.7,2019.2 L1014.7,2015.2 L1015.7,2011.2 L1016.8,2007.3 L1017.8,2003.5 L1018.8,1999.8 L1019.9,1996.2 L1020.9,1992.7 L1022.0,1989.4 L1023.0,1986.1 L1024.0,1983.0 L1025.1,1980.0 L1026.1,1977.2 L1027.1,1974.5 L1028.2,1972.1 L1029.2,1969.8 L1030.2,1967.6 L1031.3,1965.7 L1032.3,1964.1 L1033.3,1962.6 L1034.4,1961.3 L1035.4,1960.3 L1036.5,1959.6 L1037.5,1959.0 L1038.5,1958.4 L1039.6,1957.8 L1040.6,1957.2 L1041.6,1956.7 L1042.7,1956.2 L1043.7,1955.7 L1044.7,1955.3 L1045.8,1954.9 L1046.8,1954.5 L1047.8,1954.2 L1048.9,1953.9 L1049.9,1953.6 L1051.0,1953.4 L1052.0,1953.2 L1053.0,1953.1 L1054.1,1953.0 L1055.1,1952.9 L1055.3,1952.9 L1056.1,1953.2 L1057.2,1954.1 L1058.2,1955.7 L1059.2,1957.9 L1060.3,1960.6 L1061.3,1963.9 L1062.3,1967.6 L1063.4,1971.8 L1064.4,1976.3 L1065.5,1981.2 L1066.5,1986.3 L1067.5,1991.6 L1068.6,1997.2 L1069.6,2002.9 L1070.6,2008.6 L1071.7,2014.4 L1072.7,2020.2 L1073.7,2026.0 L1074.8,2031.6 L1075.8,2037.1 L1076.8,2042.6 L1077.9,2048.5 L1078.9,2054.7 L1080.0,2061.1 L1081.0,2067.8 L1082.0,2074.7 L1083.1,2081.9 L1084.1,2089.2 L1085.1,2096.7 L1086.2,2104.4 L1087.2,2112.2 L1088.2,2120.1 L1089.3,2128.0 L1090.3,2136.1 L1091.3,2144.2 L1092.4,2152.4 L1093.4,2160.5 L1094.5,2168.7 L1095.5,2176.8 L1096.3,2183.2 L1096.5,2184.8 L1097.6,2193.0 L1098.6,2201.4 L1099.6,2209.9 L1100.7,2218.6 L1101.7,2227.4 L1102.7,2236.4 L1103.8,2245.4 L1104.8,2254.5 L1105.8,2263.6 L1106.9,2272.9 L1107.9,2282.1 L1109.0,2291.3 L1110.0,2300.6 L1111.0,2309.8 L1112.1,2318.9 L1113.1,2328.0 L1114.1,2337.0 L1115.2,2346.0 L1116.2,2354.8 L1117.2,2363.4 L1118.3,2372.0 L1119.3,2380.3 L1120.3,2388.6 L1121.4,2397.0 L1122.4,2405.4 L1123.5,2413.8 L1124.5,2422.3 L1125.5,2430.7 L1126.6,2439.1 L1127.6,2447.4 L1128.6,2455.7 L1129.7,2463.8 L1130.7,2471.9 L1131.7,2479.8 L1132.8,2487.5 L1133.8,2495.0 L1134.8,2502.4 L1135.9,2509.5 L1136.9,2516.4 L1138.0,2523.0 L1138.0,2523.5 L1139.0,2529.3 L1140.0,2535.3 L1141.1,2541.1 L1142.1,2546.9 L1143.1,2552.6 L1144.2,2558.2 L1145.2,2563.8 L1146.2,2569.2 L1147.3,2574.5 L1148.3,2579.7 L1149.3,2584.8 L1150.4,2589.7 L1151.4,2594.5 L1152.5,2599.1 L1153.5,2603.6 L1154.5,2607.9 L1155.6,2612.0 L1156.6,2615.9 L1157.6,2619.6 L1158.7,2623.1 L1159.7,2626.4 L1160.7,2629.4 L1161.8,2632.3 L1162.8,2635.1 L1163.8,2637.9 L1164.9,2640.6 L1165.9,2643.2 L1167.0,2645.8 L1168.0,2648.3 L1169.0,2650.7 L1170.1,2653.0 L1171.1,2655.3 L1172.1,2657.5 L1173.2,2659.6 L1174.2,2661.6 L1175.2,2663.6 L1176.3,2665.4 L1177.3,2667.2 L1178.4,2668.9 L1179.4,2670.5 L1179.5,2670.7 L1180.4,2672.0 L1181.5,2673.4 L1182.5,2674.7 L1183.5,2675.9 L1184.6,2677.0 L1185.6,2678.2 L1186.6,2679.3 L1187.7,2680.4 L1188.7,2681.5 L1189.7,2682.6 L1190.8,2683.7 L1191.8,2684.7 L1192.9,2685.8 L1193.9,2686.8 L1194.9,2687.9 L1196.0,2688.9 L1197.0,2689.9 L1198.0,2690.9 L1199.1,2691.8 L1200.1,2692.8 L1201.1,2693.7 L1202.2,2694.6 L1203.2,2695.4 L1204.2,2696.3 L1205.3,2697.1 L1206.3,2697.9 L1207.4,2698.6 L1208.4,2699.3 L1209.4,2700.0 L1210.5,2700.7 L1211.5,2701.3 L1212.5,2701.9 L1216.7,2704.0 L1220.8,2705.3 L1221.0,2705.4 L1225.0,2706.0 L1229.1,2706.0 L1233.2,2706.0 L1237.4,2706.0 L1241.5,2706.0 L1245.7,2706.0 L1249.8,2706.0 L1254.0,2706.0 L1258.1,2706.0 L1262.2,2706.0 L1262.5,2706.0 L1266.4,2706.0 L1270.5,2706.0 L1274.7,2705.5 L1278.8,2704.7 L1283.0,2703.5 L1287.1,2702.1 L1291.2,2700.5 L1295.4,2698.8 L1299.5,2697.1 L1303.7,2695.4 L1304.0,2695.3 L1307.8,2693.9 L1312.0,2692.6 L1316.1,2691.0 L1320.2,2689.3 L1324.4,2687.6 L1328.5,2685.8 L1332.7,2684.1 L1336.8,2682.6 L1341.0,2681.3 L1345.1,2680.3 L1345.5,2680.3 L1349.2,2679.7 L1353.4,2679.6 L1357.5,2679.7 L1361.7,2680.0 L1365.8,2680.5 L1370.0,2681.1 L1374.1,2681.8 L1378.2,2682.6 L1382.4,2683.6 L1386.5,2684.5 L1387.0,2684.6 L1390.7,2685.6 L1394.8,2686.8 L1399.0,2688.6 L1403.1,2690.9 L1407.3,2693.6 L1411.4,2696.6 L1415.5,2699.9 L1419.7,2703.2 L1423.8,2706.5 L1428.0,2709.8 L1428.5,2710.2 L1432.1,2712.8 L1436.3,2715.6 L1440.4,2718.6 L1444.5,2721.6 L1448.7,2724.6 L1452.8,2727.6 L1457.0,2730.6 L1461.1,2733.5 L1465.3,2736.2 L1469.4,2738.7 L1470.0,2739.1 L1473.5,2741.1 L1477.7,2743.2 L1481.8,2745.2 L1486.0,2747.1 L1490.1,2749.0 L1494.3,2750.8 L1498.4,2752.5 L1502.5,2754.1 L1506.7,2755.6 L1510.8,2756.9 L1511.5,2757.1 L1515.0,2758.1 L1519.1,2759.2 L1523.3,2760.2 L1527.4,2761.0 L1531.5,2761.8 L1535.7,2762.6 L1539.8,2763.3 L1544.0,2764.0 L1548.1,2764.7 L1552.3,2765.4 L1553.0,2765.6 L1556.4,2766.2 L1560.5,2767.1 L1564.7,2768.0 L1568.8,2769.0 L1573.0,2770.0 L1577.1,2771.0 L1581.3,2772.1 L1585.4,2773.1 L1589.5,2774.0 L1593.7,2774.9 L1594.5,2775.0 L1597.8,2775.6 L1602.0,2776.3 L1606.1,2776.9 L1610.3,2777.5 L1614.4,2778.0 L1618.5,2778.6 L1622.7,2779.1 L1626.8,2779.5 L1631.0,2780.0 L1635.1,2780.4 L1635.9,2780.5 L1639.3,2780.8 L1643.4,2781.2 L1647.5,2781.7 L1651.7,2782.1 L1655.8,2782.5 L1660.0,2783.0 L1664.1,2783.3 L1668.3,2783.7 L1672.4,2783.9 L1676.5,2784.1 L1677.4,2784.2 L1680.7,2784.2 L1684.8,2784.2 L1689.0,2784.2 L1693.1,2784.2 L1697.3,2784.2 L1701.4,2784.2 L1705.5,2784.2 L1709.7,2784.2 L1713.8,2784.2 L1718.0,2784.2 L1718.9,2784.2 L1722.1,2784.2 L1726.3,2784.2 L1730.4,2784.2 L1734.5,2784.2 L1738.7,2784.3 L1742.8,2784.3 L1747.0,2784.3 L1751.1,2784.4 L1755.3,2784.4 L1759.4,2784.4 L1760.4,2784.4 L1763.5,2784.4 L1767.7,2784.4 L1771.8,2784.4 L1776.0,2784.4 L1780.1,2784.4 L1784.3,2784.4 L1788.4,2784.4 L1792.5,2784.4 L1796.7,2784.4 L1800.8,2784.4 L1801.9,2784.4 L1805.0,2784.4 L1809.1,2784.4 L1813.3,2784.4 L1817.4,2784.4 L1821.6,2784.4 L1825.7,2784.4 L1829.8,2784.4 L1834.0,2784.4 L1838.1,2784.4 L1842.3,2784.4 L1843.4,2784.4 L1846.4,2784.4 L1850.6,2784.4 L1854.7,2784.4 L1858.8,2784.4 L1863.0,2784.4 L1867.1,2784.4 L1871.3,2784.4 L1875.4,2784.4 L1879.6,2784.4 L1883.7,2784.4 L1884.9,2784.4 L1887.8,2784.4 L1892.0,2784.4 L1896.1,2784.4 L1900.3,2784.4 L1904.4,2784.4 L1908.6,2784.4 L1912.7,2784.4 L1916.8,2784.4 L1921.0,2784.4 L1925.1,2784.4 L1926.4,2784.4 L1929.3,2784.4 L1933.4,2784.4 L1937.6,2784.4 L1941.7,2784.4 L1945.8,2784.4 L1950.0,2784.4 L1954.1,2784.4 L1958.3,2784.4 L1962.4,2784.4 L1966.6,2784.4 L1967.9,2784.4" fill="none" stroke="#008080" stroke-width="4.6" stroke-linejoin="round" stroke-linecap="butt"/>
<polygon points="391.2,2750.1 372.2,2718.5 410.2,2718.5" fill="#008080"/>
<polygon points="432.7,2792.9 413.7,2761.3 451.7,2761.3" fill="#008080"/>
<polygon points="474.2,2803.9 455.2,2772.3 493.2,2772.3" fill="#008080"/>
<polygon points="515.7,2807.6 496.7,2776.0 534.7,2776.0" fill="#008080"/>
<polygon points="557.1,2804.6 538.1,2773.0 576.1,2773.0" fill="#008080"/>
<polygon points="598.6,2799.3 579.6,2767.7 617.6,2767.7" fill="#008080"/>
<polygon points="640.1,2789.7 621.1,2758.1 659.1,2758.1" fill="#008080"/>
<polygon points="681.2,2753.4 662.2,2721.8 700.2,2721.8" fill="#008080"/>
<polygon points="723.1,2714.9 704.1,2683.3 742.1,2683.3" fill="#008080"/>
<polygon points="766.1,2696.9 747.1,2665.3 785.1,2665.3" fill="#008080"/>
<polygon points="802.4,2641.6 783.4,2610.0 821.4,2610.0" fill="#008080"/>
<polygon points="847.6,2652.5 828.6,2620.9 866.6,2620.9" fill="#008080"/>
<polygon points="889.1,2682.3 870.1,2650.7 908.1,2650.7" fill="#008080"/>
<polygon points="925.4,2527.5 906.4,2495.9 944.4,2495.9" fill="#008080"/>
<polygon points="972.2,2312.7 953.2,2281.1 991.2,2281.1" fill="#008080"/>
<polygon points="1013.0,2042.6 994.0,2011.0 1032.0,2011.0" fill="#008080"/>
<polygon points="1055.3,1973.9 1036.3,1942.3 1074.3,1942.3" fill="#008080"/>
<polygon points="1096.3,2204.2 1077.3,2172.6 1115.3,2172.6" fill="#008080"/>
<polygon points="1138.0,2544.5 1119.0,2512.9 1157.0,2512.9" fill="#008080"/>
<polygon points="1179.5,2691.7 1160.5,2660.1 1198.5,2660.1" fill="#008080"/>
<polygon points="1221.0,2726.4 1202.0,2694.8 1240.0,2694.8" fill="#008080"/>
<polygon points="1262.5,2727.0 1243.5,2695.4 1281.5,2695.4" fill="#008080"/>
<polygon points="1304.0,2716.3 1285.0,2684.7 1323.0,2684.7" fill="#008080"/>
<polygon points="1345.5,2701.3 1326.5,2669.7 1364.5,2669.7" fill="#008080"/>
<polygon points="1387.0,2705.6 1368.0,2674.0 1406.0,2674.0" fill="#008080"/>
<polygon points="1428.5,2731.2 1409.5,2699.6 1447.5,2699.6" fill="#008080"/>
<polygon points="1470.0,2760.1 1451.0,2728.5 1489.0,2728.5" fill="#008080"/>
<polygon points="1511.5,2778.1 1492.5,2746.5 1530.5,2746.5" fill="#008080"/>
<polygon points="1553.0,2786.6 1534.0,2755.0 1572.0,2755.0" fill="#008080"/>
<polygon points="1594.5,2796.0 1575.5,2764.4 1613.5,2764.4" fill="#008080"/>
<polygon points="1635.9,2801.5 1616.9,2769.9 1654.9,2769.9" fill="#008080"/>
<polygon points="1677.4,2805.2 1658.4,2773.6 1696.4,2773.6" fill="#008080"/>
<polygon points="1718.9,2805.2 1699.9,2773.6 1737.9,2773.6" fill="#008080"/>
<polygon points="1760.4,2805.4 1741.4,2773.8 1779.4,2773.8" fill="#008080"/>
<polygon points="1801.9,2805.4 1782.9,2773.8 1820.9,2773.8" fill="#008080"/>
<polygon points="1843.4,2805.4 1824.4,2773.8 1862.4,2773.8" fill="#008080"/>
<polygon points="1884.9,2805.4 1865.9,2773.8 1903.9,2773.8" fill="#008080"/>
<polygon points="1926.4,2805.4 1907.4,2773.8 1945.4,2773.8" fill="#008080"/>
<polygon points="1967.9,2805.4 1948.9,2773.8 1986.9,2773.8" fill="#008080"/>
<path d="M393.3,2752.1 L396.4,2754.8 L400.5,2758.3 L404.6,2761.7 L408.8,2765.0 L412.9,2768.0 L417.1,2770.9 L421.2,2773.4 L425.4,2775.6 L429.5,2777.5 L433.6,2778.9 L434.7,2779.2 L437.8,2780.1 L441.9,2781.1 L446.1,2782.1 L450.2,2783.0 L454.4,2783.9 L458.5,2784.6 L462.6,2785.2 L466.8,2785.8 L470.9,2786.3 L475.1,2786.6 L476.2,2786.7 L479.2,2787.0 L483.4,2787.3 L487.5,2787.6 L491.6,2787.9 L495.8,2788.2 L499.9,2788.4 L504.1,2788.6 L508.2,2788.7 L512.4,2788.8 L516.5,2788.9 L517.7,2788.9 L520.6,2788.8 L524.8,2788.6 L528.9,2788.4 L533.1,2788.1 L537.2,2787.7 L541.4,2787.3 L545.5,2786.9 L549.6,2786.4 L553.8,2786.0 L557.9,2785.5 L559.2,2785.4 L562.1,2785.1 L566.2,2784.6 L570.4,2784.1 L574.5,2783.6 L578.7,2783.1 L582.8,2782.5 L586.9,2781.9 L591.1,2781.3 L595.2,2780.6 L599.4,2780.0 L600.7,2779.8 L603.5,2779.4 L607.7,2778.7 L611.8,2778.0 L615.9,2777.3 L620.1,2776.6 L624.2,2775.8 L628.4,2775.0 L632.5,2774.1 L636.7,2773.2 L640.8,2772.3 L642.2,2771.9 L644.9,2771.3 L649.1,2770.2 L653.2,2769.2 L654.3,2768.9 L655.3,2768.6 L656.3,2768.3 L657.4,2768.0 L658.4,2767.6 L659.4,2767.3 L660.5,2767.0 L661.5,2766.6 L662.5,2766.3 L663.6,2765.9 L664.6,2765.5 L665.7,2765.1 L666.7,2764.6 L667.7,2764.2 L668.8,2763.7 L669.8,2763.3 L670.8,2762.8 L671.9,2762.3 L672.9,2761.7 L673.9,2761.2 L675.0,2760.6 L676.0,2759.9 L677.0,2759.2 L678.1,2758.5 L679.1,2757.7 L680.2,2756.8 L681.2,2755.8 L682.2,2754.8 L683.3,2753.7 L683.7,2753.2 L684.3,2752.6 L685.3,2751.3 L686.4,2750.0 L687.4,2748.7 L688.4,2747.2 L689.5,2745.7 L690.5,2744.1 L691.5,2742.4 L692.6,2740.6 L693.6,2738.8 L694.7,2736.8 L695.7,2734.4 L696.7,2731.4 L697.8,2727.6 L698.8,2723.4 L699.8,2718.6 L700.9,2713.5 L701.9,2708.1 L702.9,2702.4 L704.0,2696.7 L705.0,2690.8 L706.0,2685.0 L707.1,2679.3 L708.1,2673.8 L709.2,2668.6 L710.2,2663.7 L711.2,2659.3 L712.3,2655.0 L713.3,2650.3 L714.3,2645.5 L715.4,2640.6 L716.4,2635.6 L717.4,2630.8 L718.5,2626.1 L719.5,2621.7 L720.5,2617.7 L721.6,2614.1 L722.6,2611.1 L723.7,2608.7 L724.7,2607.1 L725.7,2606.3 L726.1,2606.2 L726.8,2606.3 L727.8,2607.1 L728.8,2608.4 L729.9,2610.3 L730.9,2612.5 L731.9,2615.1 L733.0,2618.0 L734.0,2621.0 L735.0,2624.0 L736.1,2627.1 L737.1,2630.0 L738.2,2632.7 L739.2,2635.1 L740.2,2637.2 L741.3,2639.0 L742.3,2640.9 L743.3,2642.8 L744.4,2644.7 L745.4,2646.6 L746.4,2648.5 L747.5,2650.3 L748.5,2652.0 L749.5,2653.6 L750.6,2655.2 L751.6,2656.6 L752.7,2657.9 L753.7,2659.1 L754.7,2660.1 L755.8,2660.9 L756.8,2661.5 L757.8,2662.0 L758.9,2662.5 L759.9,2663.0 L760.9,2663.5 L762.0,2663.8 L763.0,2664.2 L764.1,2664.5 L765.1,2664.7 L766.1,2664.8 L766.7,2664.8 L767.2,2664.9 L768.2,2664.8 L769.2,2664.6 L770.3,2664.2 L771.3,2663.8 L772.3,2663.3 L773.4,2662.6 L774.4,2661.9 L775.4,2661.1 L776.5,2660.3 L777.5,2659.4 L778.6,2658.5 L779.6,2657.5 L780.6,2656.6 L781.7,2655.6 L782.7,2654.7 L783.7,2653.7 L784.8,2652.8 L785.8,2652.0 L786.8,2651.2 L787.9,2650.5 L788.9,2649.7 L789.9,2649.0 L791.0,2648.2 L792.0,2647.3 L793.1,2646.4 L794.1,2645.6 L795.1,2644.7 L796.2,2643.8 L797.2,2642.9 L798.2,2642.1 L799.3,2641.3 L800.3,2640.5 L801.3,2639.8 L802.4,2639.2 L803.4,2638.6 L804.4,2638.1 L805.5,2637.7 L806.5,2637.4 L807.6,2637.2 L808.6,2637.2 L809.6,2637.2 L810.7,2637.3 L811.7,2637.4 L812.7,2637.5 L813.8,2637.7 L814.8,2638.0 L815.8,2638.2 L816.9,2638.5 L817.9,2638.8 L818.9,2639.1 L820.0,2639.4 L821.0,2639.8 L822.1,2640.2 L823.1,2640.5 L824.1,2640.9 L825.2,2641.3 L826.2,2641.7 L827.2,2642.0 L828.3,2642.4 L829.3,2642.7 L830.3,2643.0 L831.4,2643.4 L832.4,2643.7 L833.4,2644.1 L834.5,2644.4 L835.5,2644.8 L836.6,2645.2 L837.6,2645.5 L838.6,2645.9 L839.7,2646.3 L840.7,2646.7 L841.7,2647.1 L842.8,2647.5 L843.8,2648.0 L844.8,2648.4 L845.9,2648.9 L846.9,2649.3 L847.9,2649.8 L849.0,2650.3 L850.0,2650.8 L851.1,2651.3 L852.1,2651.9 L853.1,2652.4 L853.5,2652.7 L854.2,2653.0 L855.2,2653.7 L856.2,2654.5 L857.3,2655.3 L858.3,2656.1 L859.3,2657.1 L860.4,2658.1 L861.4,2659.1 L862.4,2660.1 L863.5,2661.1 L864.5,2662.2 L865.6,2663.3 L866.6,2664.3 L867.6,2665.4 L868.7,2666.4 L869.7,2667.4 L870.7,2668.3 L871.8,2669.2 L872.8,2670.0 L873.8,2670.8 L874.9,2671.5 L875.9,2672.1 L876.9,2672.6 L878.0,2673.1 L879.0,2673.5 L880.1,2674.0 L881.1,2674.5 L882.1,2674.9 L883.2,2675.4 L884.2,2675.8 L885.2,2676.2 L886.3,2676.5 L887.3,2676.9 L888.3,2677.2 L889.4,2677.5 L890.4,2677.7 L891.4,2677.9 L892.5,2678.0 L893.5,2678.1 L894.6,2678.1 L895.6,2677.7 L896.6,2676.6 L897.7,2674.9 L898.7,2672.5 L899.7,2669.7 L900.8,2666.6 L901.8,2663.1 L902.8,2659.5 L903.9,2655.7 L904.9,2652.0 L905.9,2648.2 L907.0,2644.3 L908.0,2639.9 L909.1,2634.9 L910.1,2629.5 L911.1,2623.7 L912.2,2617.6 L913.2,2611.2 L914.2,2604.5 L915.3,2597.6 L916.3,2590.5 L917.3,2583.3 L918.4,2576.1 L919.4,2568.8 L920.4,2561.6 L921.5,2554.4 L922.5,2547.3 L923.6,2540.4 L924.6,2533.7 L925.6,2527.3 L926.7,2521.2 L927.7,2515.4 L927.9,2514.3 L928.7,2509.9 L929.8,2504.4 L930.8,2499.1 L931.8,2493.7 L932.9,2488.5 L933.9,2483.3 L934.9,2478.1 L936.0,2473.0 L937.0,2468.0 L938.1,2463.0 L939.1,2458.0 L940.1,2453.1 L941.2,2448.3 L942.2,2443.5 L943.2,2438.7 L944.3,2434.0 L945.3,2429.4 L946.3,2424.8 L947.4,2420.2 L948.4,2415.7 L949.4,2411.2 L950.5,2406.7 L951.5,2402.3 L952.6,2397.9 L953.6,2393.6 L954.6,2389.4 L955.7,2385.3 L956.7,2381.4 L957.7,2377.5 L958.8,2373.8 L959.8,2370.2 L960.8,2366.6 L961.9,2363.1 L962.9,2359.6 L964.0,2356.0 L965.0,2352.5 L966.0,2348.9 L967.1,2345.2 L968.1,2341.4 L969.1,2337.5 L970.2,2333.5 L971.2,2329.4 L972.2,2325.1 L973.3,2320.6 L974.3,2315.8 L974.7,2313.9 L975.3,2310.9 L976.4,2305.6 L977.4,2300.0 L978.5,2294.1 L979.5,2288.0 L980.5,2281.7 L981.6,2275.1 L982.6,2268.4 L983.6,2261.5 L984.7,2254.5 L985.7,2247.5 L986.7,2240.3 L987.8,2233.1 L988.8,2225.8 L989.8,2218.6 L990.9,2211.4 L991.9,2204.2 L993.0,2197.1 L994.0,2190.1 L995.0,2183.2 L996.1,2176.3 L997.1,2169.1 L998.1,2161.7 L999.2,2154.1 L1000.2,2146.4 L1001.2,2138.7 L1002.3,2130.9 L1003.3,2123.1 L1004.3,2115.4 L1005.4,2107.8 L1006.4,2100.4 L1007.5,2093.1 L1008.5,2086.1 L1009.5,2079.4 L1010.6,2073.0 L1011.6,2067.0 L1012.6,2061.4 L1013.7,2056.3 L1014.5,2052.6 L1014.7,2051.7 L1015.7,2047.3 L1016.8,2043.0 L1017.8,2038.7 L1018.8,2034.6 L1019.9,2030.5 L1020.9,2026.6 L1022.0,2022.7 L1023.0,2019.0 L1024.0,2015.4 L1025.1,2011.9 L1026.1,2008.5 L1027.1,2005.3 L1028.2,2002.3 L1029.2,1999.4 L1030.2,1996.6 L1031.3,1994.1 L1032.3,1991.7 L1033.3,1989.4 L1034.4,1987.4 L1035.4,1985.6 L1036.5,1983.9 L1037.5,1982.4 L1038.5,1980.9 L1039.6,1979.4 L1040.6,1977.9 L1041.6,1976.5 L1042.7,1975.1 L1043.7,1973.8 L1044.7,1972.6 L1045.8,1971.4 L1046.8,1970.4 L1047.8,1969.5 L1048.9,1968.8 L1049.9,1968.2 L1051.0,1967.7 L1052.0,1967.4 L1053.0,1967.3 L1054.1,1967.6 L1055.1,1968.3 L1056.1,1969.4 L1057.2,1970.9 L1058.2,1972.8 L1059.2,1975.1 L1060.3,1977.6 L1061.3,1980.5 L1062.3,1983.5 L1063.4,1986.8 L1064.4,1990.3 L1065.5,1993.9 L1066.5,1997.7 L1067.5,2001.5 L1068.6,2005.4 L1069.6,2009.3 L1070.6,2013.3 L1071.7,2017.2 L1072.7,2021.2 L1073.7,2025.7 L1074.8,2030.5 L1075.8,2035.7 L1076.8,2041.3 L1077.9,2047.1 L1078.9,2053.3 L1080.0,2059.7 L1081.0,2066.4 L1082.0,2073.3 L1083.1,2080.4 L1084.1,2087.7 L1085.1,2095.2 L1086.2,2102.8 L1087.2,2110.6 L1088.2,2118.4 L1089.3,2126.4 L1090.3,2134.4 L1091.3,2142.5 L1092.4,2150.6 L1093.4,2158.8 L1094.5,2166.9 L1095.5,2175.0 L1096.5,2183.0 L1097.6,2191.0 L1098.6,2199.1 L1099.6,2207.4 L1100.7,2216.0 L1101.7,2224.9 L1102.7,2233.9 L1103.8,2243.2 L1104.8,2252.5 L1105.8,2262.0 L1106.9,2271.6 L1107.9,2281.2 L1109.0,2290.8 L1110.0,2300.5 L1111.0,2310.1 L1112.1,2319.6 L1113.1,2329.1 L1114.1,2338.5 L1115.2,2347.7 L1116.2,2356.7 L1117.2,2365.6 L1118.3,2374.2 L1119.3,2382.5 L1120.3,2390.7 L1121.4,2399.0 L1122.4,2407.2 L1123.5,2415.4 L1124.5,2423.6 L1125.5,2431.7 L1126.6,2439.7 L1127.6,2447.7 L1128.6,2455.6 L1129.7,2463.3 L1130.7,2471.0 L1131.7,2478.5 L1132.8,2485.9 L1133.8,2493.1 L1134.8,2500.1 L1135.9,2506.9 L1136.9,2513.5 L1138.0,2519.9 L1139.0,2526.1 L1140.0,2532.0 L1140.1,2532.5 L1141.1,2537.7 L1142.1,2543.4 L1143.1,2549.0 L1144.2,2554.6 L1145.2,2560.0 L1146.2,2565.3 L1147.3,2570.6 L1148.3,2575.7 L1149.3,2580.7 L1150.4,2585.6 L1151.4,2590.4 L1152.5,2595.0 L1153.5,2599.5 L1154.5,2603.8 L1155.6,2608.0 L1156.6,2612.0 L1157.6,2615.8 L1158.7,2619.4 L1159.7,2622.9 L1160.7,2626.1 L1161.8,2629.2 L1162.8,2632.3 L1163.8,2635.4 L1164.9,2638.3 L1165.9,2641.3 L1167.0,2644.1 L1168.0,2646.9 L1169.0,2649.7 L1170.1,2652.3 L1171.1,2654.9 L1172.1,2657.4 L1173.2,2659.8 L1174.2,2662.1 L1175.2,2664.4 L1176.3,2666.5 L1177.3,2668.5 L1178.4,2670.4 L1179.4,2672.2 L1180.4,2673.9 L1181.5,2675.4 L1181.6,2675.6 L1182.5,2676.8 L1183.5,2678.1 L1184.6,2679.3 L1185.6,2680.4 L1186.6,2681.6 L1187.7,2682.7 L1188.7,2683.8 L1189.7,2685.0 L1190.8,2686.1 L1191.8,2687.1 L1192.9,2688.2 L1193.9,2689.3 L1194.9,2690.3 L1196.0,2691.3 L1197.0,2692.3 L1198.0,2693.3 L1199.1,2694.3 L1200.1,2695.2 L1201.1,2696.1 L1202.2,2697.0 L1203.2,2697.8 L1204.2,2698.7 L1205.3,2699.5 L1206.3,2700.3 L1207.4,2701.0 L1208.4,2701.7 L1209.4,2702.4 L1210.5,2703.1 L1211.5,2703.7 L1212.5,2704.3 L1216.7,2706.2 L1220.8,2707.6 L1223.1,2708.0 L1225.0,2708.2 L1229.1,2708.3 L1233.2,2708.3 L1237.4,2708.3 L1241.5,2708.3 L1245.7,2708.3 L1249.8,2708.3 L1254.0,2708.3 L1258.1,2708.3 L1262.2,2708.3 L1264.6,2708.3 L1266.4,2708.3 L1270.5,2708.2 L1274.7,2707.8 L1278.8,2706.9 L1283.0,2705.7 L1287.1,2704.3 L1291.2,2702.7 L1295.4,2701.0 L1299.5,2699.3 L1303.7,2697.6 L1306.1,2696.7 L1307.8,2696.1 L1312.0,2694.8 L1316.1,2693.2 L1320.2,2691.5 L1324.4,2689.8 L1328.5,2688.0 L1332.7,2686.4 L1336.8,2684.8 L1341.0,2683.5 L1345.1,2682.6 L1347.6,2682.1 L1349.2,2682.0 L1353.4,2681.8 L1357.5,2681.9 L1361.7,2682.2 L1365.8,2682.7 L1370.0,2683.3 L1374.1,2684.0 L1378.2,2684.9 L1382.4,2685.8 L1386.5,2686.8 L1389.1,2687.4 L1390.7,2687.8 L1394.8,2689.0 L1399.0,2690.8 L1403.1,2693.1 L1407.3,2695.8 L1411.4,2698.9 L1415.5,2702.1 L1419.7,2705.4 L1423.8,2708.7 L1428.0,2712.0 L1430.6,2713.9 L1432.1,2715.0 L1436.3,2717.8 L1440.4,2720.8 L1444.5,2723.8 L1448.7,2726.8 L1452.8,2729.8 L1457.0,2732.8 L1461.1,2735.7 L1465.3,2738.4 L1469.4,2740.9 L1472.0,2742.5 L1473.5,2743.3 L1477.7,2745.4 L1481.8,2747.4 L1486.0,2749.4 L1490.1,2751.2 L1494.3,2753.0 L1498.4,2754.7 L1502.5,2756.3 L1506.7,2757.8 L1510.8,2759.1 L1513.5,2759.9 L1515.0,2760.3 L1519.1,2761.4 L1523.3,2762.4 L1527.4,2763.3 L1531.5,2764.0 L1535.7,2764.8 L1539.8,2765.5 L1544.0,2766.2 L1548.1,2766.9 L1552.3,2767.6 L1555.0,2768.2 L1556.4,2768.4 L1560.5,2769.3 L1564.7,2770.2 L1568.8,2771.2 L1573.0,2772.2 L1577.1,2773.3 L1581.3,2774.3 L1585.4,2775.3 L1589.5,2776.2 L1593.7,2777.1 L1596.5,2777.6 L1597.8,2777.8 L1602.0,2778.5 L1606.1,2779.1 L1610.3,2779.7 L1614.4,2780.3 L1618.5,2780.8 L1622.7,2781.3 L1626.8,2781.7 L1631.0,2782.2 L1635.1,2782.6 L1638.0,2782.9 L1639.3,2783.0 L1643.4,2783.4 L1647.5,2783.9 L1651.7,2784.3 L1655.8,2784.8 L1660.0,2785.2 L1664.1,2785.6 L1668.3,2785.9 L1672.4,2786.2 L1676.5,2786.3 L1679.5,2786.4 L1680.7,2786.4 L1684.8,2786.4 L1689.0,2786.4 L1693.1,2786.4 L1697.3,2786.4 L1701.4,2786.4 L1705.5,2786.4 L1709.7,2786.4 L1713.8,2786.4 L1718.0,2786.4 L1721.0,2786.4 L1722.1,2786.4 L1726.3,2786.4 L1730.4,2786.4 L1734.5,2786.5 L1738.7,2786.5 L1742.8,2786.5 L1747.0,2786.6 L1751.1,2786.6 L1755.3,2786.6 L1759.4,2786.6 L1762.5,2786.6 L1763.5,2786.6 L1767.7,2786.6 L1771.8,2786.6 L1776.0,2786.6 L1780.1,2786.6 L1784.3,2786.6 L1788.4,2786.6 L1792.5,2786.6 L1796.7,2786.6 L1800.8,2786.6 L1804.0,2786.6 L1805.0,2786.6 L1809.1,2786.6 L1813.3,2786.6 L1817.4,2786.6 L1821.6,2786.6 L1825.7,2786.6 L1829.8,2786.6 L1834.0,2786.6 L1838.1,2786.6 L1842.3,2786.6 L1845.5,2786.6 L1846.4,2786.6 L1850.6,2786.6 L1854.7,2786.6 L1858.8,2786.6 L1863.0,2786.6 L1867.1,2786.6 L1871.3,2786.6 L1875.4,2786.6 L1879.6,2786.6 L1883.7,2786.6 L1887.0,2786.6 L1887.8,2786.6 L1892.0,2786.6 L1896.1,2786.6 L1900.3,2786.6 L1904.4,2786.6 L1908.6,2786.6 L1912.7,2786.6 L1916.8,2786.6 L1921.0,2786.6 L1925.1,2786.6 L1928.5,2786.6 L1929.3,2786.6 L1933.4,2786.6 L1937.6,2786.6 L1941.7,2786.6 L1945.8,2786.6 L1950.0,2786.6 L1954.1,2786.6 L1958.3,2786.6 L1962.4,2786.6 L1966.6,2786.6 L1970.0,2786.6" fill="none" stroke="#FF00FF" stroke-width="4.6" stroke-linejoin="round" stroke-linecap="butt"/>
<polygon points="372.3,2752.1 403.9,2733.1 403.9,2771.1" fill="#FF00FF"/>
<polygon points="413.7,2779.2 445.3,2760.2 445.3,2798.2" fill="#FF00FF"/>
<polygon points="455.2,2786.7 486.8,2767.7 486.8,2805.7" fill="#FF00FF"/>
<polygon points="496.7,2788.9 528.3,2769.9 528.3,2807.9" fill="#FF00FF"/>
<polygon points="538.2,2785.4 569.8,2766.4 569.8,2804.4" fill="#FF00FF"/>
<polygon points="579.7,2779.8 611.3,2760.8 611.3,2798.8" fill="#FF00FF"/>
<polygon points="621.2,2771.9 652.8,2752.9 652.8,2790.9" fill="#FF00FF"/>
<polygon points="662.7,2753.2 694.3,2734.2 694.3,2772.2" fill="#FF00FF"/>
<polygon points="705.1,2606.2 736.7,2587.2 736.7,2625.2" fill="#FF00FF"/>
<polygon points="745.7,2664.8 777.3,2645.8 777.3,2683.8" fill="#FF00FF"/>
<polygon points="786.6,2637.2 818.2,2618.2 818.2,2656.2" fill="#FF00FF"/>
<polygon points="832.5,2652.7 864.1,2633.7 864.1,2671.7" fill="#FF00FF"/>
<polygon points="873.6,2678.1 905.2,2659.1 905.2,2697.1" fill="#FF00FF"/>
<polygon points="906.9,2514.3 938.5,2495.3 938.5,2533.3" fill="#FF00FF"/>
<polygon points="953.7,2313.9 985.3,2294.9 985.3,2332.9" fill="#FF00FF"/>
<polygon points="993.5,2052.6 1025.1,2033.6 1025.1,2071.6" fill="#FF00FF"/>
<polygon points="1032.0,1967.3 1063.6,1948.3 1063.6,1986.3" fill="#FF00FF"/>
<polygon points="1076.6,2191.0 1108.2,2172.0 1108.2,2210.0" fill="#FF00FF"/>
<polygon points="1119.1,2532.5 1150.7,2513.5 1150.7,2551.5" fill="#FF00FF"/>
<polygon points="1160.6,2675.6 1192.2,2656.6 1192.2,2694.6" fill="#FF00FF"/>
<polygon points="1202.1,2708.0 1233.7,2689.0 1233.7,2727.0" fill="#FF00FF"/>
<polygon points="1243.6,2708.3 1275.2,2689.3 1275.2,2727.3" fill="#FF00FF"/>
<polygon points="1285.1,2696.7 1316.7,2677.7 1316.7,2715.7" fill="#FF00FF"/>
<polygon points="1326.6,2682.1 1358.2,2663.1 1358.2,2701.1" fill="#FF00FF"/>
<polygon points="1368.1,2687.4 1399.7,2668.4 1399.7,2706.4" fill="#FF00FF"/>
<polygon points="1409.6,2713.9 1441.2,2694.9 1441.2,2732.9" fill="#FF00FF"/>
<polygon points="1451.0,2742.5 1482.6,2723.5 1482.6,2761.5" fill="#FF00FF"/>
<polygon points="1492.5,2759.9 1524.1,2740.9 1524.1,2778.9" fill="#FF00FF"/>
<polygon points="1534.0,2768.2 1565.6,2749.2 1565.6,2787.2" fill="#FF00FF"/>
<polygon points="1575.5,2777.6 1607.1,2758.6 1607.1,2796.6" fill="#FF00FF"/>
<polygon points="1617.0,2782.9 1648.6,2763.9 1648.6,2801.9" fill="#FF00FF"/>
<polygon points="1658.5,2786.4 1690.1,2767.4 1690.1,2805.4" fill="#FF00FF"/>
<polygon points="1700.0,2786.4 1731.6,2767.4 1731.6,2805.4" fill="#FF00FF"/>
<polygon points="1741.5,2786.6 1773.1,2767.6 1773.1,2805.6" fill="#FF00FF"/>
<polygon points="1783.0,2786.6 1814.6,2767.6 1814.6,2805.6" fill="#FF00FF"/>
<polygon points="1824.5,2786.6 1856.1,2767.6 1856.1,2805.6" fill="#FF00FF"/>
<polygon points="1866.0,2786.6 1897.6,2767.6 1897.6,2805.6" fill="#FF00FF"/>
<polygon points="1907.5,2786.6 1939.1,2767.6 1939.1,2805.6" fill="#FF00FF"/>
<polygon points="1949.0,2786.6 1980.6,2767.6 1980.6,2805.6" fill="#FF00FF"/>
<path d="M398.6,2742.9 L400.5,2744.8 L404.6,2749.0 L408.8,2753.2 L412.9,2757.4 L417.1,2761.4 L421.2,2765.2 L425.4,2768.7 L429.5,2771.8 L433.6,2774.5 L437.8,2776.6 L440.9,2777.8 L441.9,2778.1 L446.1,2779.4 L450.2,2780.6 L454.4,2781.7 L458.5,2782.7 L462.6,2783.5 L466.8,2784.3 L470.9,2785.0 L475.1,2785.5 L479.2,2786.0 L482.5,2786.2 L483.4,2786.3 L487.5,2786.5 L491.6,2786.7 L495.8,2787.0 L499.9,2787.2 L504.1,2787.3 L508.2,2787.5 L512.4,2787.6 L516.5,2787.7 L520.6,2787.7 L524.2,2787.8 L524.8,2787.8 L528.9,2787.6 L533.1,2787.4 L537.2,2787.0 L541.4,2786.6 L545.5,2786.1 L549.6,2785.5 L553.8,2784.9 L557.9,2784.4 L562.1,2783.9 L566.0,2783.4 L566.2,2783.4 L570.4,2783.0 L574.5,2782.6 L578.7,2782.3 L582.8,2781.9 L586.9,2781.5 L591.1,2781.1 L595.2,2780.7 L599.4,2780.3 L603.5,2779.9 L607.2,2779.4 L607.7,2779.4 L611.8,2778.9 L615.9,2778.3 L620.1,2777.8 L624.2,2777.2 L628.4,2776.5 L632.5,2775.8 L636.7,2775.1 L640.8,2774.4 L644.9,2773.6 L648.9,2772.8 L649.1,2772.8 L653.2,2771.9 L654.3,2771.7 L655.3,2771.5 L656.3,2771.3 L657.4,2771.1 L658.4,2770.8 L659.4,2770.6 L660.5,2770.4 L661.5,2770.2 L662.5,2769.9 L663.6,2769.7 L664.6,2769.5 L665.7,2769.2 L666.7,2769.0 L667.7,2768.7 L668.8,2768.4 L669.8,2768.2 L670.8,2767.9 L671.9,2767.6 L672.9,2767.3 L673.9,2767.0 L675.0,2766.7 L676.0,2766.4 L677.0,2766.0 L678.1,2765.7 L679.1,2765.3 L680.2,2765.0 L681.2,2764.6 L682.2,2764.2 L683.3,2763.8 L684.3,2763.4 L685.3,2762.9 L686.4,2762.5 L687.4,2762.0 L688.4,2761.6 L689.3,2761.2 L689.5,2761.1 L690.5,2760.5 L691.5,2759.9 L692.6,2759.2 L693.6,2758.4 L694.7,2757.6 L695.7,2756.7 L696.7,2755.7 L697.8,2754.6 L698.8,2753.5 L699.8,2752.4 L700.9,2751.1 L701.9,2749.9 L702.9,2748.6 L704.0,2747.2 L705.0,2745.8 L706.0,2744.3 L707.1,2742.8 L708.1,2741.3 L709.2,2739.8 L710.2,2738.2 L711.2,2736.6 L712.3,2734.9 L713.3,2733.3 L714.3,2731.6 L715.4,2729.9 L716.4,2728.2 L717.4,2726.5 L718.5,2724.7 L719.5,2723.0 L720.5,2721.2 L721.6,2719.5 L722.6,2717.8 L723.7,2716.0 L724.7,2714.3 L725.7,2712.6 L726.8,2710.9 L727.8,2709.2 L728.8,2707.6 L729.9,2705.9 L730.3,2705.3 L730.9,2704.3 L731.9,2702.6 L733.0,2701.0 L734.0,2699.3 L735.0,2697.6 L736.1,2695.9 L737.1,2694.1 L738.2,2692.3 L739.2,2690.6 L740.2,2688.7 L741.3,2686.9 L742.3,2685.1 L743.3,2683.2 L744.4,2681.4 L745.4,2679.5 L746.4,2677.6 L747.5,2675.7 L748.5,2673.8 L749.5,2671.9 L750.6,2669.9 L751.6,2668.0 L752.7,2666.0 L753.7,2664.0 L754.7,2662.1 L755.8,2660.1 L756.8,2658.1 L757.8,2656.1 L758.9,2654.1 L759.9,2652.1 L760.9,2650.1 L762.0,2648.1 L763.0,2646.1 L764.1,2644.1 L765.1,2642.0 L766.1,2640.0 L767.2,2638.0 L768.2,2636.0 L769.2,2634.0 L770.3,2631.9 L771.3,2629.9 L772.1,2628.3 L772.3,2627.9 L773.4,2625.8 L774.4,2623.6 L775.4,2621.3 L776.5,2618.9 L777.5,2616.5 L778.6,2613.9 L779.6,2611.3 L780.6,2608.6 L781.7,2605.9 L782.7,2603.2 L783.7,2600.4 L784.8,2597.5 L785.8,2594.7 L786.8,2591.9 L787.9,2589.0 L788.9,2586.2 L789.9,2583.4 L791.0,2580.7 L792.0,2577.9 L793.1,2575.2 L794.1,2572.6 L795.1,2570.0 L796.2,2567.5 L797.2,2565.1 L798.2,2562.8 L799.3,2560.5 L800.3,2558.4 L801.3,2556.4 L802.4,2554.5 L803.4,2552.7 L804.4,2551.1 L805.5,2549.6 L806.5,2548.3 L807.6,2547.2 L808.6,2546.2 L809.6,2545.4 L810.7,2544.8 L811.7,2544.4 L812.7,2544.2 L813.1,2544.2 L813.8,2544.2 L814.8,2544.6 L815.8,2545.2 L816.9,2546.0 L817.9,2547.2 L818.9,2548.5 L820.0,2550.0 L821.0,2551.7 L822.1,2553.5 L823.1,2555.5 L824.1,2557.6 L825.2,2559.8 L826.2,2562.0 L827.2,2564.3 L828.3,2566.6 L829.3,2569.0 L830.3,2571.3 L831.4,2573.5 L832.4,2575.8 L833.4,2577.9 L834.5,2579.9 L835.5,2581.8 L836.6,2583.7 L837.6,2585.6 L838.6,2587.6 L839.7,2589.5 L840.7,2591.6 L841.7,2593.6 L842.8,2595.7 L843.8,2597.7 L844.8,2599.8 L845.9,2601.9 L846.9,2603.9 L847.9,2605.9 L849.0,2607.9 L850.0,2609.9 L851.1,2611.8 L852.1,2613.7 L853.1,2615.5 L854.2,2617.3 L855.2,2619.0 L856.2,2620.6 L857.3,2622.2 L858.3,2623.8 L859.3,2625.5 L860.4,2627.3 L861.4,2629.0 L862.4,2630.8 L863.5,2632.6 L864.5,2634.3 L865.6,2636.0 L866.6,2637.7 L867.6,2639.3 L868.7,2640.8 L869.7,2642.3 L870.7,2643.6 L871.8,2644.8 L872.8,2646.0 L873.8,2646.9 L874.9,2647.8 L875.9,2648.4 L876.9,2648.9 L878.0,2649.3 L879.0,2649.4 L880.1,2649.2 L881.1,2648.8 L882.1,2648.2 L883.2,2647.4 L884.2,2646.3 L885.2,2645.1 L886.3,2643.7 L887.3,2642.1 L888.3,2640.4 L889.4,2638.6 L890.4,2636.7 L891.4,2634.6 L892.5,2632.5 L893.5,2630.4 L894.6,2628.1 L895.6,2625.9 L896.0,2625.0 L896.6,2623.5 L897.7,2620.6 L898.7,2617.2 L899.7,2613.3 L900.8,2608.9 L901.8,2604.2 L902.8,2599.1 L903.9,2593.8 L904.9,2588.2 L905.9,2582.4 L907.0,2576.5 L908.0,2570.6 L909.1,2564.6 L910.1,2558.7 L911.1,2552.8 L912.2,2547.1 L913.2,2541.5 L914.2,2536.2 L915.3,2531.2 L916.3,2526.5 L917.3,2522.0 L918.4,2517.6 L919.4,2513.3 L920.4,2509.1 L921.5,2505.0 L922.5,2500.9 L923.6,2496.9 L924.6,2492.9 L925.6,2488.9 L926.7,2485.0 L927.7,2481.1 L928.7,2477.2 L929.8,2473.3 L930.8,2469.4 L931.8,2465.4 L932.9,2461.5 L933.9,2457.5 L934.9,2453.5 L936.0,2449.4 L937.0,2445.3 L938.1,2441.1 L939.1,2436.8 L940.1,2432.5 L941.2,2428.2 L942.2,2423.8 L943.2,2419.5 L944.3,2415.2 L945.3,2410.9 L946.3,2406.6 L947.4,2402.3 L948.4,2397.9 L949.4,2393.6 L950.5,2389.2 L951.5,2384.8 L952.6,2380.4 L953.6,2376.0 L954.6,2371.6 L955.7,2367.2 L956.7,2362.7 L957.7,2358.2 L958.8,2353.7 L959.8,2349.1 L960.8,2344.5 L961.9,2339.9 L962.9,2335.3 L964.0,2330.6 L965.0,2325.9 L966.0,2321.2 L967.1,2316.4 L968.1,2311.6 L969.1,2306.7 L970.2,2301.8 L971.2,2296.8 L972.2,2291.8 L973.3,2286.8 L974.3,2281.7 L975.3,2276.5 L976.4,2271.3 L977.4,2266.0 L978.5,2260.7 L978.7,2259.6 L979.5,2255.3 L980.5,2249.6 L981.6,2243.6 L982.6,2237.5 L983.6,2231.2 L984.7,2224.7 L985.7,2218.0 L986.7,2211.1 L987.8,2204.1 L988.8,2197.1 L989.8,2189.8 L990.9,2182.6 L991.9,2175.2 L993.0,2167.8 L994.0,2160.3 L995.0,2152.8 L996.1,2145.3 L997.1,2137.8 L998.1,2130.4 L999.2,2122.9 L1000.2,2115.5 L1001.2,2108.2 L1002.3,2101.0 L1003.3,2093.9 L1004.3,2086.9 L1005.4,2080.0 L1006.4,2073.3 L1007.5,2066.7 L1008.5,2060.3 L1009.5,2054.1 L1010.6,2048.2 L1011.6,2042.4 L1012.6,2036.9 L1013.7,2031.7 L1014.7,2026.7 L1015.7,2022.0 L1016.8,2017.7 L1017.8,2013.6 L1018.8,2009.9 L1019.7,2007.2 L1019.9,2006.5 L1020.9,2003.3 L1022.0,2000.0 L1023.0,1996.7 L1024.0,1993.5 L1025.1,1990.2 L1026.1,1987.0 L1027.1,1983.9 L1028.2,1980.8 L1029.2,1977.8 L1030.2,1974.8 L1031.3,1972.0 L1032.3,1969.2 L1033.3,1966.6 L1034.4,1964.1 L1035.4,1961.8 L1036.5,1959.6 L1037.5,1957.5 L1038.5,1955.7 L1039.6,1954.0 L1040.6,1952.5 L1041.6,1951.3 L1042.7,1950.2 L1043.7,1949.4 L1044.7,1948.9 L1045.8,1948.6 L1046.8,1948.5 L1047.8,1948.7 L1048.9,1949.0 L1049.9,1949.5 L1051.0,1950.1 L1052.0,1950.9 L1053.0,1951.8 L1054.1,1952.8 L1055.1,1954.0 L1056.1,1955.3 L1057.2,1956.6 L1058.2,1958.1 L1059.2,1959.7 L1060.3,1961.3 L1061.3,1963.0 L1062.3,1964.8 L1063.2,1966.2 L1063.4,1966.6 L1064.4,1969.1 L1065.5,1972.4 L1066.5,1976.5 L1067.5,1981.2 L1068.6,1986.6 L1069.6,1992.6 L1070.6,1999.1 L1071.7,2006.0 L1072.7,2013.2 L1073.7,2020.8 L1074.8,2028.5 L1075.8,2036.5 L1076.8,2044.5 L1077.9,2052.5 L1078.9,2060.5 L1080.0,2068.4 L1081.0,2076.1 L1082.0,2083.6 L1083.1,2091.0 L1084.1,2098.6 L1085.1,2106.4 L1086.2,2114.3 L1087.2,2122.4 L1088.2,2130.6 L1089.3,2139.0 L1090.3,2147.5 L1091.3,2156.0 L1092.4,2164.7 L1093.4,2173.4 L1094.5,2182.2 L1095.5,2191.0 L1096.5,2199.9 L1097.6,2208.8 L1098.6,2217.7 L1099.6,2226.5 L1100.7,2235.4 L1101.7,2244.2 L1102.5,2251.2 L1102.7,2253.0 L1103.8,2261.8 L1104.8,2270.9 L1105.8,2280.0 L1106.9,2289.2 L1107.9,2298.6 L1109.0,2308.0 L1110.0,2317.4 L1111.0,2326.8 L1112.1,2336.2 L1113.1,2345.5 L1114.1,2354.8 L1115.2,2364.0 L1116.2,2373.0 L1117.2,2382.0 L1118.3,2390.7 L1119.3,2399.3 L1120.3,2407.6 L1121.4,2415.7 L1122.4,2423.7 L1123.5,2431.7 L1124.5,2439.7 L1125.5,2447.6 L1126.6,2455.5 L1127.6,2463.4 L1128.6,2471.2 L1129.7,2478.9 L1130.7,2486.5 L1131.7,2494.0 L1132.8,2501.3 L1133.8,2508.6 L1134.8,2515.6 L1135.9,2522.5 L1136.9,2529.2 L1138.0,2535.8 L1139.0,2542.1 L1140.0,2548.1 L1141.1,2554.0 L1142.1,2559.6 L1143.1,2564.9 L1144.2,2570.0 L1145.2,2575.1 L1146.2,2580.1 L1147.3,2585.0 L1148.3,2589.9 L1149.3,2594.6 L1150.4,2599.2 L1151.4,2603.7 L1152.5,2608.1 L1153.5,2612.3 L1154.5,2616.4 L1155.6,2620.3 L1156.6,2624.1 L1157.6,2627.7 L1158.7,2631.1 L1159.7,2634.3 L1160.7,2637.3 L1161.8,2640.1 L1162.8,2642.7 L1163.8,2645.1 L1164.9,2647.5 L1165.9,2649.8 L1167.0,2652.0 L1168.0,2654.2 L1169.0,2656.2 L1170.1,2658.3 L1171.1,2660.2 L1172.1,2662.1 L1173.2,2663.9 L1174.2,2665.6 L1175.2,2667.3 L1176.3,2668.8 L1177.3,2670.4 L1178.4,2671.8 L1179.4,2673.2 L1180.4,2674.6 L1181.5,2675.8 L1182.5,2677.0 L1183.5,2678.1 L1183.9,2678.6 L1184.6,2679.2 L1185.6,2680.3 L1186.6,2681.4 L1187.7,2682.5 L1188.7,2683.5 L1189.7,2684.6 L1190.8,2685.6 L1191.8,2686.7 L1192.9,2687.7 L1193.9,2688.8 L1194.9,2689.8 L1196.0,2690.8 L1197.0,2691.8 L1198.0,2692.7 L1199.1,2693.7 L1200.1,2694.6 L1201.1,2695.6 L1202.2,2696.5 L1203.2,2697.3 L1204.2,2698.2 L1205.3,2699.0 L1206.3,2699.8 L1207.4,2700.6 L1208.4,2701.3 L1209.4,2702.0 L1210.5,2702.7 L1211.5,2703.4 L1212.5,2704.0 L1216.7,2706.1 L1220.8,2707.5 L1225.0,2708.2 L1226.4,2708.3 L1229.1,2708.3 L1233.2,2708.3 L1237.4,2708.3 L1241.5,2708.3 L1245.7,2708.3 L1249.8,2708.3 L1254.0,2708.3 L1258.1,2708.3 L1262.2,2708.3 L1266.4,2708.3 L1268.7,2708.3 L1270.5,2708.2 L1274.7,2707.8 L1278.8,2706.9 L1283.0,2705.7 L1287.1,2704.3 L1291.2,2702.7 L1295.4,2701.0 L1299.5,2699.3 L1303.7,2697.6 L1307.8,2696.1 L1309.7,2695.5 L1312.0,2694.8 L1316.1,2693.2 L1320.2,2691.5 L1324.4,2689.8 L1328.5,2688.0 L1332.7,2686.4 L1336.8,2684.8 L1341.0,2683.5 L1345.1,2682.6 L1349.2,2682.0 L1352.6,2681.8 L1353.4,2681.8 L1357.5,2681.9 L1361.7,2682.2 L1365.8,2682.7 L1370.0,2683.3 L1374.1,2684.0 L1378.2,2684.9 L1382.4,2685.8 L1386.5,2686.8 L1390.7,2687.8 L1391.9,2688.1 L1394.8,2689.0 L1399.0,2690.8 L1403.1,2693.1 L1407.3,2695.8 L1411.4,2698.9 L1415.5,2702.1 L1419.7,2705.4 L1423.8,2708.7 L1428.0,2712.0 L1432.1,2715.0 L1433.6,2716.0 L1436.3,2717.8 L1440.4,2720.8 L1444.5,2723.8 L1448.7,2726.8 L1452.8,2729.8 L1457.0,2732.8 L1461.1,2735.7 L1465.3,2738.4 L1469.4,2740.9 L1473.5,2743.3 L1475.2,2744.1 L1477.7,2745.4 L1481.8,2747.4 L1486.0,2749.4 L1490.1,2751.2 L1494.3,2753.0 L1498.4,2754.7 L1502.5,2756.3 L1506.7,2757.8 L1510.8,2759.1 L1515.0,2760.3 L1516.8,2760.8 L1519.1,2761.4 L1523.3,2762.4 L1527.4,2763.3 L1531.5,2764.0 L1535.7,2764.8 L1539.8,2765.5 L1544.0,2766.2 L1548.1,2766.9 L1552.3,2767.6 L1556.4,2768.4 L1558.9,2768.9 L1560.5,2769.3 L1564.7,2770.2 L1568.8,2771.2 L1573.0,2772.2 L1577.1,2773.3 L1581.3,2774.3 L1585.4,2775.3 L1589.5,2776.2 L1593.7,2777.1 L1597.8,2777.8 L1599.5,2778.1 L1602.0,2778.5 L1606.1,2779.1 L1610.3,2779.7 L1614.4,2780.3 L1618.5,2780.8 L1622.7,2781.3 L1626.8,2781.7 L1631.0,2782.2 L1635.1,2782.6 L1639.3,2783.0 L1640.1,2783.1 L1643.4,2783.4 L1647.5,2783.9 L1651.7,2784.3 L1655.8,2784.8 L1660.0,2785.2 L1664.1,2785.6 L1668.3,2785.9 L1672.4,2786.2 L1676.5,2786.3 L1680.7,2786.4 L1681.7,2786.4 L1684.8,2786.4 L1689.0,2786.4 L1693.1,2786.4 L1697.3,2786.4 L1701.4,2786.4 L1705.5,2786.4 L1709.7,2786.4 L1713.8,2786.4 L1718.0,2786.4 L1722.1,2786.4 L1723.4,2786.4 L1726.3,2786.4 L1730.4,2786.4 L1734.5,2786.5 L1738.7,2786.5 L1742.8,2786.5 L1747.0,2786.6 L1751.1,2786.6 L1755.3,2786.6 L1759.4,2786.6 L1763.5,2786.6 L1765.0,2786.6 L1767.7,2786.6 L1771.8,2786.6 L1776.0,2786.6 L1780.1,2786.6 L1784.3,2786.6 L1788.4,2786.6 L1792.5,2786.6 L1796.7,2786.6 L1800.8,2786.6 L1805.0,2786.6 L1806.6,2786.6 L1809.1,2786.6 L1813.3,2786.6 L1817.4,2786.6 L1821.6,2786.6 L1825.7,2786.6 L1829.8,2786.6 L1834.0,2786.6 L1838.1,2786.6 L1842.3,2786.6 L1846.4,2786.6 L1848.3,2786.6 L1850.6,2786.6 L1854.7,2786.6 L1858.8,2786.6 L1863.0,2786.6 L1867.1,2786.6 L1871.3,2786.6 L1875.4,2786.6 L1879.6,2786.6 L1883.7,2786.6 L1887.8,2786.6 L1889.9,2786.6 L1892.0,2786.6 L1896.1,2786.6 L1900.3,2786.6 L1904.4,2786.6 L1908.6,2786.6 L1912.7,2786.6 L1916.8,2786.6 L1921.0,2786.6 L1925.1,2786.6 L1929.3,2786.6 L1930.5,2786.6 L1933.4,2786.6 L1937.6,2786.6 L1941.7,2786.6 L1945.8,2786.6 L1950.0,2786.6 L1954.1,2786.6 L1958.3,2786.6 L1962.4,2786.6 L1966.6,2786.6 L1970.7,2786.6 L1973.0,2786.6" fill="none" stroke="#808000" stroke-width="4.6" stroke-linejoin="round" stroke-linecap="butt"/>
<polygon points="419.6,2742.9 388.0,2723.9 388.0,2761.9" fill="#808000"/>
<polygon points="461.9,2777.8 430.3,2758.8 430.3,2796.8" fill="#808000"/>
<polygon points="503.5,2786.2 471.9,2767.2 471.9,2805.2" fill="#808000"/>
<polygon points="545.2,2787.8 513.6,2768.8 513.6,2806.8" fill="#808000"/>
<polygon points="587.0,2783.4 555.4,2764.4 555.4,2802.4" fill="#808000"/>
<polygon points="628.2,2779.4 596.6,2760.4 596.6,2798.4" fill="#808000"/>
<polygon points="669.9,2772.8 638.3,2753.8 638.3,2791.8" fill="#808000"/>
<polygon points="710.3,2761.2 678.7,2742.2 678.7,2780.2" fill="#808000"/>
<polygon points="751.3,2705.3 719.7,2686.3 719.7,2724.3" fill="#808000"/>
<polygon points="793.1,2628.3 761.5,2609.3 761.5,2647.3" fill="#808000"/>
<polygon points="834.1,2544.2 802.5,2525.2 802.5,2563.2" fill="#808000"/>
<polygon points="877.2,2620.6 845.6,2601.6 845.6,2639.6" fill="#808000"/>
<polygon points="917.0,2625.0 885.4,2606.0 885.4,2644.0" fill="#808000"/>
<polygon points="960.1,2436.8 928.5,2417.8 928.5,2455.8" fill="#808000"/>
<polygon points="999.7,2259.6 968.1,2240.6 968.1,2278.6" fill="#808000"/>
<polygon points="1040.7,2007.2 1009.1,1988.2 1009.1,2026.2" fill="#808000"/>
<polygon points="1084.2,1966.2 1052.6,1947.2 1052.6,1985.2" fill="#808000"/>
<polygon points="1123.5,2251.2 1091.9,2232.2 1091.9,2270.2" fill="#808000"/>
<polygon points="1164.1,2564.9 1132.5,2545.9 1132.5,2583.9" fill="#808000"/>
<polygon points="1204.9,2678.6 1173.3,2659.6 1173.3,2697.6" fill="#808000"/>
<polygon points="1247.4,2708.3 1215.8,2689.3 1215.8,2727.3" fill="#808000"/>
<polygon points="1289.7,2708.3 1258.1,2689.3 1258.1,2727.3" fill="#808000"/>
<polygon points="1330.7,2695.5 1299.1,2676.5 1299.1,2714.5" fill="#808000"/>
<polygon points="1373.6,2681.8 1342.0,2662.8 1342.0,2700.8" fill="#808000"/>
<polygon points="1412.9,2688.1 1381.3,2669.1 1381.3,2707.1" fill="#808000"/>
<polygon points="1454.6,2716.0 1423.0,2697.0 1423.0,2735.0" fill="#808000"/>
<polygon points="1496.2,2744.1 1464.6,2725.1 1464.6,2763.1" fill="#808000"/>
<polygon points="1537.8,2760.8 1506.2,2741.8 1506.2,2779.8" fill="#808000"/>
<polygon points="1579.9,2768.9 1548.3,2749.9 1548.3,2787.9" fill="#808000"/>
<polygon points="1620.5,2778.1 1588.9,2759.1 1588.9,2797.1" fill="#808000"/>
<polygon points="1661.1,2783.1 1629.5,2764.1 1629.5,2802.1" fill="#808000"/>
<polygon points="1702.7,2786.4 1671.1,2767.4 1671.1,2805.4" fill="#808000"/>
<polygon points="1744.4,2786.4 1712.8,2767.4 1712.8,2805.4" fill="#808000"/>
<polygon points="1786.0,2786.6 1754.4,2767.6 1754.4,2805.6" fill="#808000"/>
<polygon points="1827.6,2786.6 1796.0,2767.6 1796.0,2805.6" fill="#808000"/>
<polygon points="1869.3,2786.6 1837.7,2767.6 1837.7,2805.6" fill="#808000"/>
<polygon points="1910.9,2786.6 1879.3,2767.6 1879.3,2805.6" fill="#808000"/>
<polygon points="1951.5,2786.6 1919.9,2767.6 1919.9,2805.6" fill="#808000"/>
<polygon points="1994.0,2786.6 1962.4,2767.6 1962.4,2805.6" fill="#808000"/>
<rect x="342.5" y="1685.0" width="1657.2" height="1217.9" fill="none" stroke="#000" stroke-width="6.2"/>
<path d="M342.5,2902.9v25.0M549.6,2902.9v25.0M756.8,2902.9v25.0M964.0,2902.9v25.0M1171.1,2902.9v25.0M1378.2,2902.9v25.0M1585.4,2902.9v25.0M1792.5,2902.9v25.0M1999.7,2902.9v25.0M446.1,2902.9v13.0M653.2,2902.9v13.0M860.4,2902.9v13.0M1067.5,2902.9v13.0M1274.7,2902.9v13.0M1481.8,2902.9v13.0M1689.0,2902.9v13.0M1896.1,2902.9v13.0M342.5,2792.2h-24.0M342.5,2570.7h-24.0M342.5,2349.3h-24.0M342.5,2127.9h-24.0M342.5,1906.4h-24.0M342.5,1685.0h-24.0M342.5,2902.9h-12.0M342.5,2681.5h-12.0M342.5,2460.0h-12.0M342.5,2238.6h-12.0M342.5,2017.2h-12.0M342.5,1795.7h-12.0" stroke="#000" stroke-width="6.2" fill="none"/>
<text x="343.0" y="2999.5" font-size="74" text-anchor="middle">0</text>
<text x="550.1" y="2999.5" font-size="74" text-anchor="middle">100</text>
<text x="757.3" y="2999.5" font-size="74" text-anchor="middle">200</text>
<text x="964.5" y="2999.5" font-size="74" text-anchor="middle">300</text>
<text x="1171.6" y="2999.5" font-size="74" text-anchor="middle">400</text>
<text x="1378.8" y="2999.5" font-size="74" text-anchor="middle">500</text>
<text x="1585.9" y="2999.5" font-size="74" text-anchor="middle">600</text>
<text x="1793.0" y="2999.5" font-size="74" text-anchor="middle">700</text>
<text x="2000.2" y="2999.5" font-size="74" text-anchor="middle">800</text>
<text x="302.0" y="2813.2" font-size="74" text-anchor="end">0.0</text>
<text x="302.0" y="2591.7" font-size="74" text-anchor="end">0.2</text>
<text x="302.0" y="2370.3" font-size="74" text-anchor="end">0.4</text>
<text x="302.0" y="2148.9" font-size="74" text-anchor="end">0.6</text>
<text x="302.0" y="1927.4" font-size="74" text-anchor="end">0.8</text>
<text x="302.0" y="1706.0" font-size="74" text-anchor="end">1.0</text>
<line x1="1519.5" y1="1741.8" x2="1689.9" y2="1741.8" stroke="#000000" stroke-width="5.5"/>
<rect x="1590.6" y="1730.1" width="26.0" height="26.0" fill="#000000"/>
<text x="1705.0" y="1767.8" font-size="74" letter-spacing="0.9">PUR-I0</text>
<line x1="1519.5" y1="1834.7" x2="1689.9" y2="1834.7" stroke="#FF0000" stroke-width="5.5"/>
<circle cx="1603.6" cy="1836.0" r="15" fill="#FF0000"/>
<text x="1705.0" y="1860.7" font-size="74" letter-spacing="0.9">PUR-I2</text>
<line x1="1519.5" y1="1927.6" x2="1689.9" y2="1927.6" stroke="#0000FF" stroke-width="5.5"/>
<polygon points="1603.6,1907.4 1583.1,1939.7 1624.1,1939.7" fill="#0000FF"/>
<text x="1705.0" y="1953.6" font-size="74" letter-spacing="0.9">PUR-I4</text>
<line x1="1519.5" y1="2020.5" x2="1689.9" y2="2020.5" stroke="#008080" stroke-width="5.5"/>
<polygon points="1603.6,2043.3 1583.1,2011.0 1624.1,2011.0" fill="#008080"/>
<text x="1705.0" y="2046.5" font-size="74" letter-spacing="0.9">PUR-I6</text>
<line x1="1519.5" y1="2113.4" x2="1689.9" y2="2113.4" stroke="#FF00FF" stroke-width="5.5"/>
<polygon points="1582.1,2114.7 1614.4,2094.2 1614.4,2135.2" fill="#FF00FF"/>
<text x="1705.0" y="2139.4" font-size="74" letter-spacing="0.9">PUR-I8</text>
<line x1="1519.5" y1="2206.3" x2="1689.9" y2="2206.3" stroke="#808000" stroke-width="5.5"/>
<polygon points="1625.1,2207.6 1592.8,2187.1 1592.8,2228.1" fill="#808000"/>
<text x="1705.0" y="2232.3" font-size="74" letter-spacing="0.9">PUR-I10</text>
<text x="44" y="1731" font-size="95" textLength="116" lengthAdjust="spacingAndGlyphs">(b)</text>
<text transform="translate(158.5,2333.2) rotate(-90)" font-size="82" text-anchor="middle" textLength="686" lengthAdjust="spacingAndGlyphs">Deriv. weight (%/°C)</text>
<text x="1170.7" y="3133" font-size="79" text-anchor="middle" textLength="571" lengthAdjust="spacingAndGlyphs">Temperature (°C)</text>
</g>
</svg>
</body></html>
